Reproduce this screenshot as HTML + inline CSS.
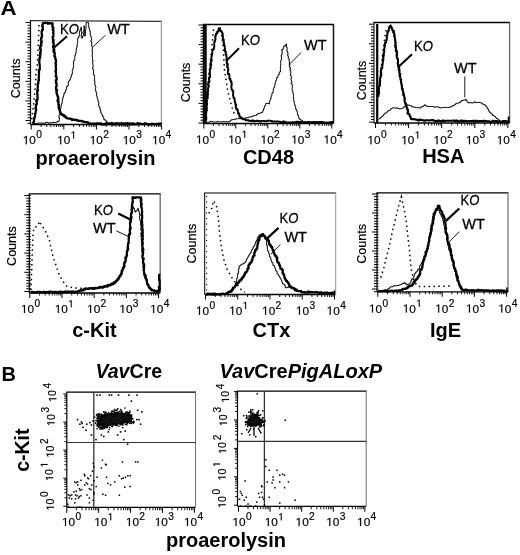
<!DOCTYPE html>
<html><head><meta charset="utf-8"><style>
html,body{margin:0;padding:0;background:#fff;overflow:hidden;}
svg{display:block;filter:blur(0.35px);}
text{font-family:"Liberation Sans", sans-serif;fill:#000;}
.th{stroke:#000;stroke-width:0.3px;}
.tl{stroke:#000;stroke-width:0.18px;}
</style></head><body>
<svg width="520" height="555" viewBox="0 0 520 555" shape-rendering="auto">
<rect width="520" height="555" fill="#fff"/>
<text x="0.60" y="15.30" font-size="20" font-weight="bold" font-style="normal" text-anchor="start" textLength="16.1" lengthAdjust="spacingAndGlyphs">A</text>
<text x="1.60" y="380.90" font-size="20" font-weight="bold" font-style="normal" text-anchor="start" >B</text>
<line x1="29.90" y1="20.60" x2="161.90" y2="21.40" stroke="#333" stroke-width="1.2" />
<line x1="30.50" y1="20.60" x2="30.50" y2="124.50" stroke="#000" stroke-width="1.2" />
<line x1="30.50" y1="124.50" x2="161.40" y2="124.50" stroke="#000" stroke-width="1.3" />
<line x1="161.40" y1="20.60" x2="161.40" y2="124.50" stroke="#999" stroke-width="1.2" />
<line x1="25.50" y1="22.50" x2="30.50" y2="22.50" stroke="#000" stroke-width="1" />
<line x1="27.50" y1="25.30" x2="30.50" y2="25.30" stroke="#000" stroke-width="1" />
<line x1="27.50" y1="28.10" x2="30.50" y2="28.10" stroke="#000" stroke-width="1" />
<line x1="27.50" y1="30.90" x2="30.50" y2="30.90" stroke="#000" stroke-width="1" />
<line x1="27.50" y1="33.70" x2="30.50" y2="33.70" stroke="#000" stroke-width="1" />
<line x1="27.50" y1="36.50" x2="30.50" y2="36.50" stroke="#000" stroke-width="1" />
<line x1="27.50" y1="39.30" x2="30.50" y2="39.30" stroke="#000" stroke-width="1" />
<line x1="25.50" y1="42.10" x2="30.50" y2="42.10" stroke="#000" stroke-width="1" />
<line x1="27.50" y1="44.90" x2="30.50" y2="44.90" stroke="#000" stroke-width="1" />
<line x1="27.50" y1="47.70" x2="30.50" y2="47.70" stroke="#000" stroke-width="1" />
<line x1="27.50" y1="50.50" x2="30.50" y2="50.50" stroke="#000" stroke-width="1" />
<line x1="27.50" y1="53.30" x2="30.50" y2="53.30" stroke="#000" stroke-width="1" />
<line x1="27.50" y1="56.10" x2="30.50" y2="56.10" stroke="#000" stroke-width="1" />
<line x1="27.50" y1="58.90" x2="30.50" y2="58.90" stroke="#000" stroke-width="1" />
<line x1="25.50" y1="61.70" x2="30.50" y2="61.70" stroke="#000" stroke-width="1" />
<line x1="27.50" y1="64.50" x2="30.50" y2="64.50" stroke="#000" stroke-width="1" />
<line x1="27.50" y1="67.30" x2="30.50" y2="67.30" stroke="#000" stroke-width="1" />
<line x1="27.50" y1="70.10" x2="30.50" y2="70.10" stroke="#000" stroke-width="1" />
<line x1="27.50" y1="72.90" x2="30.50" y2="72.90" stroke="#000" stroke-width="1" />
<line x1="27.50" y1="75.70" x2="30.50" y2="75.70" stroke="#000" stroke-width="1" />
<line x1="27.50" y1="78.50" x2="30.50" y2="78.50" stroke="#000" stroke-width="1" />
<line x1="25.50" y1="81.30" x2="30.50" y2="81.30" stroke="#000" stroke-width="1" />
<line x1="27.50" y1="84.10" x2="30.50" y2="84.10" stroke="#000" stroke-width="1" />
<line x1="27.50" y1="86.90" x2="30.50" y2="86.90" stroke="#000" stroke-width="1" />
<line x1="27.50" y1="89.70" x2="30.50" y2="89.70" stroke="#000" stroke-width="1" />
<line x1="27.50" y1="92.50" x2="30.50" y2="92.50" stroke="#000" stroke-width="1" />
<line x1="27.50" y1="95.30" x2="30.50" y2="95.30" stroke="#000" stroke-width="1" />
<line x1="27.50" y1="98.10" x2="30.50" y2="98.10" stroke="#000" stroke-width="1" />
<line x1="25.50" y1="100.90" x2="30.50" y2="100.90" stroke="#000" stroke-width="1" />
<line x1="27.50" y1="103.70" x2="30.50" y2="103.70" stroke="#000" stroke-width="1" />
<line x1="27.50" y1="106.50" x2="30.50" y2="106.50" stroke="#000" stroke-width="1" />
<line x1="27.50" y1="109.30" x2="30.50" y2="109.30" stroke="#000" stroke-width="1" />
<line x1="27.50" y1="112.10" x2="30.50" y2="112.10" stroke="#000" stroke-width="1" />
<line x1="27.50" y1="114.90" x2="30.50" y2="114.90" stroke="#000" stroke-width="1" />
<line x1="27.50" y1="117.70" x2="30.50" y2="117.70" stroke="#000" stroke-width="1" />
<line x1="25.50" y1="120.50" x2="30.50" y2="120.50" stroke="#000" stroke-width="1" />
<line x1="27.50" y1="123.30" x2="30.50" y2="123.30" stroke="#000" stroke-width="1" />
<line x1="31.20" y1="124.50" x2="31.20" y2="129.50" stroke="#000" stroke-width="1" />
<line x1="41.01" y1="124.50" x2="41.01" y2="127.00" stroke="#000" stroke-width="0.9" />
<line x1="46.75" y1="124.50" x2="46.75" y2="127.00" stroke="#000" stroke-width="0.9" />
<line x1="50.83" y1="124.50" x2="50.83" y2="127.00" stroke="#000" stroke-width="0.9" />
<line x1="53.99" y1="124.50" x2="53.99" y2="127.00" stroke="#000" stroke-width="0.9" />
<line x1="56.57" y1="124.50" x2="56.57" y2="127.00" stroke="#000" stroke-width="0.9" />
<line x1="58.75" y1="124.50" x2="58.75" y2="127.00" stroke="#000" stroke-width="0.9" />
<line x1="60.64" y1="124.50" x2="60.64" y2="127.00" stroke="#000" stroke-width="0.9" />
<line x1="62.31" y1="124.50" x2="62.31" y2="127.00" stroke="#000" stroke-width="0.9" />
<line x1="63.80" y1="124.50" x2="63.80" y2="129.50" stroke="#000" stroke-width="1" />
<line x1="73.61" y1="124.50" x2="73.61" y2="127.00" stroke="#000" stroke-width="0.9" />
<line x1="79.35" y1="124.50" x2="79.35" y2="127.00" stroke="#000" stroke-width="0.9" />
<line x1="83.43" y1="124.50" x2="83.43" y2="127.00" stroke="#000" stroke-width="0.9" />
<line x1="86.59" y1="124.50" x2="86.59" y2="127.00" stroke="#000" stroke-width="0.9" />
<line x1="89.17" y1="124.50" x2="89.17" y2="127.00" stroke="#000" stroke-width="0.9" />
<line x1="91.35" y1="124.50" x2="91.35" y2="127.00" stroke="#000" stroke-width="0.9" />
<line x1="93.24" y1="124.50" x2="93.24" y2="127.00" stroke="#000" stroke-width="0.9" />
<line x1="94.91" y1="124.50" x2="94.91" y2="127.00" stroke="#000" stroke-width="0.9" />
<line x1="96.40" y1="124.50" x2="96.40" y2="129.50" stroke="#000" stroke-width="1" />
<line x1="106.21" y1="124.50" x2="106.21" y2="127.00" stroke="#000" stroke-width="0.9" />
<line x1="111.95" y1="124.50" x2="111.95" y2="127.00" stroke="#000" stroke-width="0.9" />
<line x1="116.03" y1="124.50" x2="116.03" y2="127.00" stroke="#000" stroke-width="0.9" />
<line x1="119.19" y1="124.50" x2="119.19" y2="127.00" stroke="#000" stroke-width="0.9" />
<line x1="121.77" y1="124.50" x2="121.77" y2="127.00" stroke="#000" stroke-width="0.9" />
<line x1="123.95" y1="124.50" x2="123.95" y2="127.00" stroke="#000" stroke-width="0.9" />
<line x1="125.84" y1="124.50" x2="125.84" y2="127.00" stroke="#000" stroke-width="0.9" />
<line x1="127.51" y1="124.50" x2="127.51" y2="127.00" stroke="#000" stroke-width="0.9" />
<line x1="129.00" y1="124.50" x2="129.00" y2="129.50" stroke="#000" stroke-width="1" />
<line x1="138.81" y1="124.50" x2="138.81" y2="127.00" stroke="#000" stroke-width="0.9" />
<line x1="144.55" y1="124.50" x2="144.55" y2="127.00" stroke="#000" stroke-width="0.9" />
<line x1="148.63" y1="124.50" x2="148.63" y2="127.00" stroke="#000" stroke-width="0.9" />
<line x1="151.79" y1="124.50" x2="151.79" y2="127.00" stroke="#000" stroke-width="0.9" />
<line x1="154.37" y1="124.50" x2="154.37" y2="127.00" stroke="#000" stroke-width="0.9" />
<line x1="156.55" y1="124.50" x2="156.55" y2="127.00" stroke="#000" stroke-width="0.9" />
<line x1="158.44" y1="124.50" x2="158.44" y2="127.00" stroke="#000" stroke-width="0.9" />
<line x1="160.11" y1="124.50" x2="160.11" y2="127.00" stroke="#000" stroke-width="0.9" />
<line x1="161.60" y1="124.50" x2="161.60" y2="129.50" stroke="#000" stroke-width="1" />
<path d="M515 0V1237L197 1010V1180L530 1409H696V0Z" transform="translate(22.80,144.20) scale(0.00576,-0.00576)" fill="#000" stroke="#000" stroke-width="31.2"/><text class="tl" x="29.36" y="144.20" font-size="11.8">0</text><text class="tl" x="36.23" y="138.40" font-size="10.2">0</text>
<path d="M515 0V1237L197 1010V1180L530 1409H696V0Z" transform="translate(57.20,144.20) scale(0.00576,-0.00576)" fill="#000" stroke="#000" stroke-width="31.2"/><text class="tl" x="63.76" y="144.20" font-size="11.8">0</text><path d="M515 0V1237L197 1010V1180L530 1409H696V0Z" transform="translate(70.63,138.40) scale(0.00498,-0.00498)" fill="#000" stroke="#000" stroke-width="36.1"/>
<path d="M515 0V1237L197 1010V1180L530 1409H696V0Z" transform="translate(89.80,144.20) scale(0.00576,-0.00576)" fill="#000" stroke="#000" stroke-width="31.2"/><text class="tl" x="96.36" y="144.20" font-size="11.8">0</text><text class="tl" x="103.23" y="138.40" font-size="10.2">2</text>
<path d="M515 0V1237L197 1010V1180L530 1409H696V0Z" transform="translate(122.80,144.20) scale(0.00576,-0.00576)" fill="#000" stroke="#000" stroke-width="31.2"/><text class="tl" x="129.36" y="144.20" font-size="11.8">0</text><text class="tl" x="136.23" y="138.40" font-size="10.2">3</text>
<path d="M515 0V1237L197 1010V1180L530 1409H696V0Z" transform="translate(152.10,144.20) scale(0.00576,-0.00576)" fill="#000" stroke="#000" stroke-width="31.2"/><text class="tl" x="158.66" y="144.20" font-size="11.8">0</text><text class="tl" x="165.53" y="138.40" font-size="10.2">4</text>
<text class="tl" x="0" y="0" font-size="12.5" text-anchor="middle" transform="translate(20.10,78.40) rotate(-90)">Counts</text>
<text x="95.50" y="165.00" font-size="20" font-weight="bold" font-style="normal" text-anchor="middle" >proaerolysin</text>
<polyline points="39.00,25.00 38.50,40.00 37.40,64.00 36.00,72.00 35.40,85.00 33.50,105.00 31.40,122.00" fill="none" stroke="#000" stroke-width="1.5" stroke-dasharray="1.5 3.4" />
<polyline points="32.99,122.97 34.58,122.97 34.58,123.57 36.15,123.57 36.15,123.45 37.71,123.45 37.71,122.95 39.29,122.95 39.29,123.12 40.86,123.12 40.86,123.04 42.43,123.04 42.43,123.18 44.01,123.18 44.01,123.26 45.41,123.26 45.41,122.58 46.84,122.58 46.84,122.46 48.30,122.46 48.30,123.13 49.71,123.13 49.71,122.71 51.15,122.71 51.15,122.95 52.55,122.95 52.55,122.21 53.99,122.21 53.99,122.55 55.81,122.55 55.81,122.24 57.29,122.24 57.29,121.38 59.19,121.38 59.19,119.27 59.43,119.27 59.43,117.78 58.93,117.78 58.93,116.15 59.19,116.15 59.19,114.67 59.92,114.67 59.92,113.26 60.55,113.26 60.55,111.84 60.32,111.84 60.32,110.27 60.45,110.27 60.45,108.75 60.94,108.75 60.94,107.32 60.91,107.32 60.91,105.78 61.39,105.78 61.39,104.35 61.89,104.35 61.89,102.92 62.25,102.92 62.25,101.47 62.33,101.47 62.33,99.95 62.64,99.95 62.64,98.48 62.94,98.48 62.94,97.01 63.47,97.01 63.47,95.59 63.88,95.59 63.88,94.01 64.22,94.01 64.22,92.41 65.47,92.41 65.47,91.15 65.79,91.15 65.79,89.54 66.42,89.54 66.42,88.05 66.62,88.05 66.62,86.40 67.87,86.40 67.87,85.16 68.34,85.16 68.34,83.62 68.30,83.62 68.30,81.88 69.06,81.88 69.06,80.45 69.95,80.45 69.95,79.05 70.50,79.05 70.50,77.53 71.25,77.53 71.25,76.08 71.37,76.08 71.37,74.40 72.29,74.40 72.29,72.95 72.39,72.95 72.39,71.51 72.30,71.51 72.30,70.05 72.79,70.05 72.79,68.68 73.29,68.68 73.29,67.31 73.49,67.31 73.49,65.89 73.43,65.89 73.43,64.43 73.74,64.43 73.74,63.03 73.49,63.03 73.49,61.52 73.99,61.52 73.99,59.97 74.80,59.97 74.80,58.49 74.77,58.49 74.77,56.83 74.88,56.83 74.88,55.21 75.53,55.21 75.53,53.69 75.98,53.69 75.98,52.13 76.19,52.13 76.19,50.71 76.16,50.71 76.16,49.26 76.46,49.26 76.46,47.85 76.76,47.85 76.76,46.45 77.23,46.45 77.23,45.08 77.24,45.08 77.24,43.63 77.37,43.63 77.37,42.20 77.69,42.20 77.69,40.80 77.60,40.80 77.60,39.13 77.93,39.13 77.93,37.55 78.83,37.55 78.83,36.09 79.39,36.09 79.39,34.55 79.37,34.55 79.37,32.90 79.51,32.90 79.51,31.26 79.96,31.26 79.96,29.75 80.87,29.75 80.87,28.43 81.07,28.43 81.07,27.00 81.26,27.00 81.26,28.57 81.46,28.57 81.46,30.14 81.18,30.14 81.18,31.71 81.74,31.71 81.74,33.29 81.49,33.29 81.49,34.86 81.09,34.86 81.09,36.43 81.50,36.43 81.50,38.07 82.46,38.07 82.46,37.99 82.52,37.99 82.52,36.43 82.99,36.43 82.99,34.93 83.58,34.93 83.58,33.45 82.96,33.45 82.96,31.79 83.88,31.79 83.88,30.35 84.14,30.35 84.14,28.82 84.42,28.82 84.42,27.29 84.08,27.29 84.08,25.70 84.02,25.70 84.02,27.17 84.28,27.17 84.28,28.64 84.24,28.64 84.24,30.11 84.37,30.11 84.37,31.59 84.70,31.59 84.70,33.06 83.97,33.06 83.97,34.53 84.30,34.53 84.30,36.06 84.93,36.06 84.93,35.98 85.32,35.98 85.32,34.53 85.41,34.53 85.41,33.07 85.40,33.07 85.40,31.59 85.51,31.59 85.51,30.12 85.79,30.12 85.79,28.67 85.98,28.67 85.98,27.21 86.08,27.21 86.08,25.74 86.05,25.74 86.05,24.26 86.20,24.26 86.20,22.38 88.24,22.38 88.24,22.74 88.62,22.74 88.62,24.15 88.59,24.15 88.59,25.65 88.68,25.65 88.68,27.12 89.07,27.12 89.07,28.53 89.41,28.53 89.41,29.94 89.72,29.94 89.72,31.33 90.39,31.33 90.39,32.74 90.04,32.74 90.04,34.26 90.36,34.26 90.36,35.71 91.06,35.71 91.06,37.11 91.30,37.11 91.30,38.57 91.47,38.57 91.47,40.03 90.98,40.03 90.98,41.57 91.61,41.57 91.61,42.98 91.90,42.98 91.90,44.43 91.62,44.43 91.62,45.95 92.04,45.95 92.04,47.39 92.35,47.39 92.35,48.80 92.33,48.80 92.33,50.23 92.07,50.23 92.07,51.67 92.46,51.67 92.46,53.07 92.43,53.07 92.43,54.50 92.10,54.50 92.10,55.94 92.39,55.94 92.39,57.35 92.57,57.35 92.57,58.76 92.50,58.76 92.50,60.19 92.97,60.19 92.97,61.59 92.71,61.59 92.71,63.03 92.74,63.03 92.74,64.45 93.02,64.45 93.02,65.87 93.15,65.87 93.15,67.26 92.63,67.26 92.63,68.85 93.17,68.85 93.17,70.32 93.63,70.32 93.63,71.80 93.47,71.80 93.47,73.35 93.47,73.35 93.47,74.89 94.37,74.89 94.37,76.31 94.56,76.31 94.56,77.82 94.64,77.82 94.64,79.34 94.31,79.34 94.31,80.91 95.00,80.91 95.00,82.36 94.73,82.36 94.73,83.89 94.96,83.89 94.96,85.36 95.29,85.36 95.29,86.81 95.79,86.81 95.79,88.23 95.33,88.23 95.33,89.79 95.70,89.79 95.70,91.24 96.16,91.24 96.16,92.67 96.64,92.67 96.64,94.10 96.47,94.10 96.47,95.63 97.04,95.63 97.04,97.00 97.23,97.00 97.23,98.47 97.81,98.47 97.81,99.84 97.89,99.84 97.89,101.33 98.74,101.33 98.74,102.63 98.88,102.63 98.88,104.11 98.64,104.11 98.64,105.68 99.08,105.68 99.08,107.10 99.98,107.10 99.98,108.29 99.92,108.29 99.92,109.78 100.81,109.78 100.81,110.98 100.68,110.98 100.68,112.49 101.26,112.49 101.26,113.78 101.96,113.78 101.96,115.03 102.49,115.03 102.49,116.29 103.61,116.29 103.61,117.74 103.87,117.74 103.87,119.71 105.29,119.71 105.29,120.73 106.42,120.73 106.42,122.11 107.99,122.11 107.99,123.02 109.43,123.02 109.43,122.69 110.87,122.69 110.87,122.35 112.29,122.35 112.29,123.00 113.72,123.00 113.72,123.12 115.16,123.12 115.16,122.91 116.59,122.91 116.59,122.75 118.03,122.75 118.03,122.66 119.46,122.66 119.46,122.66 120.90,122.66 120.90,122.55 122.32,122.55 122.32,123.00 123.76,123.00 123.76,122.81 125.19,122.81 125.19,122.62 126.63,122.62 126.63,122.56 128.05,122.56 128.05,123.09 129.49,123.09 129.49,122.78 130.92,122.78 130.92,122.99 132.35,122.99 132.35,122.86 133.78,122.86 133.78,123.37 135.21,123.37 135.21,123.42 136.66,123.42 136.66,122.65 138.09,122.65 138.09,122.84 139.52,122.84 139.52,122.98 140.94,122.98 140.94,123.60 142.37,123.60 142.37,123.44 143.81,123.44 143.81,123.06 145.25,123.06 145.25,122.97 146.67,122.97 146.67,123.41 148.10,123.41 148.10,123.58 149.53,123.58 149.53,123.69 150.98,123.69 150.98,123.19 152.40,123.19 152.40,123.70 153.83,123.70 153.83,123.55 155.27,123.55 155.27,123.39 156.70,123.39 156.70,123.86 158.14,123.86 158.14,123.21 159.56,123.21 159.56,123.68 161.00,123.68 161.00,123.50" fill="none" stroke="#000" stroke-width="1.0" stroke-linejoin="round" stroke-linecap="butt" />
<polyline points="32.65,123.69 33.21,123.69 33.21,122.03 34.05,122.03 34.05,120.45 34.01,120.45 34.01,118.64 34.51,118.64 34.51,116.97 35.04,116.97 35.04,115.31 35.05,115.31 35.05,113.56 35.57,113.56 35.57,112.10 35.85,112.10 35.85,110.60 36.18,110.60 36.18,109.11 35.57,109.11 35.57,107.53 35.95,107.53 35.95,106.05 35.87,106.05 35.87,104.52 36.81,104.52 36.81,103.09 36.84,103.09 36.84,101.57 36.28,101.57 36.28,100.00 37.46,100.00 37.46,98.59 37.59,98.59 37.59,97.09 37.40,97.09 37.40,95.55 37.51,95.55 37.51,94.04 37.17,94.04 37.17,92.48 37.16,92.48 37.16,90.96 37.88,90.96 37.88,89.51 37.52,89.51 37.52,87.97 37.75,87.97 37.75,86.48 37.89,86.48 37.89,84.98 37.75,84.98 37.75,83.47 38.32,83.47 38.32,82.00 38.38,82.00 38.38,80.50 38.91,80.50 38.91,79.02 38.64,79.02 38.64,77.50 38.87,77.50 38.87,76.01 38.80,76.01 38.80,74.50 39.07,74.50 39.07,73.01 38.94,73.01 38.94,71.50 38.84,71.50 38.84,69.98 39.72,69.98 39.72,68.53 39.81,68.53 39.81,67.03 39.74,67.03 39.74,65.52 39.69,65.52 39.69,64.01 39.35,64.01 39.35,62.49 39.35,62.49 39.35,60.98 39.51,60.98 39.51,59.49 39.36,59.49 39.36,57.97 40.22,57.97 40.22,56.52 39.91,56.52 39.91,54.99 40.50,54.99 40.50,53.52 40.09,53.52 40.09,51.99 40.81,51.99 40.81,50.53 40.78,50.53 40.78,49.04 40.01,49.04 40.01,47.36 40.39,47.36 40.39,45.79 41.31,45.79 41.31,44.27 40.99,44.27 40.99,42.63 41.70,42.63 41.70,41.10 41.21,41.10 41.21,39.44 41.01,39.44 41.01,37.82 41.78,37.82 41.78,36.29 42.10,36.29 42.10,34.71 41.69,34.71 41.69,33.07 41.65,33.07 41.65,31.46 42.06,31.46 42.06,29.86 42.89,29.86 42.89,28.30 42.80,28.30 42.80,26.66 42.24,26.66 42.24,24.98 42.80,24.98 42.80,23.12 44.33,23.12 44.33,22.96 45.87,22.96 45.87,22.92 47.40,22.92 47.40,23.73 48.93,23.73 48.93,23.05 50.47,23.05 50.47,23.47 52.06,23.47 52.06,23.39 52.64,23.39 52.64,25.14 52.35,25.14 52.35,27.04 53.31,27.04 53.31,28.79 52.80,28.79 52.80,30.36 53.43,30.36 53.43,31.89 53.15,31.89 53.15,33.46 53.43,33.46 53.43,35.00 53.42,35.00 53.42,36.56 52.71,36.56 52.71,38.14 52.94,38.14 52.94,39.69 53.55,39.69 53.55,41.22 52.96,41.22 52.96,42.80 53.76,42.80 53.76,44.33 53.61,44.33 53.61,45.89 53.16,45.89 53.16,47.46 53.45,47.46 53.45,49.02 54.26,49.02 54.26,50.42 53.51,50.42 53.51,52.06 54.58,52.06 54.58,53.42 54.75,53.42 54.75,54.92 54.41,54.92 54.41,56.49 55.12,56.49 55.12,57.91 55.38,57.91 55.38,59.39 55.84,59.39 55.84,60.84 56.05,60.84 56.05,62.38 55.57,62.38 55.57,64.00 56.01,64.00 56.01,65.59 55.68,65.59 55.68,67.20 56.00,67.20 56.00,68.79 55.97,68.79 55.97,70.40 55.48,70.40 55.48,72.02 56.06,72.02 56.06,73.60 56.03,73.60 56.03,75.20 55.77,75.20 55.77,76.82 56.58,76.82 56.58,78.39 56.68,78.39 56.68,80.00 55.85,80.00 55.85,81.60 55.95,81.60 55.95,83.20 56.58,83.20 56.58,84.80 56.64,84.80 56.64,86.40 56.04,86.40 56.04,88.04 56.02,88.04 56.02,89.55 57.03,89.55 57.03,90.94 56.41,90.94 56.41,92.54 56.68,92.54 56.68,94.02 57.19,94.02 57.19,95.47 57.59,95.47 57.59,96.93 58.13,96.93 58.13,98.37 58.40,98.37 58.40,99.85 57.60,99.85 57.60,101.48 58.59,101.48 58.59,102.86 58.29,102.86 58.29,104.50 59.00,104.50 59.00,106.00 58.60,106.00 58.60,107.65 59.06,107.65 59.06,109.18 59.61,109.18 59.61,110.70 59.89,110.70 59.89,112.09 60.61,112.09 60.61,114.05 62.24,114.05 62.24,115.09 64.00,115.09 64.00,116.34 65.68,116.34 65.68,117.76 67.14,117.76 67.14,118.52 68.76,118.52 68.76,118.72 70.42,118.72 70.42,118.82 71.77,118.82 71.77,119.94 73.54,119.94 73.54,119.64 75.10,119.64 75.10,119.88 76.56,119.88 76.56,120.44 78.03,120.44 78.03,120.92 79.62,120.92 79.62,120.79 81.11,120.79 81.11,121.21 82.58,121.21 82.58,121.70 84.05,121.70 84.05,122.21 85.65,122.21 85.65,122.02 87.12,122.02 87.12,122.56 88.55,122.56 88.55,123.43 90.11,123.43 90.11,123.69 91.72,123.69 91.72,123.50 93.28,123.50 93.28,123.71 94.86,123.71 94.86,123.76 96.48,123.76 96.48,123.44 98.00,123.44 98.00,123.49 99.50,123.49 99.50,123.47 101.00,123.47 101.00,124.45 102.50,124.45 102.50,124.22 104.00,124.22 104.00,124.51 105.50,124.51 105.50,123.47 107.00,123.47 107.00,124.15 108.50,124.15 108.50,123.98 110.00,123.98 110.00,124.25 111.50,124.25 111.50,123.80 113.00,123.80 113.00,124.55 114.50,124.55 114.50,123.53 116.00,123.53 116.00,124.05 117.50,124.05 117.50,124.26 119.00,124.26 119.00,124.44 120.50,124.44 120.50,124.26 122.00,124.26 122.00,124.22 123.50,124.22 123.50,124.32 125.00,124.32 125.00,124.46 126.50,124.46 126.50,123.84 128.00,123.84 128.00,124.20 129.50,124.20 129.50,124.44 131.00,124.44 131.00,124.41 132.50,124.41 132.50,123.91 134.00,123.91 134.00,124.32 135.50,124.32 135.50,124.40 137.00,124.40 137.00,124.08 138.50,124.08 138.50,124.14 140.00,124.14 140.00,123.87 141.50,123.87 141.50,124.09 143.00,124.09 143.00,124.12 144.50,124.12 144.50,123.54 146.00,123.54 146.00,124.15 147.50,124.15 147.50,124.54 149.00,124.54 149.00,124.42 150.50,124.42 150.50,124.25 152.00,124.25 152.00,123.88 153.50,123.88 153.50,124.26 155.00,124.26 155.00,124.09 156.50,124.09 156.50,123.93 158.00,123.93 158.00,124.37 159.50,124.37 159.50,123.54 161.00,123.54 161.00,124.00" fill="none" stroke="#000" stroke-width="2.2" stroke-linejoin="round" stroke-linecap="butt" />
<text x="59.90" y="34.10" font-size="14.3" font-weight="normal" font-style="normal" text-anchor="start" textLength="18.9" lengthAdjust="spacingAndGlyphs" class="th">K<tspan font-style="italic">O</tspan></text>
<line x1="67.00" y1="36.20" x2="54.20" y2="47.60" stroke="#000" stroke-width="2.0" />
<text x="107.20" y="34.00" font-size="14.5" font-weight="normal" font-style="normal" text-anchor="start" class="th">WT</text>
<line x1="105.50" y1="35.20" x2="92.70" y2="47.00" stroke="#000" stroke-width="0.9" />
<line x1="202.90" y1="24.50" x2="334.00" y2="24.50" stroke="#000" stroke-width="1.3" />
<line x1="203.50" y1="24.50" x2="203.50" y2="123.50" stroke="#000" stroke-width="1.5" />
<line x1="203.50" y1="123.50" x2="333.50" y2="123.50" stroke="#000" stroke-width="1.3" />
<line x1="333.50" y1="24.50" x2="333.50" y2="123.50" stroke="#111" stroke-width="1.5" />
<line x1="205.40" y1="24.50" x2="205.40" y2="123.50" stroke="#000" stroke-width="2.6" />
<line x1="198.50" y1="25.00" x2="203.50" y2="25.00" stroke="#000" stroke-width="1" />
<line x1="200.50" y1="27.80" x2="203.50" y2="27.80" stroke="#000" stroke-width="1" />
<line x1="200.50" y1="30.60" x2="203.50" y2="30.60" stroke="#000" stroke-width="1" />
<line x1="200.50" y1="33.40" x2="203.50" y2="33.40" stroke="#000" stroke-width="1" />
<line x1="200.50" y1="36.20" x2="203.50" y2="36.20" stroke="#000" stroke-width="1" />
<line x1="200.50" y1="39.00" x2="203.50" y2="39.00" stroke="#000" stroke-width="1" />
<line x1="200.50" y1="41.80" x2="203.50" y2="41.80" stroke="#000" stroke-width="1" />
<line x1="198.50" y1="44.60" x2="203.50" y2="44.60" stroke="#000" stroke-width="1" />
<line x1="200.50" y1="47.40" x2="203.50" y2="47.40" stroke="#000" stroke-width="1" />
<line x1="200.50" y1="50.20" x2="203.50" y2="50.20" stroke="#000" stroke-width="1" />
<line x1="200.50" y1="53.00" x2="203.50" y2="53.00" stroke="#000" stroke-width="1" />
<line x1="200.50" y1="55.80" x2="203.50" y2="55.80" stroke="#000" stroke-width="1" />
<line x1="200.50" y1="58.60" x2="203.50" y2="58.60" stroke="#000" stroke-width="1" />
<line x1="200.50" y1="61.40" x2="203.50" y2="61.40" stroke="#000" stroke-width="1" />
<line x1="198.50" y1="64.20" x2="203.50" y2="64.20" stroke="#000" stroke-width="1" />
<line x1="200.50" y1="67.00" x2="203.50" y2="67.00" stroke="#000" stroke-width="1" />
<line x1="200.50" y1="69.80" x2="203.50" y2="69.80" stroke="#000" stroke-width="1" />
<line x1="200.50" y1="72.60" x2="203.50" y2="72.60" stroke="#000" stroke-width="1" />
<line x1="200.50" y1="75.40" x2="203.50" y2="75.40" stroke="#000" stroke-width="1" />
<line x1="200.50" y1="78.20" x2="203.50" y2="78.20" stroke="#000" stroke-width="1" />
<line x1="200.50" y1="81.00" x2="203.50" y2="81.00" stroke="#000" stroke-width="1" />
<line x1="198.50" y1="83.80" x2="203.50" y2="83.80" stroke="#000" stroke-width="1" />
<line x1="200.50" y1="86.60" x2="203.50" y2="86.60" stroke="#000" stroke-width="1" />
<line x1="200.50" y1="89.40" x2="203.50" y2="89.40" stroke="#000" stroke-width="1" />
<line x1="200.50" y1="92.20" x2="203.50" y2="92.20" stroke="#000" stroke-width="1" />
<line x1="200.50" y1="95.00" x2="203.50" y2="95.00" stroke="#000" stroke-width="1" />
<line x1="200.50" y1="97.80" x2="203.50" y2="97.80" stroke="#000" stroke-width="1" />
<line x1="200.50" y1="100.60" x2="203.50" y2="100.60" stroke="#000" stroke-width="1" />
<line x1="198.50" y1="103.40" x2="203.50" y2="103.40" stroke="#000" stroke-width="1" />
<line x1="200.50" y1="106.20" x2="203.50" y2="106.20" stroke="#000" stroke-width="1" />
<line x1="200.50" y1="109.00" x2="203.50" y2="109.00" stroke="#000" stroke-width="1" />
<line x1="200.50" y1="111.80" x2="203.50" y2="111.80" stroke="#000" stroke-width="1" />
<line x1="200.50" y1="114.60" x2="203.50" y2="114.60" stroke="#000" stroke-width="1" />
<line x1="200.50" y1="117.40" x2="203.50" y2="117.40" stroke="#000" stroke-width="1" />
<line x1="200.50" y1="120.20" x2="203.50" y2="120.20" stroke="#000" stroke-width="1" />
<line x1="198.50" y1="123.00" x2="203.50" y2="123.00" stroke="#000" stroke-width="1" />
<line x1="203.80" y1="123.50" x2="203.80" y2="128.50" stroke="#000" stroke-width="1" />
<line x1="213.43" y1="123.50" x2="213.43" y2="126.00" stroke="#000" stroke-width="0.9" />
<line x1="219.07" y1="123.50" x2="219.07" y2="126.00" stroke="#000" stroke-width="0.9" />
<line x1="223.07" y1="123.50" x2="223.07" y2="126.00" stroke="#000" stroke-width="0.9" />
<line x1="226.17" y1="123.50" x2="226.17" y2="126.00" stroke="#000" stroke-width="0.9" />
<line x1="228.70" y1="123.50" x2="228.70" y2="126.00" stroke="#000" stroke-width="0.9" />
<line x1="230.84" y1="123.50" x2="230.84" y2="126.00" stroke="#000" stroke-width="0.9" />
<line x1="232.70" y1="123.50" x2="232.70" y2="126.00" stroke="#000" stroke-width="0.9" />
<line x1="234.34" y1="123.50" x2="234.34" y2="126.00" stroke="#000" stroke-width="0.9" />
<line x1="235.80" y1="123.50" x2="235.80" y2="128.50" stroke="#000" stroke-width="1" />
<line x1="245.43" y1="123.50" x2="245.43" y2="126.00" stroke="#000" stroke-width="0.9" />
<line x1="251.07" y1="123.50" x2="251.07" y2="126.00" stroke="#000" stroke-width="0.9" />
<line x1="255.07" y1="123.50" x2="255.07" y2="126.00" stroke="#000" stroke-width="0.9" />
<line x1="258.17" y1="123.50" x2="258.17" y2="126.00" stroke="#000" stroke-width="0.9" />
<line x1="260.70" y1="123.50" x2="260.70" y2="126.00" stroke="#000" stroke-width="0.9" />
<line x1="262.84" y1="123.50" x2="262.84" y2="126.00" stroke="#000" stroke-width="0.9" />
<line x1="264.70" y1="123.50" x2="264.70" y2="126.00" stroke="#000" stroke-width="0.9" />
<line x1="266.34" y1="123.50" x2="266.34" y2="126.00" stroke="#000" stroke-width="0.9" />
<line x1="267.80" y1="123.50" x2="267.80" y2="128.50" stroke="#000" stroke-width="1" />
<line x1="277.43" y1="123.50" x2="277.43" y2="126.00" stroke="#000" stroke-width="0.9" />
<line x1="283.07" y1="123.50" x2="283.07" y2="126.00" stroke="#000" stroke-width="0.9" />
<line x1="287.07" y1="123.50" x2="287.07" y2="126.00" stroke="#000" stroke-width="0.9" />
<line x1="290.17" y1="123.50" x2="290.17" y2="126.00" stroke="#000" stroke-width="0.9" />
<line x1="292.70" y1="123.50" x2="292.70" y2="126.00" stroke="#000" stroke-width="0.9" />
<line x1="294.84" y1="123.50" x2="294.84" y2="126.00" stroke="#000" stroke-width="0.9" />
<line x1="296.70" y1="123.50" x2="296.70" y2="126.00" stroke="#000" stroke-width="0.9" />
<line x1="298.34" y1="123.50" x2="298.34" y2="126.00" stroke="#000" stroke-width="0.9" />
<line x1="299.80" y1="123.50" x2="299.80" y2="128.50" stroke="#000" stroke-width="1" />
<line x1="309.43" y1="123.50" x2="309.43" y2="126.00" stroke="#000" stroke-width="0.9" />
<line x1="315.07" y1="123.50" x2="315.07" y2="126.00" stroke="#000" stroke-width="0.9" />
<line x1="319.07" y1="123.50" x2="319.07" y2="126.00" stroke="#000" stroke-width="0.9" />
<line x1="322.17" y1="123.50" x2="322.17" y2="126.00" stroke="#000" stroke-width="0.9" />
<line x1="324.70" y1="123.50" x2="324.70" y2="126.00" stroke="#000" stroke-width="0.9" />
<line x1="326.84" y1="123.50" x2="326.84" y2="126.00" stroke="#000" stroke-width="0.9" />
<line x1="328.70" y1="123.50" x2="328.70" y2="126.00" stroke="#000" stroke-width="0.9" />
<line x1="330.34" y1="123.50" x2="330.34" y2="126.00" stroke="#000" stroke-width="0.9" />
<line x1="331.80" y1="123.50" x2="331.80" y2="128.50" stroke="#000" stroke-width="1" />
<path d="M515 0V1237L197 1010V1180L530 1409H696V0Z" transform="translate(196.00,143.60) scale(0.00576,-0.00576)" fill="#000" stroke="#000" stroke-width="31.2"/><text class="tl" x="202.56" y="143.60" font-size="11.8">0</text><text class="tl" x="209.43" y="137.80" font-size="10.2">0</text>
<path d="M515 0V1237L197 1010V1180L530 1409H696V0Z" transform="translate(228.30,143.60) scale(0.00576,-0.00576)" fill="#000" stroke="#000" stroke-width="31.2"/><text class="tl" x="234.86" y="143.60" font-size="11.8">0</text><path d="M515 0V1237L197 1010V1180L530 1409H696V0Z" transform="translate(241.73,137.80) scale(0.00498,-0.00498)" fill="#000" stroke="#000" stroke-width="36.1"/>
<path d="M515 0V1237L197 1010V1180L530 1409H696V0Z" transform="translate(260.60,143.60) scale(0.00576,-0.00576)" fill="#000" stroke="#000" stroke-width="31.2"/><text class="tl" x="267.16" y="143.60" font-size="11.8">0</text><text class="tl" x="274.03" y="137.80" font-size="10.2">2</text>
<path d="M515 0V1237L197 1010V1180L530 1409H696V0Z" transform="translate(291.30,143.60) scale(0.00576,-0.00576)" fill="#000" stroke="#000" stroke-width="31.2"/><text class="tl" x="297.86" y="143.60" font-size="11.8">0</text><text class="tl" x="304.73" y="137.80" font-size="10.2">3</text>
<path d="M515 0V1237L197 1010V1180L530 1409H696V0Z" transform="translate(323.60,143.60) scale(0.00576,-0.00576)" fill="#000" stroke="#000" stroke-width="31.2"/><text class="tl" x="330.16" y="143.60" font-size="11.8">0</text><text class="tl" x="337.03" y="137.80" font-size="10.2">4</text>
<text class="tl" x="0" y="0" font-size="12.5" text-anchor="middle" transform="translate(189.60,82.45) rotate(-90)">Counts</text>
<text x="268.50" y="163.50" font-size="20" font-weight="bold" font-style="normal" text-anchor="middle" >CD48</text>
<polyline points="213.50,29.40 211.50,50.00 209.50,70.00 208.00,90.00" fill="none" stroke="#000" stroke-width="1.5" stroke-dasharray="1.5 3.4" />
<polyline points="221.00,30.00 223.00,45.00 224.50,70.00 227.60,90.20 231.60,106.30 235.00,116.00" fill="none" stroke="#000" stroke-width="1.5" stroke-dasharray="1.5 3.4" />
<polyline points="207.00,122.21 208.43,122.21 208.43,122.20 209.86,122.20 209.86,121.40 211.29,121.40 211.29,121.43 212.71,121.43 212.71,122.10 214.14,122.10 214.14,122.01 215.57,122.01 215.57,121.95 217.00,121.95 217.00,121.63 218.43,121.63 218.43,121.90 219.86,121.90 219.86,121.90 221.29,121.90 221.29,121.87 222.71,121.87 222.71,121.49 224.14,121.49 224.14,121.74 225.57,121.74 225.57,121.70 227.09,121.70 227.09,121.98 228.53,121.98 228.53,121.53 229.85,121.53 229.85,120.83 231.00,120.83 231.00,119.84 232.67,119.84 232.67,119.55 234.33,119.55 234.33,119.19 235.98,119.19 235.98,118.79 237.64,118.79 237.64,118.58 239.17,118.58 239.17,118.75 240.63,118.75 240.63,118.39 242.12,118.39 242.12,118.23 243.66,118.23 243.66,118.46 245.09,118.46 245.09,117.91 246.57,117.91 246.57,117.72 248.01,117.72 248.01,117.21 249.46,117.21 249.46,116.80 250.93,116.80 250.93,116.86 252.22,116.86 252.22,116.04 253.74,116.04 253.74,115.67 255.30,115.67 255.30,115.40 256.54,115.40 256.54,114.47 257.71,114.47 257.71,113.41 259.35,113.41 259.35,113.32 260.71,113.32 260.71,112.59 262.19,112.59 262.19,111.79 262.97,111.79 262.97,110.41 263.48,110.41 263.48,108.93 264.14,108.93 264.14,107.51 264.41,107.51 264.41,105.91 265.56,105.91 265.56,104.71 265.68,104.71 265.68,103.50 267.34,103.50 267.34,103.26 268.92,103.26 268.92,104.07 269.31,104.07 269.31,102.68 269.51,102.68 269.51,101.23 269.99,101.23 269.99,99.87 270.38,99.87 270.38,98.49 271.18,98.49 271.18,97.22 271.23,97.22 271.23,95.73 271.94,95.73 271.94,94.44 271.95,94.44 271.95,92.94 272.83,92.94 272.83,91.70 273.27,91.70 273.27,90.33 273.31,90.33 273.31,88.83 273.82,88.83 273.82,87.48 274.55,87.48 274.55,86.20 274.80,86.20 274.80,84.77 275.02,84.77 275.02,83.33 275.22,83.33 275.22,81.88 275.73,81.88 275.73,80.53 276.46,80.53 276.46,79.27 276.66,79.27 276.66,77.65 277.90,77.65 277.90,76.48 278.01,76.48 278.01,74.82 279.17,74.82 279.17,73.62 279.31,73.62 279.31,71.96 280.51,71.96 280.51,70.64 280.41,70.64 280.41,69.22 280.36,69.22 280.36,67.80 280.50,67.80 280.50,66.40 280.74,66.40 280.74,65.01 280.81,65.01 280.81,63.61 280.69,63.61 280.69,62.18 280.72,62.18 280.72,60.78 281.12,60.78 281.12,59.40 281.63,59.40 281.63,58.04 281.48,58.04 281.48,56.61 281.11,56.61 281.11,55.17 281.91,55.17 281.91,53.83 281.95,53.83 281.95,52.42 282.24,52.42 282.24,51.03 281.75,51.03 281.75,49.47 283.18,49.47 283.18,47.83 283.65,47.83 283.65,46.19 285.04,46.19 285.04,45.25 286.10,45.25 286.10,43.86 286.44,43.86 286.44,45.45 286.17,45.45 286.17,47.16 287.15,47.16 287.15,48.64 287.02,48.64 287.02,50.13 286.97,50.13 286.97,51.60 287.75,51.60 287.75,52.94 288.02,52.94 288.02,54.36 287.67,54.36 287.67,55.88 288.32,55.88 288.32,57.24 288.30,57.24 288.30,58.71 289.15,58.71 289.15,60.03 289.10,60.03 289.10,61.50 289.51,61.50 289.51,62.90 289.31,62.90 289.31,64.40 290.07,64.40 290.07,65.76 289.46,65.76 289.46,67.44 290.46,67.44 290.46,68.96 289.99,68.96 289.99,70.62 290.80,70.62 290.80,72.16 290.75,72.16 290.75,73.78 290.42,73.78 290.42,75.43 291.17,75.43 291.17,76.80 291.30,76.80 291.30,78.24 291.00,78.24 291.00,79.72 291.44,79.72 291.44,81.12 291.90,81.12 291.90,82.52 291.21,82.52 291.21,84.05 292.12,84.05 292.12,85.40 292.38,85.40 292.38,86.82 292.26,86.82 292.26,88.28 292.18,88.28 292.18,89.74 292.22,89.74 292.22,91.19 292.94,91.19 292.94,92.54 293.00,92.54 293.00,93.96 293.52,93.96 293.52,95.31 293.41,95.31 293.41,96.76 293.38,96.76 293.38,98.21 293.66,98.21 293.66,99.59 293.77,99.59 293.77,101.01 294.16,101.01 294.16,102.38 294.32,102.38 294.32,103.79 294.71,103.79 294.71,105.15 295.17,105.15 295.17,106.50 295.63,106.50 295.63,107.82 295.74,107.82 295.74,109.37 296.51,109.37 296.51,110.70 297.16,110.70 297.16,112.06 297.34,112.06 297.34,113.59 297.46,113.59 297.46,115.13 298.57,115.13 298.57,116.34 298.65,116.34 298.65,117.90 299.25,117.90 299.25,119.22 300.39,119.22 300.39,120.04 301.77,120.04 301.77,120.48 302.59,120.48 302.59,121.83 304.00,121.83 304.00,121.98 305.45,121.98 305.45,122.31 306.90,122.31 306.90,122.16 308.35,122.16 308.35,121.81 309.80,121.81 309.80,122.31 311.25,122.31 311.25,121.95 312.70,121.95 312.70,121.89 314.15,121.89 314.15,121.89 315.60,121.89 315.60,122.02 317.05,122.02 317.05,121.97 318.50,121.97 318.50,122.47 319.95,122.47 319.95,122.37 321.40,122.37 321.40,122.82 322.85,122.82 322.85,122.79 324.30,122.79 324.30,122.86 325.75,122.86 325.75,122.18 327.20,122.18 327.20,122.39 328.65,122.39 328.65,122.23 330.10,122.23 330.10,122.55 331.55,122.55 331.55,122.60 333.00,122.60 333.00,122.50" fill="none" stroke="#000" stroke-width="1.0" stroke-linejoin="round" stroke-linecap="butt" />
<polyline points="205.97,119.80 206.25,119.80 206.25,118.29 206.34,118.29 206.34,116.76 205.84,116.76 205.84,115.21 205.77,115.21 205.77,113.68 206.25,113.68 206.25,112.18 206.21,112.18 206.21,110.65 206.88,110.65 206.88,109.16 206.82,109.16 206.82,107.63 206.80,107.63 206.80,106.10 206.83,106.10 206.83,104.57 207.02,104.57 207.02,103.06 206.53,103.06 206.53,101.50 206.93,101.50 206.93,99.99 206.80,99.99 206.80,98.30 207.78,98.30 207.78,96.71 207.02,96.71 207.02,94.95 208.02,94.95 208.02,93.37 207.37,93.37 207.37,91.62 208.20,91.62 208.20,90.02 207.98,90.02 207.98,88.38 208.22,88.38 208.22,86.79 208.85,86.79 208.85,85.24 208.11,85.24 208.11,83.55 208.32,83.55 208.32,81.95 209.42,81.95 209.42,80.55 209.14,80.55 209.14,79.00 208.85,79.00 208.85,77.45 210.00,77.45 210.00,76.06 210.12,76.06 210.12,74.55 209.38,74.55 209.38,72.94 209.92,72.94 209.92,71.49 209.80,71.49 209.80,69.95 210.20,69.95 210.20,68.47 210.73,68.47 210.73,67.02 210.43,67.02 210.43,65.45 211.22,65.45 211.22,64.02 210.62,64.02 210.62,62.46 210.87,62.46 210.87,60.97 211.70,60.97 211.70,59.53 211.36,59.53 211.36,57.99 211.49,57.99 211.49,56.49 211.80,56.49 211.80,55.02 212.04,55.02 212.04,53.39 212.30,53.39 212.30,51.77 212.28,51.77 212.28,50.09 213.38,50.09 213.38,48.65 214.00,48.65 214.00,47.10 214.31,47.10 214.31,45.60 214.28,45.60 214.28,44.04 214.25,44.04 214.25,42.47 214.55,42.47 214.55,40.97 215.21,40.97 215.21,39.54 215.49,39.54 215.49,38.04 215.18,38.04 215.18,36.42 215.61,36.42 215.61,34.94 216.06,34.94 216.06,33.43 217.08,33.43 217.08,31.71 218.24,31.71 218.24,30.05 218.80,30.05 218.80,28.10 220.09,28.10 220.09,29.17 220.20,29.17 220.20,30.99 221.42,30.99 221.42,32.11 222.18,32.11 222.18,33.50 222.72,33.50 222.72,34.96 222.72,34.96 222.72,36.49 222.99,36.49 222.99,37.98 222.79,37.98 222.79,39.54 223.74,39.54 223.74,40.94 223.48,40.94 223.48,42.51 224.11,42.51 224.11,43.95 223.76,43.95 223.76,45.53 224.70,45.53 224.70,46.90 224.74,46.90 224.74,48.44 224.97,48.44 224.97,49.94 224.95,49.94 224.95,51.50 225.88,51.50 225.88,52.86 225.74,52.86 225.74,54.44 226.31,54.44 226.31,55.87 226.54,55.87 226.54,57.37 226.63,57.37 226.63,58.91 226.40,58.91 226.40,60.45 227.10,60.45 227.10,62.07 226.75,62.07 226.75,63.80 227.79,63.80 227.79,65.39 227.14,65.39 227.14,67.15 227.92,67.15 227.92,68.76 228.29,68.76 228.29,70.41 227.85,70.41 227.85,72.15 227.86,72.15 227.86,73.92 229.27,73.92 229.27,75.27 229.45,75.27 229.45,76.96 229.36,76.96 229.36,78.73 230.27,78.73 230.27,80.22 230.82,80.22 230.82,81.81 231.53,81.81 231.53,83.40 231.79,83.40 231.79,84.90 231.45,84.90 231.45,86.52 231.34,86.52 231.34,88.10 231.62,88.10 231.62,89.60 232.44,89.60 232.44,91.00 233.25,91.00 233.25,92.40 233.21,92.40 233.21,93.96 233.00,93.96 233.00,95.56 233.25,95.56 233.25,97.09 233.83,97.09 233.83,98.53 234.64,98.53 234.64,99.90 234.70,99.90 234.70,101.47 235.14,101.47 235.14,102.95 235.35,102.95 235.35,104.48 236.12,104.48 236.12,105.87 235.77,105.87 235.77,107.54 236.20,107.54 236.20,109.02 237.34,109.02 237.34,110.24 237.89,110.24 237.89,111.78 237.99,111.78 237.99,113.53 239.26,113.53 239.26,114.74 239.28,114.74 239.28,116.52 240.39,116.52 240.39,117.81 241.65,117.81 241.65,118.67 243.00,118.67 243.00,119.35 244.59,119.35 244.59,119.54 245.81,119.54 245.81,120.26 247.34,120.26 247.34,120.32 248.85,120.32 248.85,120.87 250.37,120.87 250.37,120.97 251.94,120.97 251.94,120.44 253.42,120.44 253.42,121.35 254.98,121.35 254.98,120.93 256.48,120.93 256.48,120.82 258.04,120.82 258.04,120.94 259.61,120.94 259.61,121.46 261.13,121.46 261.13,120.91 262.68,120.91 262.68,120.89 264.24,120.89 264.24,121.13 265.79,121.13 265.79,121.09 267.27,121.09 267.27,120.78 268.90,120.78 268.90,120.60 270.46,120.60 270.46,120.97 272.01,120.97 272.01,121.50 273.61,121.50 273.61,121.57 275.23,121.57 275.23,121.53 276.84,121.53 276.84,121.46 278.43,121.46 278.43,121.67 280.00,121.67 280.00,122.26 281.51,122.26 281.51,122.08 283.03,122.08 283.03,121.50 284.54,121.50 284.54,122.27 286.05,122.27 286.05,122.50 287.57,122.50 287.57,122.40 289.08,122.40 289.08,122.52 290.60,122.52 290.60,122.55 292.11,122.55 292.11,122.15 293.63,122.15 293.63,122.45 295.14,122.45 295.14,122.01 296.66,122.01 296.66,121.72 298.17,121.72 298.17,122.01 299.69,122.01 299.69,121.98 301.20,121.98 301.20,122.68 302.71,122.68 302.71,122.42 304.23,122.42 304.23,122.27 305.74,122.27 305.74,122.38 307.26,122.38 307.26,121.84 308.77,121.84 308.77,122.31 310.28,122.31 310.28,122.51 311.80,122.51 311.80,122.18 313.32,122.18 313.32,122.03 314.83,122.03 314.83,122.23 316.34,122.23 316.34,122.15 317.86,122.15 317.86,122.56 319.38,122.56 319.38,121.98 320.89,121.98 320.89,121.94 322.40,121.94 322.40,122.19 323.91,122.19 323.91,122.63 325.43,122.63 325.43,122.71 326.94,122.71 326.94,122.62 328.45,122.62 328.45,122.94 329.97,122.94 329.97,122.32 331.49,122.32 331.49,121.97 333.00,121.97 333.00,122.50" fill="none" stroke="#000" stroke-width="1.9" stroke-linejoin="round" stroke-linecap="butt" />
<text x="240.90" y="45.30" font-size="14.3" font-weight="normal" font-style="normal" text-anchor="start" textLength="18.9" lengthAdjust="spacingAndGlyphs" class="th">K<tspan font-style="italic">O</tspan></text>
<line x1="239.00" y1="48.30" x2="226.90" y2="60.40" stroke="#000" stroke-width="2.0" />
<text x="304.10" y="49.50" font-size="14.5" font-weight="normal" font-style="normal" text-anchor="start" class="th">WT</text>
<line x1="301.20" y1="52.50" x2="288.70" y2="64.90" stroke="#000" stroke-width="0.9" />
<line x1="373.40" y1="22.50" x2="510.10" y2="22.50" stroke="#000" stroke-width="1.3" />
<line x1="374.00" y1="22.50" x2="374.00" y2="123.00" stroke="#000" stroke-width="1.0" />
<line x1="374.00" y1="123.00" x2="509.60" y2="123.00" stroke="#000" stroke-width="1.3" />
<line x1="509.60" y1="22.50" x2="509.60" y2="123.00" stroke="#666" stroke-width="1.3" />
<line x1="377.20" y1="24.00" x2="377.20" y2="123.00" stroke="#000" stroke-width="2.2" />
<line x1="369.00" y1="24.20" x2="374.00" y2="24.20" stroke="#000" stroke-width="1" />
<line x1="371.00" y1="27.00" x2="374.00" y2="27.00" stroke="#000" stroke-width="1" />
<line x1="371.00" y1="29.80" x2="374.00" y2="29.80" stroke="#000" stroke-width="1" />
<line x1="371.00" y1="32.60" x2="374.00" y2="32.60" stroke="#000" stroke-width="1" />
<line x1="371.00" y1="35.40" x2="374.00" y2="35.40" stroke="#000" stroke-width="1" />
<line x1="371.00" y1="38.20" x2="374.00" y2="38.20" stroke="#000" stroke-width="1" />
<line x1="371.00" y1="41.00" x2="374.00" y2="41.00" stroke="#000" stroke-width="1" />
<line x1="369.00" y1="43.80" x2="374.00" y2="43.80" stroke="#000" stroke-width="1" />
<line x1="371.00" y1="46.60" x2="374.00" y2="46.60" stroke="#000" stroke-width="1" />
<line x1="371.00" y1="49.40" x2="374.00" y2="49.40" stroke="#000" stroke-width="1" />
<line x1="371.00" y1="52.20" x2="374.00" y2="52.20" stroke="#000" stroke-width="1" />
<line x1="371.00" y1="55.00" x2="374.00" y2="55.00" stroke="#000" stroke-width="1" />
<line x1="371.00" y1="57.80" x2="374.00" y2="57.80" stroke="#000" stroke-width="1" />
<line x1="371.00" y1="60.60" x2="374.00" y2="60.60" stroke="#000" stroke-width="1" />
<line x1="369.00" y1="63.40" x2="374.00" y2="63.40" stroke="#000" stroke-width="1" />
<line x1="371.00" y1="66.20" x2="374.00" y2="66.20" stroke="#000" stroke-width="1" />
<line x1="371.00" y1="69.00" x2="374.00" y2="69.00" stroke="#000" stroke-width="1" />
<line x1="371.00" y1="71.80" x2="374.00" y2="71.80" stroke="#000" stroke-width="1" />
<line x1="371.00" y1="74.60" x2="374.00" y2="74.60" stroke="#000" stroke-width="1" />
<line x1="371.00" y1="77.40" x2="374.00" y2="77.40" stroke="#000" stroke-width="1" />
<line x1="371.00" y1="80.20" x2="374.00" y2="80.20" stroke="#000" stroke-width="1" />
<line x1="369.00" y1="83.00" x2="374.00" y2="83.00" stroke="#000" stroke-width="1" />
<line x1="371.00" y1="85.80" x2="374.00" y2="85.80" stroke="#000" stroke-width="1" />
<line x1="371.00" y1="88.60" x2="374.00" y2="88.60" stroke="#000" stroke-width="1" />
<line x1="371.00" y1="91.40" x2="374.00" y2="91.40" stroke="#000" stroke-width="1" />
<line x1="371.00" y1="94.20" x2="374.00" y2="94.20" stroke="#000" stroke-width="1" />
<line x1="371.00" y1="97.00" x2="374.00" y2="97.00" stroke="#000" stroke-width="1" />
<line x1="371.00" y1="99.80" x2="374.00" y2="99.80" stroke="#000" stroke-width="1" />
<line x1="369.00" y1="102.60" x2="374.00" y2="102.60" stroke="#000" stroke-width="1" />
<line x1="371.00" y1="105.40" x2="374.00" y2="105.40" stroke="#000" stroke-width="1" />
<line x1="371.00" y1="108.20" x2="374.00" y2="108.20" stroke="#000" stroke-width="1" />
<line x1="371.00" y1="111.00" x2="374.00" y2="111.00" stroke="#000" stroke-width="1" />
<line x1="371.00" y1="113.80" x2="374.00" y2="113.80" stroke="#000" stroke-width="1" />
<line x1="371.00" y1="116.60" x2="374.00" y2="116.60" stroke="#000" stroke-width="1" />
<line x1="371.00" y1="119.40" x2="374.00" y2="119.40" stroke="#000" stroke-width="1" />
<line x1="369.00" y1="122.20" x2="374.00" y2="122.20" stroke="#000" stroke-width="1" />
<line x1="375.50" y1="123.00" x2="375.50" y2="128.00" stroke="#000" stroke-width="1" />
<line x1="385.46" y1="123.00" x2="385.46" y2="125.50" stroke="#000" stroke-width="0.9" />
<line x1="391.29" y1="123.00" x2="391.29" y2="125.50" stroke="#000" stroke-width="0.9" />
<line x1="395.43" y1="123.00" x2="395.43" y2="125.50" stroke="#000" stroke-width="0.9" />
<line x1="398.64" y1="123.00" x2="398.64" y2="125.50" stroke="#000" stroke-width="0.9" />
<line x1="401.26" y1="123.00" x2="401.26" y2="125.50" stroke="#000" stroke-width="0.9" />
<line x1="403.47" y1="123.00" x2="403.47" y2="125.50" stroke="#000" stroke-width="0.9" />
<line x1="405.39" y1="123.00" x2="405.39" y2="125.50" stroke="#000" stroke-width="0.9" />
<line x1="407.09" y1="123.00" x2="407.09" y2="125.50" stroke="#000" stroke-width="0.9" />
<line x1="408.60" y1="123.00" x2="408.60" y2="128.00" stroke="#000" stroke-width="1" />
<line x1="418.56" y1="123.00" x2="418.56" y2="125.50" stroke="#000" stroke-width="0.9" />
<line x1="424.39" y1="123.00" x2="424.39" y2="125.50" stroke="#000" stroke-width="0.9" />
<line x1="428.53" y1="123.00" x2="428.53" y2="125.50" stroke="#000" stroke-width="0.9" />
<line x1="431.74" y1="123.00" x2="431.74" y2="125.50" stroke="#000" stroke-width="0.9" />
<line x1="434.36" y1="123.00" x2="434.36" y2="125.50" stroke="#000" stroke-width="0.9" />
<line x1="436.57" y1="123.00" x2="436.57" y2="125.50" stroke="#000" stroke-width="0.9" />
<line x1="438.49" y1="123.00" x2="438.49" y2="125.50" stroke="#000" stroke-width="0.9" />
<line x1="440.19" y1="123.00" x2="440.19" y2="125.50" stroke="#000" stroke-width="0.9" />
<line x1="441.70" y1="123.00" x2="441.70" y2="128.00" stroke="#000" stroke-width="1" />
<line x1="451.66" y1="123.00" x2="451.66" y2="125.50" stroke="#000" stroke-width="0.9" />
<line x1="457.49" y1="123.00" x2="457.49" y2="125.50" stroke="#000" stroke-width="0.9" />
<line x1="461.63" y1="123.00" x2="461.63" y2="125.50" stroke="#000" stroke-width="0.9" />
<line x1="464.84" y1="123.00" x2="464.84" y2="125.50" stroke="#000" stroke-width="0.9" />
<line x1="467.46" y1="123.00" x2="467.46" y2="125.50" stroke="#000" stroke-width="0.9" />
<line x1="469.67" y1="123.00" x2="469.67" y2="125.50" stroke="#000" stroke-width="0.9" />
<line x1="471.59" y1="123.00" x2="471.59" y2="125.50" stroke="#000" stroke-width="0.9" />
<line x1="473.29" y1="123.00" x2="473.29" y2="125.50" stroke="#000" stroke-width="0.9" />
<line x1="474.80" y1="123.00" x2="474.80" y2="128.00" stroke="#000" stroke-width="1" />
<line x1="484.76" y1="123.00" x2="484.76" y2="125.50" stroke="#000" stroke-width="0.9" />
<line x1="490.59" y1="123.00" x2="490.59" y2="125.50" stroke="#000" stroke-width="0.9" />
<line x1="494.73" y1="123.00" x2="494.73" y2="125.50" stroke="#000" stroke-width="0.9" />
<line x1="497.94" y1="123.00" x2="497.94" y2="125.50" stroke="#000" stroke-width="0.9" />
<line x1="500.56" y1="123.00" x2="500.56" y2="125.50" stroke="#000" stroke-width="0.9" />
<line x1="502.77" y1="123.00" x2="502.77" y2="125.50" stroke="#000" stroke-width="0.9" />
<line x1="504.69" y1="123.00" x2="504.69" y2="125.50" stroke="#000" stroke-width="0.9" />
<line x1="506.39" y1="123.00" x2="506.39" y2="125.50" stroke="#000" stroke-width="0.9" />
<line x1="507.90" y1="123.00" x2="507.90" y2="128.00" stroke="#000" stroke-width="1" />
<path d="M515 0V1237L197 1010V1180L530 1409H696V0Z" transform="translate(367.50,144.20) scale(0.00576,-0.00576)" fill="#000" stroke="#000" stroke-width="31.2"/><text class="tl" x="374.06" y="144.20" font-size="11.8">0</text><text class="tl" x="380.93" y="138.40" font-size="10.2">0</text>
<path d="M515 0V1237L197 1010V1180L530 1409H696V0Z" transform="translate(401.30,144.20) scale(0.00576,-0.00576)" fill="#000" stroke="#000" stroke-width="31.2"/><text class="tl" x="407.86" y="144.20" font-size="11.8">0</text><path d="M515 0V1237L197 1010V1180L530 1409H696V0Z" transform="translate(414.73,138.40) scale(0.00498,-0.00498)" fill="#000" stroke="#000" stroke-width="36.1"/>
<path d="M515 0V1237L197 1010V1180L530 1409H696V0Z" transform="translate(433.60,144.20) scale(0.00576,-0.00576)" fill="#000" stroke="#000" stroke-width="31.2"/><text class="tl" x="440.16" y="144.20" font-size="11.8">0</text><text class="tl" x="447.03" y="138.40" font-size="10.2">2</text>
<path d="M515 0V1237L197 1010V1180L530 1409H696V0Z" transform="translate(466.00,144.20) scale(0.00576,-0.00576)" fill="#000" stroke="#000" stroke-width="31.2"/><text class="tl" x="472.56" y="144.20" font-size="11.8">0</text><text class="tl" x="479.43" y="138.40" font-size="10.2">3</text>
<path d="M515 0V1237L197 1010V1180L530 1409H696V0Z" transform="translate(496.80,144.20) scale(0.00576,-0.00576)" fill="#000" stroke="#000" stroke-width="31.2"/><text class="tl" x="503.36" y="144.20" font-size="11.8">0</text><text class="tl" x="510.23" y="138.40" font-size="10.2">4</text>
<text class="tl" x="0" y="0" font-size="12.5" text-anchor="middle" transform="translate(365.80,80.50) rotate(-90)">Counts</text>
<text x="443.30" y="163.20" font-size="20" font-weight="bold" font-style="normal" text-anchor="middle" >HSA</text>
<polyline points="386.00,30.00 383.00,50.00 380.50,75.00" fill="none" stroke="#000" stroke-width="1.5" stroke-dasharray="1.5 3.4" />
<polyline points="394.00,30.00 398.00,60.00 402.00,85.00 406.00,105.00" fill="none" stroke="#000" stroke-width="1.5" stroke-dasharray="1.5 3.4" />
<polyline points="378.44,119.02 379.70,119.02 379.70,118.27 380.67,118.27 380.67,117.19 381.89,117.19 381.89,116.38 382.98,116.38 382.98,115.43 383.71,115.43 383.71,114.10 384.76,114.10 384.76,113.10 386.33,113.10 386.33,112.69 387.07,112.69 387.07,111.33 388.25,111.33 388.25,110.36 389.88,110.36 389.88,109.95 390.78,109.95 390.78,108.63 391.96,108.63 391.96,108.00 393.42,108.00 393.42,107.85 394.82,107.85 394.82,108.16 396.29,108.16 396.29,107.89 397.65,107.89 397.65,108.49 399.04,108.49 399.04,108.86 400.51,108.86 400.51,108.72 401.95,108.72 401.95,108.13 403.26,108.13 403.26,107.31 404.33,107.31 404.33,106.08 405.97,106.08 405.97,105.86 407.17,105.86 407.17,104.98 408.71,104.98 408.71,105.26 410.24,105.26 410.24,105.55 411.44,105.55 411.44,106.78 413.00,106.78 413.00,106.98 414.63,106.98 414.63,107.37 416.26,107.37 416.26,107.69 417.93,107.69 417.93,107.72 419.80,107.72 419.80,108.02 421.02,108.02 421.02,106.72 422.67,106.72 422.67,106.13 424.02,106.13 424.02,104.95 425.57,104.95 425.57,105.97 427.29,105.97 427.29,106.52 429.10,106.52 429.10,106.44 430.64,106.44 430.64,106.47 432.18,106.47 432.18,106.55 433.72,106.55 433.72,107.22 435.26,107.22 435.26,106.74 436.76,106.74 436.76,106.91 438.27,106.91 438.27,107.18 439.60,107.18 439.60,107.91 441.17,107.91 441.17,107.65 442.75,107.65 442.75,107.47 444.36,107.47 444.36,107.53 445.94,107.53 445.94,107.38 447.55,107.38 447.55,107.51 449.17,107.51 449.17,107.15 450.64,107.15 450.64,106.66 451.99,106.66 451.99,105.92 453.41,105.92 453.41,105.34 454.65,105.34 454.65,104.40 455.82,104.40 455.82,103.30 457.47,103.30 457.47,103.18 458.93,103.18 458.93,102.55 460.30,102.55 460.30,101.55 461.52,101.55 461.52,100.36 463.50,100.36 463.50,99.99 465.61,99.99 465.61,99.15 466.09,99.15 466.09,100.74 467.21,100.74 467.21,101.87 468.17,101.87 468.17,102.91 469.59,102.91 469.59,102.49 471.15,102.49 471.15,102.96 472.62,102.96 472.62,102.86 474.04,102.86 474.04,101.83 475.49,101.83 475.49,102.65 477.05,102.65 477.05,102.48 478.60,102.48 478.60,102.43 480.10,102.43 480.10,102.74 481.45,102.74 481.45,103.29 482.66,103.29 482.66,104.33 484.38,104.33 484.38,104.71 485.31,104.71 485.31,106.06 486.71,106.06 486.71,107.19 487.19,107.19 487.19,108.96 488.45,108.96 488.45,110.19 489.06,110.19 489.06,111.94 490.13,111.94 490.13,113.16 491.58,113.16 491.58,114.02 492.40,114.02 492.40,115.49 493.98,115.49 493.98,116.22 495.25,116.22 495.25,117.21 496.08,117.21 496.08,118.53 497.55,118.53 497.55,119.10 498.60,119.10 498.60,120.17 499.61,120.17 499.61,121.28 500.70,121.28 500.70,122.40 502.35,122.40 502.35,121.93 504.01,121.93 504.01,121.77 505.69,121.77 505.69,122.45 507.33,122.45 507.33,121.89 509.00,121.89 509.00,122.00" fill="none" stroke="#000" stroke-width="1.0" stroke-linejoin="round" stroke-linecap="butt" />
<polyline points="377.74,96.26 378.44,96.26 378.44,94.81 378.68,94.81 378.68,93.29 379.10,93.29 379.10,91.80 378.62,91.80 378.62,90.17 378.91,90.17 378.91,88.67 379.00,88.67 379.00,87.01 379.27,87.01 379.27,85.38 380.01,85.38 380.01,83.80 379.54,83.80 379.54,82.08 380.16,82.08 380.16,80.49 380.00,80.49 380.00,78.81 380.28,78.81 380.28,77.17 380.62,77.17 380.62,75.67 381.25,75.67 381.25,74.21 381.19,74.21 381.19,72.65 380.73,72.65 380.73,71.05 381.21,71.05 381.21,69.57 381.25,69.57 381.25,68.03 382.24,68.03 382.24,66.61 382.36,66.61 382.36,65.08 382.54,65.08 382.54,63.56 382.76,63.56 382.76,62.05 382.88,62.05 382.88,60.55 383.31,60.55 383.31,59.09 383.35,59.09 383.35,57.58 382.98,57.58 382.98,56.01 383.84,56.01 383.84,54.61 383.65,54.61 383.65,53.06 384.16,53.06 384.16,51.62 384.16,51.62 384.16,50.10 384.22,50.10 384.22,48.59 384.44,48.59 384.44,47.05 384.80,47.05 384.80,45.55 384.97,45.55 384.97,44.00 385.05,44.00 385.05,42.44 386.10,42.44 386.10,41.07 386.36,41.07 386.36,39.54 386.85,39.54 386.85,38.06 386.83,38.06 386.83,36.48 386.97,36.48 386.97,34.93 387.46,34.93 387.46,33.49 387.38,33.49 387.38,31.72 388.50,31.72 388.50,30.39 388.82,30.39 388.82,28.76 389.11,28.76 389.11,27.12 390.29,27.12 390.29,25.56 390.74,25.56 390.74,27.25 391.76,27.25 391.76,28.66 392.32,28.66 392.32,30.30 392.94,30.30 392.94,31.91 393.91,31.91 393.91,33.38 394.41,33.38 394.41,34.84 394.22,34.84 394.22,36.38 394.71,36.38 394.71,37.84 394.92,37.84 394.92,39.33 395.17,39.33 395.17,40.82 395.19,40.82 395.19,42.34 395.71,42.34 395.71,43.79 395.29,43.79 395.29,45.37 395.17,45.37 395.17,46.90 395.99,46.90 395.99,48.31 395.84,48.31 395.84,49.85 395.81,49.85 395.81,51.38 396.99,51.38 396.99,52.74 397.09,52.74 397.09,54.24 396.61,54.24 396.61,55.94 396.82,55.94 396.82,57.54 397.27,57.54 397.27,59.10 398.04,59.10 398.04,60.61 398.00,60.61 398.00,62.24 397.75,62.24 397.75,63.91 397.97,63.91 397.97,65.51 398.30,65.51 398.30,67.08 399.20,67.08 399.20,68.58 398.73,68.58 398.73,70.28 399.49,70.28 399.49,71.79 399.36,71.79 399.36,73.44 400.25,73.44 400.25,74.90 399.60,74.90 399.60,76.61 400.25,76.61 400.25,78.11 400.38,78.11 400.38,79.69 401.19,79.69 401.19,81.17 401.00,81.17 401.00,82.80 401.29,82.80 401.29,84.36 401.54,84.36 401.54,85.93 402.04,85.93 402.04,87.45 401.90,87.45 401.90,89.08 402.57,89.08 402.57,90.56 402.94,90.56 402.94,92.03 403.41,92.03 403.41,93.48 403.17,93.48 403.17,95.08 404.11,95.08 404.11,96.42 404.31,96.42 404.31,97.92 404.80,97.92 404.80,99.37 404.50,99.37 404.50,100.98 404.92,100.98 404.92,102.44 405.25,102.44 405.25,103.91 406.25,103.91 406.25,105.36 406.30,105.36 406.30,107.08 406.87,107.08 406.87,108.65 407.60,108.65 407.60,110.17 408.16,110.17 408.16,111.75 407.61,111.75 407.61,113.75 409.20,113.75 409.20,114.74 409.74,114.74 409.74,116.25 410.50,116.25 410.50,117.66 410.99,117.66 410.99,119.31 412.74,119.31 412.74,118.96 414.35,118.96 414.35,119.62 416.04,119.62 416.04,119.73 417.69,119.73 417.69,120.47 419.25,120.47 419.25,119.60 420.78,119.60 420.78,120.00 422.31,120.00 422.31,120.22 423.84,120.22 423.84,120.79 425.39,120.79 425.39,120.33 426.93,120.33 426.93,120.33 428.46,120.33 428.46,120.59 430.01,120.59 430.01,120.22 431.56,120.22 431.56,119.97 433.08,119.97 433.08,120.53 434.61,120.53 434.61,121.02 436.15,121.02 436.15,120.88 437.70,120.88 437.70,120.39 439.23,120.39 439.23,120.90 440.76,120.90 440.76,121.13 442.32,121.13 442.32,120.52 443.84,120.52 443.84,120.93 445.39,120.93 445.39,120.71 446.93,120.71 446.93,120.63 448.47,120.63 448.47,120.72 450.00,120.72 450.00,120.67 451.51,120.67 451.51,120.85 453.03,120.85 453.03,120.52 454.54,120.52 454.54,120.93 456.06,120.93 456.06,120.60 457.56,120.60 457.56,121.35 459.08,121.35 459.08,121.19 460.59,121.19 460.59,120.54 462.10,120.54 462.10,121.40 463.62,121.40 463.62,120.77 465.13,120.77 465.13,121.11 466.64,121.11 466.64,121.20 468.16,121.20 468.16,120.97 469.67,120.97 469.67,120.94 471.18,120.94 471.18,121.11 472.70,121.11 472.70,120.79 474.20,120.79 474.20,121.61 475.72,121.61 475.72,120.79 477.23,120.79 477.23,121.59 478.75,121.59 478.75,120.93 480.26,120.93 480.26,121.04 481.77,121.04 481.77,121.15 483.29,121.15 483.29,120.77 484.80,120.77 484.80,120.89 486.31,120.89 486.31,121.15 487.82,121.15 487.82,121.26 489.33,121.26 489.33,121.75 490.84,121.75 490.84,121.88 492.36,121.88 492.36,120.86 493.87,120.86 493.87,121.41 495.39,121.41 495.39,120.98 496.89,120.98 496.89,121.73 498.41,121.73 498.41,121.22 499.92,121.22 499.92,121.86 501.44,121.86 501.44,121.49 502.95,121.49 502.95,121.04 504.47,121.04 504.47,120.92 505.98,120.92 505.98,121.20 507.48,121.20 507.48,121.89 509.00,121.89 509.00,121.50" fill="none" stroke="#000" stroke-width="2.0" stroke-linejoin="round" stroke-linecap="butt" />
<text x="414.00" y="50.50" font-size="14.3" font-weight="normal" font-style="normal" text-anchor="start" textLength="18.9" lengthAdjust="spacingAndGlyphs" class="th">K<tspan font-style="italic">O</tspan></text>
<line x1="412.00" y1="54.30" x2="398.60" y2="66.70" stroke="#000" stroke-width="2.0" />
<text x="454.00" y="73.40" font-size="14.5" font-weight="normal" font-style="normal" text-anchor="start" class="th">WT</text>
<line x1="464.80" y1="76.40" x2="464.80" y2="97.40" stroke="#000" stroke-width="0.9" />
<line x1="508.60" y1="116.50" x2="508.60" y2="122.50" stroke="#000" stroke-width="1.8" />
<line x1="28.70" y1="193.80" x2="160.70" y2="193.80" stroke="#000" stroke-width="1.3" />
<line x1="29.30" y1="193.80" x2="29.30" y2="293.00" stroke="#000" stroke-width="1.2" />
<line x1="29.30" y1="293.00" x2="160.20" y2="293.00" stroke="#000" stroke-width="1.3" />
<line x1="160.20" y1="193.80" x2="160.20" y2="293.00" stroke="#666" stroke-width="1.3" />
<line x1="24.30" y1="195.50" x2="30.80" y2="195.50" stroke="#000" stroke-width="1" />
<line x1="26.30" y1="198.24" x2="30.80" y2="198.24" stroke="#000" stroke-width="1" />
<line x1="26.30" y1="200.99" x2="30.80" y2="200.99" stroke="#000" stroke-width="1" />
<line x1="26.30" y1="203.73" x2="30.80" y2="203.73" stroke="#000" stroke-width="1" />
<line x1="26.30" y1="206.47" x2="30.80" y2="206.47" stroke="#000" stroke-width="1" />
<line x1="26.30" y1="209.21" x2="30.80" y2="209.21" stroke="#000" stroke-width="1" />
<line x1="26.30" y1="211.96" x2="30.80" y2="211.96" stroke="#000" stroke-width="1" />
<line x1="24.30" y1="214.70" x2="30.80" y2="214.70" stroke="#000" stroke-width="1" />
<line x1="26.30" y1="217.44" x2="30.80" y2="217.44" stroke="#000" stroke-width="1" />
<line x1="26.30" y1="220.19" x2="30.80" y2="220.19" stroke="#000" stroke-width="1" />
<line x1="26.30" y1="222.93" x2="30.80" y2="222.93" stroke="#000" stroke-width="1" />
<line x1="26.30" y1="225.67" x2="30.80" y2="225.67" stroke="#000" stroke-width="1" />
<line x1="26.30" y1="228.41" x2="30.80" y2="228.41" stroke="#000" stroke-width="1" />
<line x1="26.30" y1="231.16" x2="30.80" y2="231.16" stroke="#000" stroke-width="1" />
<line x1="24.30" y1="233.90" x2="30.80" y2="233.90" stroke="#000" stroke-width="1" />
<line x1="26.30" y1="236.64" x2="30.80" y2="236.64" stroke="#000" stroke-width="1" />
<line x1="26.30" y1="239.39" x2="30.80" y2="239.39" stroke="#000" stroke-width="1" />
<line x1="26.30" y1="242.13" x2="30.80" y2="242.13" stroke="#000" stroke-width="1" />
<line x1="26.30" y1="244.87" x2="30.80" y2="244.87" stroke="#000" stroke-width="1" />
<line x1="26.30" y1="247.61" x2="30.80" y2="247.61" stroke="#000" stroke-width="1" />
<line x1="26.30" y1="250.36" x2="30.80" y2="250.36" stroke="#000" stroke-width="1" />
<line x1="24.30" y1="253.10" x2="30.80" y2="253.10" stroke="#000" stroke-width="1" />
<line x1="26.30" y1="255.84" x2="30.80" y2="255.84" stroke="#000" stroke-width="1" />
<line x1="26.30" y1="258.59" x2="30.80" y2="258.59" stroke="#000" stroke-width="1" />
<line x1="26.30" y1="261.33" x2="30.80" y2="261.33" stroke="#000" stroke-width="1" />
<line x1="26.30" y1="264.07" x2="30.80" y2="264.07" stroke="#000" stroke-width="1" />
<line x1="26.30" y1="266.81" x2="30.80" y2="266.81" stroke="#000" stroke-width="1" />
<line x1="26.30" y1="269.56" x2="30.80" y2="269.56" stroke="#000" stroke-width="1" />
<line x1="24.30" y1="272.30" x2="30.80" y2="272.30" stroke="#000" stroke-width="1" />
<line x1="26.30" y1="275.04" x2="30.80" y2="275.04" stroke="#000" stroke-width="1" />
<line x1="26.30" y1="277.79" x2="30.80" y2="277.79" stroke="#000" stroke-width="1" />
<line x1="26.30" y1="280.53" x2="30.80" y2="280.53" stroke="#000" stroke-width="1" />
<line x1="26.30" y1="283.27" x2="30.80" y2="283.27" stroke="#000" stroke-width="1" />
<line x1="26.30" y1="286.01" x2="30.80" y2="286.01" stroke="#000" stroke-width="1" />
<line x1="26.30" y1="288.76" x2="30.80" y2="288.76" stroke="#000" stroke-width="1" />
<line x1="24.30" y1="291.50" x2="30.80" y2="291.50" stroke="#000" stroke-width="1" />
<line x1="29.80" y1="293.00" x2="29.80" y2="298.00" stroke="#000" stroke-width="1" />
<line x1="39.49" y1="293.00" x2="39.49" y2="295.50" stroke="#000" stroke-width="0.9" />
<line x1="45.16" y1="293.00" x2="45.16" y2="295.50" stroke="#000" stroke-width="0.9" />
<line x1="49.19" y1="293.00" x2="49.19" y2="295.50" stroke="#000" stroke-width="0.9" />
<line x1="52.31" y1="293.00" x2="52.31" y2="295.50" stroke="#000" stroke-width="0.9" />
<line x1="54.86" y1="293.00" x2="54.86" y2="295.50" stroke="#000" stroke-width="0.9" />
<line x1="57.01" y1="293.00" x2="57.01" y2="295.50" stroke="#000" stroke-width="0.9" />
<line x1="58.88" y1="293.00" x2="58.88" y2="295.50" stroke="#000" stroke-width="0.9" />
<line x1="60.53" y1="293.00" x2="60.53" y2="295.50" stroke="#000" stroke-width="0.9" />
<line x1="62.00" y1="293.00" x2="62.00" y2="298.00" stroke="#000" stroke-width="1" />
<line x1="71.69" y1="293.00" x2="71.69" y2="295.50" stroke="#000" stroke-width="0.9" />
<line x1="77.36" y1="293.00" x2="77.36" y2="295.50" stroke="#000" stroke-width="0.9" />
<line x1="81.39" y1="293.00" x2="81.39" y2="295.50" stroke="#000" stroke-width="0.9" />
<line x1="84.51" y1="293.00" x2="84.51" y2="295.50" stroke="#000" stroke-width="0.9" />
<line x1="87.06" y1="293.00" x2="87.06" y2="295.50" stroke="#000" stroke-width="0.9" />
<line x1="89.21" y1="293.00" x2="89.21" y2="295.50" stroke="#000" stroke-width="0.9" />
<line x1="91.08" y1="293.00" x2="91.08" y2="295.50" stroke="#000" stroke-width="0.9" />
<line x1="92.73" y1="293.00" x2="92.73" y2="295.50" stroke="#000" stroke-width="0.9" />
<line x1="94.20" y1="293.00" x2="94.20" y2="298.00" stroke="#000" stroke-width="1" />
<line x1="103.89" y1="293.00" x2="103.89" y2="295.50" stroke="#000" stroke-width="0.9" />
<line x1="109.56" y1="293.00" x2="109.56" y2="295.50" stroke="#000" stroke-width="0.9" />
<line x1="113.59" y1="293.00" x2="113.59" y2="295.50" stroke="#000" stroke-width="0.9" />
<line x1="116.71" y1="293.00" x2="116.71" y2="295.50" stroke="#000" stroke-width="0.9" />
<line x1="119.26" y1="293.00" x2="119.26" y2="295.50" stroke="#000" stroke-width="0.9" />
<line x1="121.41" y1="293.00" x2="121.41" y2="295.50" stroke="#000" stroke-width="0.9" />
<line x1="123.28" y1="293.00" x2="123.28" y2="295.50" stroke="#000" stroke-width="0.9" />
<line x1="124.93" y1="293.00" x2="124.93" y2="295.50" stroke="#000" stroke-width="0.9" />
<line x1="126.40" y1="293.00" x2="126.40" y2="298.00" stroke="#000" stroke-width="1" />
<line x1="136.09" y1="293.00" x2="136.09" y2="295.50" stroke="#000" stroke-width="0.9" />
<line x1="141.76" y1="293.00" x2="141.76" y2="295.50" stroke="#000" stroke-width="0.9" />
<line x1="145.79" y1="293.00" x2="145.79" y2="295.50" stroke="#000" stroke-width="0.9" />
<line x1="148.91" y1="293.00" x2="148.91" y2="295.50" stroke="#000" stroke-width="0.9" />
<line x1="151.46" y1="293.00" x2="151.46" y2="295.50" stroke="#000" stroke-width="0.9" />
<line x1="153.61" y1="293.00" x2="153.61" y2="295.50" stroke="#000" stroke-width="0.9" />
<line x1="155.48" y1="293.00" x2="155.48" y2="295.50" stroke="#000" stroke-width="0.9" />
<line x1="157.13" y1="293.00" x2="157.13" y2="295.50" stroke="#000" stroke-width="0.9" />
<line x1="158.60" y1="293.00" x2="158.60" y2="298.00" stroke="#000" stroke-width="1" />
<path d="M515 0V1237L197 1010V1180L530 1409H696V0Z" transform="translate(21.00,313.00) scale(0.00576,-0.00576)" fill="#000" stroke="#000" stroke-width="31.2"/><text class="tl" x="27.56" y="313.00" font-size="11.8">0</text><text class="tl" x="34.43" y="307.20" font-size="10.2">0</text>
<path d="M515 0V1237L197 1010V1180L530 1409H696V0Z" transform="translate(54.80,313.00) scale(0.00576,-0.00576)" fill="#000" stroke="#000" stroke-width="31.2"/><text class="tl" x="61.36" y="313.00" font-size="11.8">0</text><path d="M515 0V1237L197 1010V1180L530 1409H696V0Z" transform="translate(68.23,307.20) scale(0.00498,-0.00498)" fill="#000" stroke="#000" stroke-width="36.1"/>
<path d="M515 0V1237L197 1010V1180L530 1409H696V0Z" transform="translate(87.10,313.00) scale(0.00576,-0.00576)" fill="#000" stroke="#000" stroke-width="31.2"/><text class="tl" x="93.66" y="313.00" font-size="11.8">0</text><text class="tl" x="100.53" y="307.20" font-size="10.2">2</text>
<path d="M515 0V1237L197 1010V1180L530 1409H696V0Z" transform="translate(119.40,313.00) scale(0.00576,-0.00576)" fill="#000" stroke="#000" stroke-width="31.2"/><text class="tl" x="125.96" y="313.00" font-size="11.8">0</text><text class="tl" x="132.83" y="307.20" font-size="10.2">3</text>
<path d="M515 0V1237L197 1010V1180L530 1409H696V0Z" transform="translate(150.20,313.00) scale(0.00576,-0.00576)" fill="#000" stroke="#000" stroke-width="31.2"/><text class="tl" x="156.76" y="313.00" font-size="11.8">0</text><text class="tl" x="163.63" y="307.20" font-size="10.2">4</text>
<text class="tl" x="0" y="0" font-size="12.5" text-anchor="middle" transform="translate(15.80,246.10) rotate(-90)">Counts</text>
<text x="94.40" y="336.80" font-size="20" font-weight="bold" font-style="normal" text-anchor="middle" >c-Kit</text>
<polyline points="31.00,290.00 32.80,237.70 33.80,228.00 37.70,226.00 39.60,221.20 41.60,226.00 44.50,229.00 46.40,233.80 49.30,239.70 51.30,249.40 53.20,257.20 56.20,266.00 59.10,274.70 63.00,281.50 66.90,286.40 75.00,288.00 90.00,288.50" fill="none" stroke="#000" stroke-width="1.5" stroke-dasharray="1.5 3.4" />
<polyline points="31.00,291.76 32.42,291.76 32.42,291.63 33.84,291.63 33.84,291.87 35.25,291.87 35.25,291.64 36.67,291.64 36.67,291.55 38.10,291.55 38.10,291.83 39.52,291.83 39.52,292.28 40.94,292.28 40.94,292.16 42.36,292.16 42.36,292.11 43.77,292.11 43.77,291.60 45.19,291.60 45.19,291.87 46.61,291.87 46.61,291.62 48.03,291.62 48.03,291.51 49.45,291.51 49.45,291.44 50.87,291.44 50.87,291.52 52.29,291.52 52.29,292.14 53.71,292.14 53.71,292.04 55.13,292.04 55.13,292.00 56.55,292.00 56.55,291.98 57.96,291.98 57.96,291.42 59.39,291.42 59.39,291.51 60.81,291.51 60.81,291.78 62.23,291.78 62.23,291.85 63.65,291.85 63.65,291.95 65.07,291.95 65.07,291.95 66.48,291.95 66.48,291.22 67.90,291.22 67.90,291.68 69.32,291.68 69.32,291.72 70.74,291.72 70.74,291.55 72.16,291.55 72.16,291.24 73.58,291.24 73.58,291.49 74.88,291.49 74.88,291.15 76.56,291.15 76.56,291.37 77.97,291.37 77.97,290.81 79.30,290.81 79.30,290.04 80.65,290.04 80.65,289.33 82.26,289.33 82.26,289.35 83.59,289.35 83.59,288.56 85.02,288.56 85.02,288.34 86.44,288.34 86.44,288.24 87.86,288.24 87.86,287.86 89.28,287.86 89.28,287.71 90.72,287.71 90.72,287.80 92.14,287.80 92.14,287.58 93.56,287.58 93.56,287.27 94.97,287.27 94.97,287.33 96.72,287.33 96.72,287.50 98.28,287.50 98.28,286.54 99.96,286.54 99.96,286.27 101.73,286.27 101.73,286.51 103.20,286.51 103.20,285.73 104.83,285.73 104.83,285.47 106.37,285.47 106.37,284.94 107.90,284.94 107.90,284.34 109.71,284.34 109.71,284.40 110.82,284.40 110.82,283.01 112.36,283.01 112.36,282.43 113.73,282.43 113.73,281.51 115.40,281.51 115.40,281.07 115.98,281.07 115.98,279.71 116.88,279.71 116.88,278.58 118.01,278.58 118.01,277.62 118.54,277.62 118.54,276.22 119.56,276.22 119.56,275.17 120.65,275.17 120.65,274.18 120.86,274.18 120.86,272.68 121.30,272.68 121.30,271.32 121.92,271.32 121.92,270.02 122.85,270.02 122.85,268.83 123.20,268.83 123.20,267.43 123.35,267.43 123.35,265.97 123.91,265.97 123.91,264.65 124.25,264.65 124.25,263.25 124.96,263.25 124.96,261.99 124.87,261.99 124.87,260.51 125.72,260.51 125.72,259.22 126.17,259.22 126.17,257.84 126.49,257.84 126.49,256.44 126.57,256.44 126.57,254.99 127.04,254.99 127.04,253.62 126.48,253.62 126.48,252.05 127.00,252.05 127.00,250.69 127.87,250.69 127.87,249.40 127.97,249.40 127.97,247.96 127.92,247.96 127.92,246.49 128.58,246.49 128.58,245.14 128.47,245.14 128.47,243.70 128.83,243.70 128.83,242.31 128.54,242.31 128.54,240.84 128.63,240.84 128.63,239.42 129.04,239.42 129.04,238.04 128.95,238.04 128.95,236.59 129.35,236.59 129.35,235.21 130.05,235.21 130.05,233.87 129.67,233.87 129.67,232.39 129.56,232.39 129.56,230.96 129.73,230.96 129.73,229.51 129.98,229.51 129.98,228.06 130.66,228.06 130.66,226.66 130.42,226.66 130.42,225.17 130.49,225.17 130.49,223.71 130.46,223.71 130.46,222.24 131.39,222.24 131.39,220.86 131.02,220.86 131.02,219.36 130.97,219.36 130.97,217.88 130.97,217.88 130.97,216.42 131.11,216.42 131.11,214.93 131.46,214.93 131.46,213.55 132.16,213.55 132.16,212.23 131.94,212.23 131.94,210.74 132.09,210.74 132.09,209.33 132.74,209.33 132.74,208.00 133.21,208.00 133.21,206.52 133.08,206.52 133.08,208.11 134.32,208.11 134.32,209.18 134.48,209.18 134.48,210.66 135.20,210.66 135.20,212.15 135.84,212.15 135.84,210.78 137.15,210.78 137.15,209.93 137.72,209.93 137.72,208.49 138.37,208.49 138.37,210.06 138.68,210.06 138.68,211.73 139.45,211.73 139.45,213.26 139.57,213.26 139.57,214.99 139.88,214.99 139.88,216.48 139.45,216.48 139.45,218.03 139.65,218.03 139.65,219.53 140.10,219.53 140.10,221.00 140.67,221.00 140.67,222.46 140.62,222.46 140.62,223.98 140.78,223.98 140.78,225.48 140.96,225.48 140.96,226.97 141.09,226.97 141.09,228.48 140.67,228.48 140.67,230.02 141.40,230.02 141.40,231.38 141.55,231.38 141.55,232.78 140.84,232.78 140.84,234.22 141.24,234.22 141.24,235.60 140.93,235.60 140.93,237.02 141.54,237.02 141.54,238.40 141.16,238.40 141.16,239.82 141.46,239.82 141.46,241.21 141.41,241.21 141.41,242.61 141.53,242.61 141.53,244.01 141.83,244.01 141.83,245.40 142.27,245.40 142.27,246.78 142.23,246.78 142.23,248.19 141.71,248.19 141.71,249.62 141.77,249.62 141.77,251.02 141.82,251.02 141.82,252.42 142.42,252.42 142.42,253.79 142.21,253.79 142.21,255.21 142.16,255.21 142.16,256.61 142.37,256.61 142.37,258.02 142.40,258.02 142.40,259.47 142.84,259.47 142.84,260.88 142.91,260.88 142.91,262.33 143.06,262.33 143.06,263.77 143.62,263.77 143.62,265.16 143.21,265.16 143.21,266.67 143.37,266.67 143.37,268.11 144.33,268.11 144.33,269.44 143.72,269.44 143.72,270.98 143.91,270.98 143.91,272.42 144.35,272.42 144.35,273.84 145.27,273.84 145.27,275.16 144.90,275.16 144.90,276.81 145.95,276.81 145.95,278.10 145.59,278.10 145.59,279.75 146.23,279.75 146.23,281.15 147.13,281.15 147.13,282.48 147.42,282.48 147.42,283.96 147.41,283.96 147.41,285.58 148.43,285.58 148.43,286.74 149.28,286.74 149.28,288.04 150.13,288.04 150.13,289.34 151.44,289.34 151.44,290.05 153.12,290.05 153.12,290.11 154.64,290.11 154.64,291.18 156.42,291.18 156.42,290.62 158.00,290.62 158.00,291.30" fill="none" stroke="#000" stroke-width="1.0" stroke-linejoin="round" stroke-linecap="butt" />
<polyline points="31.00,291.77 32.52,291.77 32.52,292.42 34.04,292.42 34.04,292.35 35.55,292.35 35.55,292.66 37.07,292.66 37.07,291.92 38.58,291.92 38.58,291.90 40.10,291.90 40.10,292.42 41.62,292.42 41.62,292.33 43.14,292.33 43.14,291.93 44.66,291.93 44.66,292.34 46.17,292.34 46.17,292.02 47.69,292.02 47.69,292.43 49.20,292.43 49.20,291.70 50.72,291.70 50.72,291.81 52.24,291.81 52.24,292.55 53.76,292.55 53.76,291.94 55.27,291.94 55.27,291.83 56.79,291.83 56.79,292.42 58.31,292.42 58.31,292.22 59.83,292.22 59.83,291.68 61.35,291.68 61.35,292.12 62.86,292.12 62.86,292.24 64.38,292.24 64.38,291.68 65.90,291.68 65.90,292.21 67.41,292.21 67.41,291.62 68.93,291.62 68.93,291.85 70.45,291.85 70.45,291.56 71.96,291.56 71.96,291.69 73.49,291.69 73.49,292.53 74.97,292.53 74.97,291.90 76.82,291.90 76.82,292.02 78.31,292.02 78.31,290.94 80.03,290.94 80.03,290.61 81.78,290.61 81.78,290.39 83.39,290.39 83.39,289.70 84.98,289.70 84.98,288.57 86.55,288.57 86.55,289.01 88.09,289.01 88.09,288.98 89.61,288.98 89.61,288.39 91.15,288.39 91.15,288.21 92.74,288.21 92.74,288.98 94.26,288.98 94.26,288.50 95.74,288.50 95.74,288.07 97.76,288.07 97.76,288.02 99.68,288.02 99.68,287.43 101.78,287.43 101.78,287.72 103.26,287.72 103.26,287.02 104.72,287.02 104.72,286.22 106.46,286.22 106.46,286.60 107.83,286.60 107.83,285.44 109.39,285.44 109.39,285.29 110.71,285.29 110.71,284.29 112.52,284.29 112.52,284.23 113.65,284.23 113.65,282.87 115.32,282.87 115.32,282.52 115.77,282.52 115.77,281.01 116.97,281.01 116.97,280.00 118.00,280.00 118.00,278.89 118.70,278.89 118.70,277.55 119.47,277.55 119.47,276.26 120.34,276.26 120.34,275.03 121.13,275.03 121.13,273.78 121.77,273.78 121.77,272.36 121.73,272.36 121.73,270.71 122.60,270.71 122.60,269.37 122.82,269.37 122.82,267.81 123.96,267.81 123.96,266.55 124.51,266.55 124.51,265.10 124.07,265.10 124.07,263.33 124.61,263.33 124.61,261.93 125.52,261.93 125.52,260.49 125.68,260.49 125.68,258.91 125.38,258.91 125.38,257.25 126.42,257.25 126.42,255.84 126.98,255.84 126.98,254.34 126.72,254.34 126.72,252.68 126.94,252.68 126.94,251.12 127.47,251.12 127.47,249.61 128.17,249.61 128.17,248.14 127.74,248.14 127.74,246.47 127.97,246.47 127.97,244.88 128.02,244.88 128.02,243.28 128.69,243.28 128.69,241.74 128.69,241.74 128.69,240.13 128.64,240.13 128.64,238.51 128.97,238.51 128.97,236.94 128.76,236.94 128.76,235.31 129.25,235.31 129.25,233.75 130.16,233.75 130.16,232.24 129.91,232.24 129.91,230.60 129.76,230.60 129.76,228.98 130.61,228.98 130.61,227.51 130.12,227.51 130.12,225.91 130.13,225.91 130.13,224.37 130.03,224.37 130.03,222.81 130.29,222.81 130.29,221.29 130.48,221.29 130.48,219.76 130.65,219.76 130.65,218.22 131.49,218.22 131.49,216.75 130.96,216.75 130.96,215.16 131.08,215.16 131.08,213.62 131.61,213.62 131.61,212.12 132.09,212.12 132.09,210.61 131.54,210.61 131.54,209.02 132.19,209.02 132.19,207.52 131.86,207.52 131.86,205.81 132.17,205.81 132.17,204.14 132.31,204.14 132.31,202.46 132.79,202.46 132.79,200.80 132.68,200.80 132.68,199.10 132.50,199.10 132.50,197.41 134.20,197.41 134.20,197.78 135.90,197.78 135.90,197.25 137.60,197.25 137.60,197.27 139.30,197.27 139.30,197.91 140.95,197.91 140.95,197.40 140.77,197.40 140.77,198.93 141.35,198.93 141.35,200.41 140.77,200.41 140.77,201.96 141.18,201.96 141.18,203.46 141.65,203.46 141.65,204.95 140.97,204.95 140.97,206.50 141.56,206.50 141.56,207.99 141.78,207.99 141.78,209.49 141.91,209.49 141.91,210.99 142.13,210.99 142.13,212.49 142.07,212.49 142.07,213.99 141.57,213.99 141.57,215.51 142.23,215.51 142.23,216.99 142.14,216.99 142.14,218.49 141.98,218.49 141.98,220.00 141.92,220.00 141.92,221.50 142.15,221.50 142.15,223.00 141.75,223.00 141.75,224.51 142.38,224.51 142.38,225.99 142.30,225.99 142.30,227.50 142.28,227.50 142.28,229.00 142.65,229.00 142.65,230.53 142.59,230.53 142.59,232.07 142.72,232.07 142.72,233.60 142.12,233.60 142.12,235.15 142.80,235.15 142.80,236.67 142.27,236.67 142.27,238.23 142.80,238.23 142.80,239.75 142.38,239.75 142.38,241.30 142.41,241.30 142.41,242.84 142.78,242.84 142.78,244.36 142.19,244.36 142.19,245.92 142.53,245.92 142.53,247.45 142.68,247.45 142.68,248.98 143.29,248.98 143.29,250.50 142.93,250.50 142.93,252.05 143.13,252.05 143.13,253.58 142.95,253.58 142.95,255.13 142.48,255.13 142.48,256.68 142.60,256.68 142.60,258.24 143.63,258.24 143.63,259.71 143.10,259.71 143.10,261.34 142.97,261.34 142.97,262.93 143.55,262.93 143.55,264.44 144.19,264.44 144.19,265.96 143.50,265.96 143.50,267.60 144.13,267.60 144.13,269.11 143.67,269.11 143.67,270.73 143.94,270.73 143.94,272.28 144.15,272.28 144.15,273.89 144.42,273.89 144.42,275.38 145.71,275.38 145.71,276.61 145.31,276.61 145.31,278.27 146.21,278.27 146.21,279.60 146.76,279.60 146.76,281.01 146.88,281.01 146.88,282.54 147.03,282.54 147.03,284.06 147.92,284.06 147.92,285.16 148.52,285.16 148.52,286.67 149.21,286.67 149.21,288.10 150.43,288.10 150.43,289.10 151.39,289.10 151.39,290.33 153.05,290.33 153.05,290.41 154.49,290.41 154.49,291.47 156.20,291.47 156.20,291.02 157.70,291.02 157.70,291.50 159.36,291.50 159.36,291.30 158.65,291.30 158.65,289.71 159.75,289.71 159.75,288.12 158.91,288.12 158.91,286.53 159.74,286.53 159.74,284.94 159.67,284.94 159.67,283.35 159.64,283.35 159.64,281.75 159.59,281.75 159.59,280.16 159.09,280.16 159.09,278.57 159.14,278.57 159.14,276.98 159.03,276.98 159.03,275.39 159.20,275.39 159.20,273.80" fill="none" stroke="#000" stroke-width="2.2" stroke-linejoin="round" stroke-linecap="butt" />
<text x="94.10" y="215.30" font-size="14.3" font-weight="normal" font-style="normal" text-anchor="start" textLength="18.9" lengthAdjust="spacingAndGlyphs" class="th">K<tspan font-style="italic">O</tspan></text>
<line x1="118.20" y1="213.40" x2="131.90" y2="220.20" stroke="#000" stroke-width="2.2" />
<text x="93.00" y="232.80" font-size="14.5" font-weight="normal" font-style="normal" text-anchor="start" class="th">WT</text>
<line x1="116.30" y1="230.90" x2="129.00" y2="236.80" stroke="#000" stroke-width="0.9" />
<line x1="204.10" y1="193.00" x2="336.10" y2="193.00" stroke="#555" stroke-width="1.7" />
<line x1="204.70" y1="193.00" x2="204.70" y2="294.50" stroke="#000" stroke-width="1.0" />
<line x1="204.70" y1="294.50" x2="335.60" y2="294.50" stroke="#000" stroke-width="1.3" />
<line x1="335.60" y1="193.00" x2="335.60" y2="294.50" stroke="#aaa" stroke-width="1.3" />
<rect x="206" y="196.0" width="1.1" height="1.1" fill="#000"/>
<rect x="206" y="201.5" width="1.1" height="1.1" fill="#000"/>
<rect x="206" y="207.0" width="1.1" height="1.1" fill="#000"/>
<rect x="206" y="212.5" width="1.1" height="1.1" fill="#000"/>
<rect x="206" y="218.0" width="1.1" height="1.1" fill="#000"/>
<rect x="206" y="223.5" width="1.1" height="1.1" fill="#000"/>
<rect x="206" y="229.0" width="1.1" height="1.1" fill="#000"/>
<rect x="206" y="234.5" width="1.1" height="1.1" fill="#000"/>
<rect x="206" y="240.0" width="1.1" height="1.1" fill="#000"/>
<rect x="206" y="245.5" width="1.1" height="1.1" fill="#000"/>
<rect x="206" y="251.0" width="1.1" height="1.1" fill="#000"/>
<rect x="206" y="256.5" width="1.1" height="1.1" fill="#000"/>
<rect x="206" y="262.0" width="1.1" height="1.1" fill="#000"/>
<rect x="206" y="267.5" width="1.1" height="1.1" fill="#000"/>
<rect x="206" y="273.0" width="1.1" height="1.1" fill="#000"/>
<rect x="206" y="278.5" width="1.1" height="1.1" fill="#000"/>
<rect x="206" y="284.0" width="1.1" height="1.1" fill="#000"/>
<rect x="206" y="289.5" width="1.1" height="1.1" fill="#000"/>
<line x1="205.50" y1="294.50" x2="205.50" y2="299.50" stroke="#000" stroke-width="1" />
<line x1="215.21" y1="294.50" x2="215.21" y2="297.00" stroke="#000" stroke-width="0.9" />
<line x1="220.89" y1="294.50" x2="220.89" y2="297.00" stroke="#000" stroke-width="0.9" />
<line x1="224.92" y1="294.50" x2="224.92" y2="297.00" stroke="#000" stroke-width="0.9" />
<line x1="228.04" y1="294.50" x2="228.04" y2="297.00" stroke="#000" stroke-width="0.9" />
<line x1="230.60" y1="294.50" x2="230.60" y2="297.00" stroke="#000" stroke-width="0.9" />
<line x1="232.75" y1="294.50" x2="232.75" y2="297.00" stroke="#000" stroke-width="0.9" />
<line x1="234.62" y1="294.50" x2="234.62" y2="297.00" stroke="#000" stroke-width="0.9" />
<line x1="236.27" y1="294.50" x2="236.27" y2="297.00" stroke="#000" stroke-width="0.9" />
<line x1="237.75" y1="294.50" x2="237.75" y2="299.50" stroke="#000" stroke-width="1" />
<line x1="247.46" y1="294.50" x2="247.46" y2="297.00" stroke="#000" stroke-width="0.9" />
<line x1="253.14" y1="294.50" x2="253.14" y2="297.00" stroke="#000" stroke-width="0.9" />
<line x1="257.17" y1="294.50" x2="257.17" y2="297.00" stroke="#000" stroke-width="0.9" />
<line x1="260.29" y1="294.50" x2="260.29" y2="297.00" stroke="#000" stroke-width="0.9" />
<line x1="262.85" y1="294.50" x2="262.85" y2="297.00" stroke="#000" stroke-width="0.9" />
<line x1="265.00" y1="294.50" x2="265.00" y2="297.00" stroke="#000" stroke-width="0.9" />
<line x1="266.87" y1="294.50" x2="266.87" y2="297.00" stroke="#000" stroke-width="0.9" />
<line x1="268.52" y1="294.50" x2="268.52" y2="297.00" stroke="#000" stroke-width="0.9" />
<line x1="270.00" y1="294.50" x2="270.00" y2="299.50" stroke="#000" stroke-width="1" />
<line x1="279.71" y1="294.50" x2="279.71" y2="297.00" stroke="#000" stroke-width="0.9" />
<line x1="285.39" y1="294.50" x2="285.39" y2="297.00" stroke="#000" stroke-width="0.9" />
<line x1="289.42" y1="294.50" x2="289.42" y2="297.00" stroke="#000" stroke-width="0.9" />
<line x1="292.54" y1="294.50" x2="292.54" y2="297.00" stroke="#000" stroke-width="0.9" />
<line x1="295.10" y1="294.50" x2="295.10" y2="297.00" stroke="#000" stroke-width="0.9" />
<line x1="297.25" y1="294.50" x2="297.25" y2="297.00" stroke="#000" stroke-width="0.9" />
<line x1="299.12" y1="294.50" x2="299.12" y2="297.00" stroke="#000" stroke-width="0.9" />
<line x1="300.77" y1="294.50" x2="300.77" y2="297.00" stroke="#000" stroke-width="0.9" />
<line x1="302.25" y1="294.50" x2="302.25" y2="299.50" stroke="#000" stroke-width="1" />
<line x1="311.96" y1="294.50" x2="311.96" y2="297.00" stroke="#000" stroke-width="0.9" />
<line x1="317.64" y1="294.50" x2="317.64" y2="297.00" stroke="#000" stroke-width="0.9" />
<line x1="321.67" y1="294.50" x2="321.67" y2="297.00" stroke="#000" stroke-width="0.9" />
<line x1="324.79" y1="294.50" x2="324.79" y2="297.00" stroke="#000" stroke-width="0.9" />
<line x1="327.35" y1="294.50" x2="327.35" y2="297.00" stroke="#000" stroke-width="0.9" />
<line x1="329.50" y1="294.50" x2="329.50" y2="297.00" stroke="#000" stroke-width="0.9" />
<line x1="331.37" y1="294.50" x2="331.37" y2="297.00" stroke="#000" stroke-width="0.9" />
<line x1="333.02" y1="294.50" x2="333.02" y2="297.00" stroke="#000" stroke-width="0.9" />
<line x1="334.50" y1="294.50" x2="334.50" y2="299.50" stroke="#000" stroke-width="1" />
<path d="M515 0V1237L197 1010V1180L530 1409H696V0Z" transform="translate(196.00,314.70) scale(0.00576,-0.00576)" fill="#000" stroke="#000" stroke-width="31.2"/><text class="tl" x="202.56" y="314.70" font-size="11.8">0</text><text class="tl" x="209.43" y="308.90" font-size="10.2">0</text>
<path d="M515 0V1237L197 1010V1180L530 1409H696V0Z" transform="translate(229.20,314.70) scale(0.00576,-0.00576)" fill="#000" stroke="#000" stroke-width="31.2"/><text class="tl" x="235.76" y="314.70" font-size="11.8">0</text><path d="M515 0V1237L197 1010V1180L530 1409H696V0Z" transform="translate(242.63,308.90) scale(0.00498,-0.00498)" fill="#000" stroke="#000" stroke-width="36.1"/>
<path d="M515 0V1237L197 1010V1180L530 1409H696V0Z" transform="translate(262.10,314.70) scale(0.00576,-0.00576)" fill="#000" stroke="#000" stroke-width="31.2"/><text class="tl" x="268.66" y="314.70" font-size="11.8">0</text><text class="tl" x="275.53" y="308.90" font-size="10.2">2</text>
<path d="M515 0V1237L197 1010V1180L530 1409H696V0Z" transform="translate(296.00,314.70) scale(0.00576,-0.00576)" fill="#000" stroke="#000" stroke-width="31.2"/><text class="tl" x="302.56" y="314.70" font-size="11.8">0</text><text class="tl" x="309.43" y="308.90" font-size="10.2">3</text>
<path d="M515 0V1237L197 1010V1180L530 1409H696V0Z" transform="translate(326.70,314.70) scale(0.00576,-0.00576)" fill="#000" stroke="#000" stroke-width="31.2"/><text class="tl" x="333.26" y="314.70" font-size="11.8">0</text><text class="tl" x="340.13" y="308.90" font-size="10.2">4</text>
<text class="tl" x="0" y="0" font-size="12.5" text-anchor="middle" transform="translate(196.30,243.65) rotate(-90)">Counts</text>
<text x="271.50" y="336.90" font-size="20" font-weight="bold" font-style="normal" text-anchor="middle" >CTx</text>
<polyline points="208.80,213.40 211.70,208.50 213.60,200.70 216.60,206.60 218.50,219.20 219.50,232.90 221.40,246.50 223.40,258.20 227.30,269.90 230.20,274.70 233.10,279.60 240.90,289.40 244.80,292.30" fill="none" stroke="#000" stroke-width="1.5" stroke-dasharray="1.5 3.4" />
<polyline points="206.00,294.11 207.47,294.11 207.47,294.18 208.93,294.18 208.93,294.19 210.40,294.19 210.40,294.28 211.85,294.28 211.85,294.06 213.32,294.06 213.32,294.19 214.76,294.19 214.76,293.35 216.23,293.35 216.23,293.70 217.70,293.70 217.70,294.09 219.16,294.09 219.16,293.79 220.62,293.79 220.62,293.98 222.07,293.98 222.07,293.23 223.54,293.23 223.54,293.51 224.90,293.51 224.90,293.30 226.68,293.30 226.68,292.70 228.36,292.70 228.36,291.89 229.69,291.89 229.69,290.69 230.82,290.69 230.82,289.82 231.86,289.82 231.86,288.86 233.26,288.86 233.26,288.26 234.17,288.26 234.17,287.17 234.71,287.17 234.71,285.91 235.76,285.91 235.76,284.48 235.69,284.48 235.69,282.70 236.60,282.70 236.60,281.23 236.67,281.23 236.67,279.55 236.78,279.55 236.78,278.02 237.78,278.02 237.78,276.63 237.41,276.63 237.41,275.03 237.64,275.03 237.64,273.52 238.54,273.52 238.54,272.11 238.66,272.11 238.66,270.58 238.37,270.58 238.37,268.99 239.19,268.99 239.19,267.57 239.02,267.57 239.02,266.03 240.25,266.03 240.25,265.33 241.17,265.33 241.17,264.18 242.71,264.18 242.71,263.93 243.74,263.93 243.74,262.94 245.15,262.94 245.15,262.23 245.92,262.23 245.92,260.91 246.28,260.91 246.28,259.34 247.14,259.34 247.14,258.08 247.81,258.08 247.81,256.71 248.61,256.71 248.61,255.41 249.35,255.41 249.35,254.13 250.23,254.13 250.23,252.83 251.15,252.83 251.15,251.57 251.36,251.57 251.36,249.94 252.59,249.94 252.59,248.83 253.00,248.83 253.00,247.31 253.66,247.31 253.66,245.91 254.76,245.91 254.76,244.72 255.13,244.72 255.13,243.13 255.65,243.13 255.65,241.60 256.43,241.60 256.43,240.19 257.27,240.19 257.27,238.81 257.39,238.81 257.39,237.11 258.63,237.11 258.63,236.16 259.37,236.16 259.37,234.67 260.92,234.67 260.92,234.46 261.73,234.46 261.73,233.65 263.14,233.65 263.14,234.72 263.29,234.72 263.29,236.46 264.39,236.46 264.39,237.70 264.98,237.70 264.98,239.21 266.23,239.21 266.23,240.50 266.53,240.50 266.53,242.02 266.75,242.02 266.75,243.56 266.40,243.56 266.40,245.22 267.40,245.22 267.40,246.59 267.24,246.59 267.24,248.21 267.42,248.21 267.42,249.75 267.74,249.75 267.74,251.26 268.60,251.26 268.60,252.66 268.92,252.66 268.92,254.15 269.32,254.15 269.32,255.59 269.65,255.59 269.65,257.06 270.76,257.06 270.76,258.23 270.76,258.23 270.76,259.82 271.27,259.82 271.27,261.23 271.76,261.23 271.76,262.63 272.97,262.63 272.97,263.71 272.94,263.71 272.94,265.48 274.33,265.48 274.33,266.54 274.83,266.54 274.83,268.04 275.31,268.04 275.31,269.54 275.76,269.54 275.76,271.07 276.93,271.07 276.93,272.24 277.16,272.24 277.16,273.87 278.11,273.87 278.11,275.00 278.95,275.00 278.95,276.19 279.60,276.19 279.60,277.48 280.36,277.48 280.36,278.70 281.09,278.70 281.09,279.95 281.66,279.95 281.66,281.23 282.04,281.23 282.04,282.67 282.59,282.67 282.59,284.01 283.99,284.01 283.99,284.77 284.86,284.77 284.86,285.90 285.30,285.90 285.30,287.74 286.84,287.74 286.84,287.33 288.38,287.33 288.38,287.22 289.92,287.22 289.92,287.06 291.46,287.06 291.46,287.38 292.84,287.38 292.84,287.54 294.20,287.54 294.20,288.05 295.40,288.05 295.40,288.80 296.76,288.80 296.76,289.31 297.51,289.31 297.51,290.73 298.95,290.73 298.95,290.78 300.49,290.78 300.49,291.38 302.04,291.38 302.04,291.87 303.70,291.87 303.70,291.43 305.22,291.43 305.22,292.15 306.78,292.15 306.78,292.53 308.40,292.53 308.40,292.43 309.99,292.43 309.99,292.76 311.42,292.76 311.42,292.18 312.82,292.18 312.82,292.50 314.24,292.50 314.24,292.27 315.64,292.27 315.64,292.93 317.06,292.93 317.06,292.46 318.47,292.46 318.47,292.63 319.87,292.63 319.87,293.16 321.29,293.16 321.29,293.05 322.70,293.05 322.70,293.19 324.12,293.19 324.12,292.75 325.53,292.75 325.53,292.81 326.94,292.81 326.94,293.06 328.35,293.06 328.35,292.86 329.77,292.86 329.77,292.72 331.18,292.72 331.18,292.85 332.59,292.85 332.59,292.65 334.00,292.65 334.00,293.00" fill="none" stroke="#000" stroke-width="1.0" stroke-linejoin="round" stroke-linecap="butt" />
<polyline points="205.81,294.71 207.29,294.71 207.29,293.65 208.80,293.65 208.80,294.43 210.30,294.43 210.30,293.78 211.81,293.78 211.81,294.67 213.29,294.67 213.29,293.59 214.80,293.59 214.80,294.53 216.30,294.53 216.30,294.29 217.80,294.29 217.80,294.47 219.31,294.47 219.31,294.61 220.80,294.61 220.80,293.76 222.30,293.76 222.30,293.85 223.80,293.85 223.80,294.24 225.18,294.24 225.18,293.79 226.81,293.79 226.81,292.87 228.42,292.87 228.42,291.94 230.50,291.94 230.50,291.55 231.49,291.55 231.49,290.41 232.41,290.41 232.41,289.19 232.91,289.19 232.91,287.62 234.48,287.62 234.48,286.96 235.11,286.96 235.11,285.51 236.05,285.51 236.05,284.11 237.39,284.11 237.39,283.11 238.52,283.11 238.52,281.90 239.41,281.90 239.41,280.46 240.96,280.46 240.96,279.64 241.61,279.64 241.61,278.13 242.65,278.13 242.65,276.87 243.83,276.87 243.83,275.69 244.41,275.69 244.41,274.14 245.03,274.14 245.03,272.62 246.30,272.62 246.30,271.49 247.29,271.49 247.29,270.14 247.48,270.14 247.48,268.50 248.61,268.50 248.61,267.32 248.38,267.32 248.38,265.47 249.19,265.47 249.19,264.13 249.90,264.13 249.90,262.74 251.35,262.74 251.35,261.71 251.79,261.71 251.79,260.18 252.43,260.18 252.43,258.73 252.61,258.73 252.61,257.08 253.43,257.08 253.43,255.71 254.44,255.71 254.44,254.41 254.26,254.41 254.26,252.62 254.89,252.62 254.89,251.16 255.43,251.16 255.43,249.67 256.47,249.67 256.47,248.39 257.28,248.39 257.28,246.83 257.39,246.83 257.39,245.10 257.64,245.10 257.64,243.40 258.16,243.40 258.16,241.77 258.23,241.77 258.23,240.03 259.46,240.03 259.46,238.58 259.31,238.58 259.31,236.67 260.83,236.67 260.83,235.41 262.76,235.41 262.76,234.37 263.37,234.37 263.37,235.95 264.83,235.95 264.83,236.81 265.38,236.81 265.38,238.45 266.90,238.45 266.90,239.26 267.86,239.26 267.86,240.57 269.00,240.57 269.00,241.95 268.96,241.95 268.96,243.92 269.85,243.92 269.85,245.43 270.95,245.43 270.95,246.83 272.08,246.83 272.08,248.21 272.49,248.21 272.49,249.94 273.38,249.94 273.38,251.42 273.71,251.42 273.71,253.19 274.40,253.19 274.40,254.77 275.35,254.77 275.35,256.19 276.40,256.19 276.40,257.58 277.23,257.58 277.23,259.04 276.93,259.04 276.93,260.93 277.46,260.93 277.46,262.51 278.84,262.51 278.84,263.73 279.28,263.73 279.28,265.46 280.08,265.46 280.08,267.01 280.37,267.01 280.37,268.81 282.07,268.81 282.07,269.92 282.85,269.92 282.85,271.53 282.63,271.53 282.63,273.39 283.49,273.39 283.49,274.85 284.18,274.85 284.18,276.37 284.43,276.37 284.43,278.05 285.21,278.05 285.21,279.55 285.90,279.55 285.90,280.97 287.09,280.97 287.09,282.09 288.04,282.09 288.04,283.35 288.89,283.35 288.89,284.67 289.30,284.67 289.30,286.15 290.56,286.15 290.56,287.41 292.17,287.41 292.17,288.14 293.64,288.14 293.64,289.09 294.97,289.09 294.97,290.33 296.51,290.33 296.51,290.80 298.10,290.80 298.10,291.06 299.73,291.06 299.73,291.14 301.16,291.14 301.16,292.06 302.79,292.06 302.79,292.43 304.35,292.43 304.35,292.58 305.91,292.58 305.91,292.63 307.50,292.63 307.50,291.72 309.03,291.72 309.03,292.49 310.61,292.49 310.61,292.18 312.16,292.18 312.16,292.28 313.72,292.28 313.72,292.47 315.29,292.47 315.29,292.11 316.85,292.11 316.85,292.27 318.38,292.27 318.38,293.13 319.97,293.13 319.97,292.46 321.51,292.46 321.51,293.15 323.07,293.15 323.07,292.95 324.65,292.95 324.65,292.60 326.21,292.60 326.21,292.65 327.76,292.65 327.76,293.02 329.31,293.02 329.31,293.17 330.89,293.17 330.89,292.82 332.46,292.82 332.46,292.57 334.00,292.57 334.00,293.10" fill="none" stroke="#000" stroke-width="2.2" stroke-linejoin="round" stroke-linecap="butt" />
<text x="279.60" y="223.00" font-size="14.3" font-weight="normal" font-style="normal" text-anchor="start" textLength="18.9" lengthAdjust="spacingAndGlyphs" class="th">K<tspan font-style="italic">O</tspan></text>
<line x1="278.50" y1="227.90" x2="265.80" y2="239.60" stroke="#000" stroke-width="2.2" />
<text x="284.40" y="241.50" font-size="14.5" font-weight="normal" font-style="normal" text-anchor="start" class="th">WT</text>
<line x1="280.40" y1="244.50" x2="270.70" y2="254.20" stroke="#000" stroke-width="0.9" />
<line x1="376.40" y1="192.80" x2="508.50" y2="192.80" stroke="#000" stroke-width="1.3" />
<line x1="377.00" y1="192.80" x2="377.00" y2="291.80" stroke="#000" stroke-width="1.2" />
<line x1="377.00" y1="291.80" x2="508.00" y2="291.80" stroke="#000" stroke-width="1.3" />
<line x1="508.00" y1="192.80" x2="508.00" y2="291.80" stroke="#888" stroke-width="1.5" />
<line x1="372.00" y1="194.00" x2="378.50" y2="194.00" stroke="#000" stroke-width="1" />
<line x1="374.00" y1="196.71" x2="378.50" y2="196.71" stroke="#000" stroke-width="1" />
<line x1="374.00" y1="199.43" x2="378.50" y2="199.43" stroke="#000" stroke-width="1" />
<line x1="374.00" y1="202.14" x2="378.50" y2="202.14" stroke="#000" stroke-width="1" />
<line x1="374.00" y1="204.86" x2="378.50" y2="204.86" stroke="#000" stroke-width="1" />
<line x1="374.00" y1="207.57" x2="378.50" y2="207.57" stroke="#000" stroke-width="1" />
<line x1="374.00" y1="210.29" x2="378.50" y2="210.29" stroke="#000" stroke-width="1" />
<line x1="372.00" y1="213.00" x2="378.50" y2="213.00" stroke="#000" stroke-width="1" />
<line x1="374.00" y1="215.71" x2="378.50" y2="215.71" stroke="#000" stroke-width="1" />
<line x1="374.00" y1="218.43" x2="378.50" y2="218.43" stroke="#000" stroke-width="1" />
<line x1="374.00" y1="221.14" x2="378.50" y2="221.14" stroke="#000" stroke-width="1" />
<line x1="374.00" y1="223.86" x2="378.50" y2="223.86" stroke="#000" stroke-width="1" />
<line x1="374.00" y1="226.57" x2="378.50" y2="226.57" stroke="#000" stroke-width="1" />
<line x1="374.00" y1="229.29" x2="378.50" y2="229.29" stroke="#000" stroke-width="1" />
<line x1="372.00" y1="232.00" x2="378.50" y2="232.00" stroke="#000" stroke-width="1" />
<line x1="374.00" y1="234.71" x2="378.50" y2="234.71" stroke="#000" stroke-width="1" />
<line x1="374.00" y1="237.43" x2="378.50" y2="237.43" stroke="#000" stroke-width="1" />
<line x1="374.00" y1="240.14" x2="378.50" y2="240.14" stroke="#000" stroke-width="1" />
<line x1="374.00" y1="242.86" x2="378.50" y2="242.86" stroke="#000" stroke-width="1" />
<line x1="374.00" y1="245.57" x2="378.50" y2="245.57" stroke="#000" stroke-width="1" />
<line x1="374.00" y1="248.29" x2="378.50" y2="248.29" stroke="#000" stroke-width="1" />
<line x1="372.00" y1="251.00" x2="378.50" y2="251.00" stroke="#000" stroke-width="1" />
<line x1="374.00" y1="253.71" x2="378.50" y2="253.71" stroke="#000" stroke-width="1" />
<line x1="374.00" y1="256.43" x2="378.50" y2="256.43" stroke="#000" stroke-width="1" />
<line x1="374.00" y1="259.14" x2="378.50" y2="259.14" stroke="#000" stroke-width="1" />
<line x1="374.00" y1="261.86" x2="378.50" y2="261.86" stroke="#000" stroke-width="1" />
<line x1="374.00" y1="264.57" x2="378.50" y2="264.57" stroke="#000" stroke-width="1" />
<line x1="374.00" y1="267.29" x2="378.50" y2="267.29" stroke="#000" stroke-width="1" />
<line x1="372.00" y1="270.00" x2="378.50" y2="270.00" stroke="#000" stroke-width="1" />
<line x1="374.00" y1="272.71" x2="378.50" y2="272.71" stroke="#000" stroke-width="1" />
<line x1="374.00" y1="275.43" x2="378.50" y2="275.43" stroke="#000" stroke-width="1" />
<line x1="374.00" y1="278.14" x2="378.50" y2="278.14" stroke="#000" stroke-width="1" />
<line x1="374.00" y1="280.86" x2="378.50" y2="280.86" stroke="#000" stroke-width="1" />
<line x1="374.00" y1="283.57" x2="378.50" y2="283.57" stroke="#000" stroke-width="1" />
<line x1="374.00" y1="286.29" x2="378.50" y2="286.29" stroke="#000" stroke-width="1" />
<line x1="372.00" y1="289.00" x2="378.50" y2="289.00" stroke="#000" stroke-width="1" />
<line x1="374.00" y1="291.71" x2="378.50" y2="291.71" stroke="#000" stroke-width="1" />
<line x1="377.80" y1="291.80" x2="377.80" y2="296.80" stroke="#000" stroke-width="1" />
<line x1="387.49" y1="291.80" x2="387.49" y2="294.30" stroke="#000" stroke-width="0.9" />
<line x1="393.16" y1="291.80" x2="393.16" y2="294.30" stroke="#000" stroke-width="0.9" />
<line x1="397.19" y1="291.80" x2="397.19" y2="294.30" stroke="#000" stroke-width="0.9" />
<line x1="400.31" y1="291.80" x2="400.31" y2="294.30" stroke="#000" stroke-width="0.9" />
<line x1="402.86" y1="291.80" x2="402.86" y2="294.30" stroke="#000" stroke-width="0.9" />
<line x1="405.01" y1="291.80" x2="405.01" y2="294.30" stroke="#000" stroke-width="0.9" />
<line x1="406.88" y1="291.80" x2="406.88" y2="294.30" stroke="#000" stroke-width="0.9" />
<line x1="408.53" y1="291.80" x2="408.53" y2="294.30" stroke="#000" stroke-width="0.9" />
<line x1="410.00" y1="291.80" x2="410.00" y2="296.80" stroke="#000" stroke-width="1" />
<line x1="419.69" y1="291.80" x2="419.69" y2="294.30" stroke="#000" stroke-width="0.9" />
<line x1="425.36" y1="291.80" x2="425.36" y2="294.30" stroke="#000" stroke-width="0.9" />
<line x1="429.39" y1="291.80" x2="429.39" y2="294.30" stroke="#000" stroke-width="0.9" />
<line x1="432.51" y1="291.80" x2="432.51" y2="294.30" stroke="#000" stroke-width="0.9" />
<line x1="435.06" y1="291.80" x2="435.06" y2="294.30" stroke="#000" stroke-width="0.9" />
<line x1="437.21" y1="291.80" x2="437.21" y2="294.30" stroke="#000" stroke-width="0.9" />
<line x1="439.08" y1="291.80" x2="439.08" y2="294.30" stroke="#000" stroke-width="0.9" />
<line x1="440.73" y1="291.80" x2="440.73" y2="294.30" stroke="#000" stroke-width="0.9" />
<line x1="442.20" y1="291.80" x2="442.20" y2="296.80" stroke="#000" stroke-width="1" />
<line x1="451.89" y1="291.80" x2="451.89" y2="294.30" stroke="#000" stroke-width="0.9" />
<line x1="457.56" y1="291.80" x2="457.56" y2="294.30" stroke="#000" stroke-width="0.9" />
<line x1="461.59" y1="291.80" x2="461.59" y2="294.30" stroke="#000" stroke-width="0.9" />
<line x1="464.71" y1="291.80" x2="464.71" y2="294.30" stroke="#000" stroke-width="0.9" />
<line x1="467.26" y1="291.80" x2="467.26" y2="294.30" stroke="#000" stroke-width="0.9" />
<line x1="469.41" y1="291.80" x2="469.41" y2="294.30" stroke="#000" stroke-width="0.9" />
<line x1="471.28" y1="291.80" x2="471.28" y2="294.30" stroke="#000" stroke-width="0.9" />
<line x1="472.93" y1="291.80" x2="472.93" y2="294.30" stroke="#000" stroke-width="0.9" />
<line x1="474.40" y1="291.80" x2="474.40" y2="296.80" stroke="#000" stroke-width="1" />
<line x1="484.09" y1="291.80" x2="484.09" y2="294.30" stroke="#000" stroke-width="0.9" />
<line x1="489.76" y1="291.80" x2="489.76" y2="294.30" stroke="#000" stroke-width="0.9" />
<line x1="493.79" y1="291.80" x2="493.79" y2="294.30" stroke="#000" stroke-width="0.9" />
<line x1="496.91" y1="291.80" x2="496.91" y2="294.30" stroke="#000" stroke-width="0.9" />
<line x1="499.46" y1="291.80" x2="499.46" y2="294.30" stroke="#000" stroke-width="0.9" />
<line x1="501.61" y1="291.80" x2="501.61" y2="294.30" stroke="#000" stroke-width="0.9" />
<line x1="503.48" y1="291.80" x2="503.48" y2="294.30" stroke="#000" stroke-width="0.9" />
<line x1="505.13" y1="291.80" x2="505.13" y2="294.30" stroke="#000" stroke-width="0.9" />
<line x1="506.60" y1="291.80" x2="506.60" y2="296.80" stroke="#000" stroke-width="1" />
<path d="M515 0V1237L197 1010V1180L530 1409H696V0Z" transform="translate(369.00,312.50) scale(0.00576,-0.00576)" fill="#000" stroke="#000" stroke-width="31.2"/><text class="tl" x="375.56" y="312.50" font-size="11.8">0</text><text class="tl" x="382.43" y="306.70" font-size="10.2">0</text>
<path d="M515 0V1237L197 1010V1180L530 1409H696V0Z" transform="translate(402.80,312.50) scale(0.00576,-0.00576)" fill="#000" stroke="#000" stroke-width="31.2"/><text class="tl" x="409.36" y="312.50" font-size="11.8">0</text><path d="M515 0V1237L197 1010V1180L530 1409H696V0Z" transform="translate(416.23,306.70) scale(0.00498,-0.00498)" fill="#000" stroke="#000" stroke-width="36.1"/>
<path d="M515 0V1237L197 1010V1180L530 1409H696V0Z" transform="translate(435.20,312.50) scale(0.00576,-0.00576)" fill="#000" stroke="#000" stroke-width="31.2"/><text class="tl" x="441.76" y="312.50" font-size="11.8">0</text><text class="tl" x="448.63" y="306.70" font-size="10.2">2</text>
<path d="M515 0V1237L197 1010V1180L530 1409H696V0Z" transform="translate(466.00,312.50) scale(0.00576,-0.00576)" fill="#000" stroke="#000" stroke-width="31.2"/><text class="tl" x="472.56" y="312.50" font-size="11.8">0</text><text class="tl" x="479.43" y="306.70" font-size="10.2">3</text>
<path d="M515 0V1237L197 1010V1180L530 1409H696V0Z" transform="translate(498.30,312.50) scale(0.00576,-0.00576)" fill="#000" stroke="#000" stroke-width="31.2"/><text class="tl" x="504.86" y="312.50" font-size="11.8">0</text><text class="tl" x="511.73" y="306.70" font-size="10.2">4</text>
<text class="tl" x="0" y="0" font-size="12.5" text-anchor="middle" transform="translate(366.30,243.90) rotate(-90)">Counts</text>
<text x="445.60" y="336.50" font-size="20" font-weight="bold" font-style="normal" text-anchor="middle" >IgE</text>
<polyline points="380.80,277.70 383.80,267.90 386.70,256.20 389.60,244.50 392.50,230.90 395.50,219.20 398.40,206.60 401.30,196.80 404.20,209.50 406.20,221.20 408.10,238.70 409.70,252.30 411.00,267.90 414.00,281.60 417.90,286.40 435.00,286.40 450.00,286.00" fill="none" stroke="#000" stroke-width="1.5" stroke-dasharray="1.5 3.4" />
<polyline points="378.03,291.26 379.64,291.26 379.64,291.09 381.20,291.09 381.20,290.59 382.77,290.59 382.77,290.19 384.34,290.19 384.34,289.75 386.09,289.75 386.09,290.12 387.32,290.12 387.32,288.98 388.81,288.98 388.81,288.19 389.97,288.19 389.97,286.89 391.74,286.89 391.74,286.73 393.27,286.73 393.27,285.80 395.03,285.80 395.03,285.77 397.03,285.77 397.03,285.46 398.97,285.46 398.97,284.93 400.68,284.93 400.68,284.20 402.41,284.20 402.41,283.48 404.20,283.48 404.20,282.30 404.97,282.30 404.97,283.53 406.05,283.53 406.05,284.77 407.47,284.77 407.47,284.04 409.23,284.04 409.23,284.14 409.89,284.14 409.89,282.84 410.77,282.84 410.77,281.66 411.12,281.66 411.12,280.17 411.68,280.17 411.68,278.82 412.99,278.82 412.99,277.75 413.74,277.75 413.74,276.38 414.21,276.38 414.21,274.85 414.70,274.85 414.70,273.29 415.73,273.29 415.73,271.97 417.00,271.97 417.00,270.82 417.70,270.82 417.70,269.27 419.16,269.27 419.16,268.18 419.52,268.18 419.52,266.72 419.86,266.72 419.86,265.25 420.88,265.25 420.88,264.11 421.29,264.11 421.29,262.68 422.40,262.68 422.40,261.59 423.05,261.59 423.05,260.22 423.20,260.22 423.20,258.74 423.80,258.74 423.80,257.42 424.34,257.42 424.34,256.08 424.92,256.08 424.92,254.75 425.55,254.75 425.55,253.45 425.24,253.45 425.24,251.80 426.01,251.80 426.01,250.54 426.71,250.54 426.71,249.25 426.94,249.25 426.94,247.80 427.68,247.80 427.68,246.51 427.48,246.51 427.48,245.06 428.42,245.06 428.42,243.80 428.35,243.80 428.35,242.37 428.23,242.37 428.23,240.92 428.95,240.92 428.95,239.63 428.88,239.63 428.88,238.20 429.02,238.20 429.02,236.80 429.52,236.80 429.52,235.46 429.45,235.46 429.45,234.03 429.76,234.03 429.76,232.66 430.58,232.66 430.58,231.39 430.68,231.39 430.68,229.98 430.31,229.98 430.31,228.50 431.23,228.50 431.23,227.23 430.80,227.23 430.80,225.74 431.32,225.74 431.32,224.41 432.07,224.41 432.07,223.12 432.06,223.12 432.06,221.69 432.02,221.69 432.02,220.27 432.32,220.27 432.32,218.90 432.58,218.90 432.58,217.52 432.59,217.52 432.59,216.10 433.60,216.10 433.60,214.86 433.05,214.86 433.05,213.20 434.21,213.20 434.21,211.90 435.32,211.90 435.32,210.58 436.05,210.58 436.05,208.93 437.40,208.93 437.40,210.55 439.51,210.55 439.51,211.31 439.49,211.31 439.49,212.88 440.14,212.88 440.14,214.14 440.91,214.14 440.91,215.36 441.31,215.36 441.31,216.74 442.26,216.74 442.26,217.88 442.51,217.88 442.51,219.25 442.80,219.25 442.80,220.66 443.31,220.66 443.31,222.02 443.62,222.02 443.62,223.42 443.67,223.42 443.67,224.87 444.20,224.87 444.20,226.23 444.75,226.23 444.75,227.59 444.43,227.59 444.43,229.10 445.12,229.10 445.12,230.43 445.18,230.43 445.18,231.88 445.19,231.88 445.19,233.34 445.99,233.34 445.99,234.64 446.44,234.64 446.44,236.12 446.68,236.12 446.68,237.65 446.59,237.65 446.59,239.25 447.11,239.25 447.11,240.72 447.53,240.72 447.53,242.21 447.68,242.21 447.68,243.76 447.58,243.76 447.58,245.36 448.49,245.36 448.49,246.74 448.68,246.74 448.68,248.28 448.70,248.28 448.70,249.86 449.35,249.86 449.35,251.25 450.08,251.25 450.08,252.63 450.32,252.63 450.32,254.14 450.74,254.14 450.74,255.61 451.46,255.61 451.46,256.99 451.68,256.99 451.68,258.51 452.17,258.51 452.17,259.96 452.11,259.96 452.11,261.57 452.90,261.57 452.90,262.96 452.99,262.96 452.99,264.53 453.09,264.53 453.09,266.10 453.51,266.10 453.51,267.59 454.36,267.59 454.36,268.97 454.54,268.97 454.54,270.52 455.16,270.52 455.16,271.96 455.46,271.96 455.46,273.35 455.76,273.35 455.76,274.75 455.87,274.75 455.87,276.19 456.12,276.19 456.12,277.60 457.06,277.60 457.06,278.83 457.68,278.83 457.68,280.13 457.67,280.13 457.67,281.61 458.37,281.61 458.37,282.84 458.99,282.84 458.99,284.23 458.97,284.23 458.97,285.90 460.12,285.90 460.12,287.06 460.22,287.06 460.22,288.68 461.00,288.68 461.00,289.88 462.43,289.88 462.43,290.43 463.87,290.43 463.87,290.38 465.32,290.38 465.32,289.70 466.76,289.70 466.76,289.85 468.18,289.85 468.18,290.56 469.62,290.56 469.62,290.29 471.06,290.29 471.06,290.15 472.49,290.15 472.49,290.50 473.93,290.50 473.93,290.56 475.38,290.56 475.38,290.31 476.81,290.31 476.81,290.32 478.26,290.32 478.26,290.02 479.69,290.02 479.69,290.28 481.13,290.28 481.13,290.12 482.56,290.12 482.56,290.58 484.00,290.58 484.00,290.60 485.44,290.60 485.44,290.21 486.87,290.21 486.87,290.68 488.32,290.68 488.32,290.23 489.76,290.23 489.76,290.27 491.18,290.27 491.18,290.79 492.63,290.79 492.63,290.65 494.05,290.65 494.05,291.08 495.50,291.08 495.50,290.87 496.93,290.87 496.93,290.96 498.38,290.96 498.38,290.48 499.81,290.48 499.81,291.14 501.26,291.14 501.26,290.50 502.69,290.50 502.69,291.01 504.12,291.01 504.12,291.31 505.55,291.31 505.55,291.34 507.00,291.34 507.00,291.00" fill="none" stroke="#000" stroke-width="1.0" stroke-linejoin="round" stroke-linecap="butt" />
<polyline points="378.00,291.15 379.58,291.15 379.58,291.25 381.17,291.25 381.17,291.16 382.75,291.16 382.75,291.17 384.33,291.17 384.33,291.10 385.92,291.10 385.92,291.35 387.50,291.35 387.50,290.88 389.09,290.88 389.09,291.27 390.66,291.27 390.66,290.56 392.25,290.56 392.25,290.86 393.83,290.86 393.83,290.87 395.41,290.87 395.41,290.63 397.09,290.63 397.09,291.25 398.35,291.25 398.35,290.30 399.94,290.30 399.94,290.30 401.42,290.30 401.42,289.97 402.58,289.97 402.58,288.74 404.23,288.74 404.23,288.91 405.64,288.91 405.64,288.31 407.20,288.31 407.20,287.42 408.53,287.42 408.53,286.03 410.36,286.03 410.36,285.71 412.11,285.71 412.11,285.08 412.82,285.08 412.82,283.44 413.75,283.44 413.75,281.96 414.83,281.96 414.83,280.57 415.74,280.57 415.74,279.29 417.15,279.29 417.15,278.39 417.72,278.39 417.72,276.85 418.72,276.85 418.72,275.67 419.44,275.67 419.44,274.29 420.24,274.29 420.24,272.93 420.05,272.93 420.05,271.24 420.27,271.24 420.27,269.69 421.73,269.69 421.73,268.55 422.07,268.55 422.07,267.04 422.52,267.04 422.52,265.56 422.72,265.56 422.72,264.01 422.85,264.01 422.85,262.41 423.20,262.41 423.20,260.87 423.79,260.87 423.79,259.41 424.39,259.41 424.39,257.94 424.41,257.94 424.41,256.31 425.51,256.31 425.51,254.99 425.97,254.99 425.97,253.49 425.65,253.49 425.65,251.76 426.97,251.76 426.97,250.49 426.98,250.49 426.98,248.84 427.83,248.84 427.83,247.39 427.74,247.39 427.74,245.71 428.48,245.71 428.48,244.24 428.50,244.24 428.50,242.59 429.06,242.59 429.06,241.07 429.33,241.07 429.33,239.48 429.21,239.48 429.21,237.79 429.73,237.79 429.73,236.27 430.21,236.27 430.21,234.75 430.66,234.75 430.66,233.19 430.89,233.19 430.89,231.59 431.33,231.59 431.33,230.03 431.73,230.03 431.73,228.47 431.71,228.47 431.71,226.83 431.89,226.83 431.89,225.22 432.36,225.22 432.36,223.67 433.10,223.67 433.10,222.15 433.18,222.15 433.18,220.53 433.31,220.53 433.31,218.92 433.73,218.92 433.73,217.43 433.72,217.43 433.72,215.63 434.19,215.63 434.19,214.02 434.78,214.02 434.78,212.46 435.41,212.46 435.41,210.91 435.91,210.91 435.91,209.26 437.47,209.26 437.47,207.61 437.89,207.61 437.89,205.81 439.41,205.81 439.41,206.86 439.57,206.86 439.57,208.59 440.04,208.59 440.04,210.17 440.93,210.17 440.93,211.50 442.14,211.50 442.14,212.89 442.22,212.89 442.22,214.68 443.20,214.68 443.20,216.16 443.87,216.16 443.87,217.75 444.62,217.75 444.62,219.30 444.67,219.30 444.67,221.10 444.41,221.10 444.41,222.76 445.47,222.76 445.47,224.29 445.59,224.29 445.59,225.91 445.49,225.91 445.49,227.55 446.04,227.55 446.04,229.13 445.74,229.13 445.74,230.79 445.77,230.79 445.77,232.48 446.38,232.48 446.38,234.06 447.15,234.06 447.15,235.60 447.47,235.60 447.47,237.23 447.61,237.23 447.61,238.90 447.42,238.90 447.42,240.65 447.58,240.65 447.58,242.37 448.45,242.37 448.45,243.92 449.31,243.92 449.31,245.46 449.62,245.46 449.62,247.15 449.83,247.15 449.83,248.86 450.59,248.86 450.59,250.43 451.01,250.43 451.01,252.10 451.03,252.10 451.03,253.65 450.96,253.65 450.96,255.22 451.97,255.22 451.97,256.52 451.64,256.52 451.64,258.15 452.01,258.15 452.01,259.61 452.85,259.61 452.85,260.96 453.43,260.96 453.43,262.36 453.84,262.36 453.84,263.82 453.68,263.82 453.68,265.41 453.88,265.41 453.88,266.91 454.20,266.91 454.20,268.38 455.26,268.38 455.26,269.67 455.39,269.67 455.39,271.19 456.19,271.19 456.19,272.55 456.25,272.55 456.25,274.09 456.62,274.09 456.62,275.54 457.28,275.54 457.28,277.10 457.81,277.10 457.81,278.70 457.33,278.70 457.33,280.61 458.54,280.61 458.54,282.01 458.82,282.01 458.82,283.68 459.27,283.68 459.27,285.32 460.29,285.32 460.29,286.88 461.15,286.88 461.15,288.55 462.20,288.55 462.20,290.10 463.71,290.10 463.71,290.12 465.23,290.12 465.23,289.70 466.73,289.70 466.73,290.35 468.24,290.35 468.24,290.42 469.74,290.42 469.74,290.51 471.26,290.51 471.26,290.09 472.77,290.09 472.77,290.29 474.27,290.29 474.27,290.70 475.78,290.70 475.78,290.65 477.31,290.65 477.31,289.94 478.81,289.94 478.81,290.29 480.33,290.29 480.33,290.14 481.82,290.14 481.82,290.77 483.34,290.77 483.34,290.46 484.85,290.46 484.85,290.48 486.37,290.48 486.37,290.33 487.87,290.33 487.87,290.62 489.37,290.62 489.37,290.94 490.89,290.94 490.89,290.88 492.41,290.88 492.41,290.46 493.91,290.46 493.91,290.68 495.42,290.68 495.42,290.97 496.94,290.97 496.94,290.38 498.43,290.38 498.43,291.34 499.96,291.34 499.96,290.41 501.46,290.41 501.46,291.10 502.98,291.10 502.98,290.61 504.47,290.61 504.47,291.54 505.99,291.54 505.99,291.28 507.50,291.28 507.50,291.10" fill="none" stroke="#000" stroke-width="2.2" stroke-linejoin="round" stroke-linecap="butt" />
<text x="460.40" y="204.60" font-size="14.3" font-weight="normal" font-style="normal" text-anchor="start" textLength="18.9" lengthAdjust="spacingAndGlyphs" class="th">K<tspan font-style="italic">O</tspan></text>
<line x1="459.30" y1="208.50" x2="445.70" y2="221.10" stroke="#000" stroke-width="2.2" />
<text x="462.30" y="228.80" font-size="14.5" font-weight="normal" font-style="normal" text-anchor="start" class="th">WT</text>
<line x1="459.30" y1="231.80" x2="448.60" y2="242.50" stroke="#000" stroke-width="0.9" />
<line x1="507.00" y1="287.50" x2="507.00" y2="291.50" stroke="#000" stroke-width="1.6" />
<line x1="334.50" y1="290.50" x2="334.50" y2="294.00" stroke="#000" stroke-width="1.4" />
<text x="128.80" y="378.10" font-size="19.6" font-weight="bold" font-style="normal" text-anchor="middle" ><tspan font-style="italic">Vav</tspan>Cre</text>
<text x="300.80" y="377.80" font-size="20" font-weight="bold" font-style="normal" text-anchor="middle" ><tspan font-style="italic">Vav</tspan>Cre<tspan font-style="italic">PigALoxP</tspan></text>
<text x="0" y="0" font-size="19.5" font-weight="bold" text-anchor="middle" transform="translate(29.3,450.2) rotate(-90)">c-Kit</text>
<text x="226.00" y="547.00" font-size="20" font-weight="bold" font-style="normal" text-anchor="middle" >proaerolysin</text>
<line x1="66.20" y1="392.20" x2="196.00" y2="392.20" stroke="#000" stroke-width="1.3" />
<line x1="66.80" y1="392.20" x2="66.80" y2="507.30" stroke="#000" stroke-width="1.2" />
<line x1="66.80" y1="507.30" x2="195.50" y2="507.30" stroke="#000" stroke-width="1.2" />
<line x1="195.50" y1="392.20" x2="195.50" y2="507.30" stroke="#777" stroke-width="1.1" />
<line x1="66.80" y1="442.50" x2="195.50" y2="442.50" stroke="#333" stroke-width="1.2" />
<line x1="93.80" y1="392.20" x2="93.80" y2="507.30" stroke="#333" stroke-width="1.3" />
<line x1="66.80" y1="507.30" x2="66.80" y2="512.80" stroke="#000" stroke-width="1" />
<line x1="76.40" y1="507.30" x2="76.40" y2="510.30" stroke="#000" stroke-width="0.9" />
<line x1="82.02" y1="507.30" x2="82.02" y2="510.30" stroke="#000" stroke-width="0.9" />
<line x1="86.01" y1="507.30" x2="86.01" y2="510.30" stroke="#000" stroke-width="0.9" />
<line x1="89.10" y1="507.30" x2="89.10" y2="510.30" stroke="#000" stroke-width="0.9" />
<line x1="91.62" y1="507.30" x2="91.62" y2="510.30" stroke="#000" stroke-width="0.9" />
<line x1="93.76" y1="507.30" x2="93.76" y2="510.30" stroke="#000" stroke-width="0.9" />
<line x1="95.61" y1="507.30" x2="95.61" y2="510.30" stroke="#000" stroke-width="0.9" />
<line x1="97.24" y1="507.30" x2="97.24" y2="510.30" stroke="#000" stroke-width="0.9" />
<path d="M515 0V1237L197 1010V1180L530 1409H696V0Z" transform="translate(62.00,526.00) scale(0.00576,-0.00576)" fill="#000" stroke="#000" stroke-width="31.2"/><text class="tl" x="68.56" y="526.00" font-size="11.8">0</text><text class="tl" x="75.43" y="520.20" font-size="10.2">0</text>
<line x1="98.70" y1="507.30" x2="98.70" y2="512.80" stroke="#000" stroke-width="1" />
<line x1="108.30" y1="507.30" x2="108.30" y2="510.30" stroke="#000" stroke-width="0.9" />
<line x1="113.92" y1="507.30" x2="113.92" y2="510.30" stroke="#000" stroke-width="0.9" />
<line x1="117.91" y1="507.30" x2="117.91" y2="510.30" stroke="#000" stroke-width="0.9" />
<line x1="121.00" y1="507.30" x2="121.00" y2="510.30" stroke="#000" stroke-width="0.9" />
<line x1="123.52" y1="507.30" x2="123.52" y2="510.30" stroke="#000" stroke-width="0.9" />
<line x1="125.66" y1="507.30" x2="125.66" y2="510.30" stroke="#000" stroke-width="0.9" />
<line x1="127.51" y1="507.30" x2="127.51" y2="510.30" stroke="#000" stroke-width="0.9" />
<line x1="129.14" y1="507.30" x2="129.14" y2="510.30" stroke="#000" stroke-width="0.9" />
<path d="M515 0V1237L197 1010V1180L530 1409H696V0Z" transform="translate(94.30,526.00) scale(0.00576,-0.00576)" fill="#000" stroke="#000" stroke-width="31.2"/><text class="tl" x="100.86" y="526.00" font-size="11.8">0</text><path d="M515 0V1237L197 1010V1180L530 1409H696V0Z" transform="translate(107.73,520.20) scale(0.00498,-0.00498)" fill="#000" stroke="#000" stroke-width="36.1"/>
<line x1="130.60" y1="507.30" x2="130.60" y2="512.80" stroke="#000" stroke-width="1" />
<line x1="140.20" y1="507.30" x2="140.20" y2="510.30" stroke="#000" stroke-width="0.9" />
<line x1="145.82" y1="507.30" x2="145.82" y2="510.30" stroke="#000" stroke-width="0.9" />
<line x1="149.81" y1="507.30" x2="149.81" y2="510.30" stroke="#000" stroke-width="0.9" />
<line x1="152.90" y1="507.30" x2="152.90" y2="510.30" stroke="#000" stroke-width="0.9" />
<line x1="155.42" y1="507.30" x2="155.42" y2="510.30" stroke="#000" stroke-width="0.9" />
<line x1="157.56" y1="507.30" x2="157.56" y2="510.30" stroke="#000" stroke-width="0.9" />
<line x1="159.41" y1="507.30" x2="159.41" y2="510.30" stroke="#000" stroke-width="0.9" />
<line x1="161.04" y1="507.30" x2="161.04" y2="510.30" stroke="#000" stroke-width="0.9" />
<path d="M515 0V1237L197 1010V1180L530 1409H696V0Z" transform="translate(125.90,526.00) scale(0.00576,-0.00576)" fill="#000" stroke="#000" stroke-width="31.2"/><text class="tl" x="132.46" y="526.00" font-size="11.8">0</text><text class="tl" x="139.33" y="520.20" font-size="10.2">2</text>
<line x1="162.50" y1="507.30" x2="162.50" y2="512.80" stroke="#000" stroke-width="1" />
<line x1="172.10" y1="507.30" x2="172.10" y2="510.30" stroke="#000" stroke-width="0.9" />
<line x1="177.72" y1="507.30" x2="177.72" y2="510.30" stroke="#000" stroke-width="0.9" />
<line x1="181.71" y1="507.30" x2="181.71" y2="510.30" stroke="#000" stroke-width="0.9" />
<line x1="184.80" y1="507.30" x2="184.80" y2="510.30" stroke="#000" stroke-width="0.9" />
<line x1="187.32" y1="507.30" x2="187.32" y2="510.30" stroke="#000" stroke-width="0.9" />
<line x1="189.46" y1="507.30" x2="189.46" y2="510.30" stroke="#000" stroke-width="0.9" />
<line x1="191.31" y1="507.30" x2="191.31" y2="510.30" stroke="#000" stroke-width="0.9" />
<line x1="192.94" y1="507.30" x2="192.94" y2="510.30" stroke="#000" stroke-width="0.9" />
<path d="M515 0V1237L197 1010V1180L530 1409H696V0Z" transform="translate(154.80,526.00) scale(0.00576,-0.00576)" fill="#000" stroke="#000" stroke-width="31.2"/><text class="tl" x="161.36" y="526.00" font-size="11.8">0</text><text class="tl" x="168.23" y="520.20" font-size="10.2">3</text>
<line x1="194.40" y1="507.30" x2="194.40" y2="512.80" stroke="#000" stroke-width="1" />
<path d="M515 0V1237L197 1010V1180L530 1409H696V0Z" transform="translate(184.00,526.00) scale(0.00576,-0.00576)" fill="#000" stroke="#000" stroke-width="31.2"/><text class="tl" x="190.56" y="526.00" font-size="11.8">0</text><text class="tl" x="197.43" y="520.20" font-size="10.2">4</text>
<line x1="63.30" y1="506.20" x2="66.80" y2="506.20" stroke="#000" stroke-width="1" />
<line x1="64.30" y1="497.76" x2="66.80" y2="497.76" stroke="#000" stroke-width="0.9" />
<line x1="64.30" y1="492.82" x2="66.80" y2="492.82" stroke="#000" stroke-width="0.9" />
<line x1="64.30" y1="489.31" x2="66.80" y2="489.31" stroke="#000" stroke-width="0.9" />
<line x1="64.30" y1="486.59" x2="66.80" y2="486.59" stroke="#000" stroke-width="0.9" />
<line x1="64.30" y1="484.37" x2="66.80" y2="484.37" stroke="#000" stroke-width="0.9" />
<line x1="64.30" y1="482.49" x2="66.80" y2="482.49" stroke="#000" stroke-width="0.9" />
<line x1="64.30" y1="480.87" x2="66.80" y2="480.87" stroke="#000" stroke-width="0.9" />
<line x1="64.30" y1="479.43" x2="66.80" y2="479.43" stroke="#000" stroke-width="0.9" />
<g transform="translate(54.00,504.50) rotate(-90)"><path d="M515 0V1237L197 1010V1180L530 1409H696V0Z" transform="translate(-5.95,0.00) scale(0.00522,-0.00522)" fill="#000" stroke="#000" stroke-width="34.5"/><text class="tl" x="0.00" y="0.00" font-size="10.7">0</text><text class="tl" x="7.60" y="-5.60" font-size="10">0</text></g>
<line x1="63.30" y1="478.15" x2="66.80" y2="478.15" stroke="#000" stroke-width="1" />
<line x1="64.30" y1="469.71" x2="66.80" y2="469.71" stroke="#000" stroke-width="0.9" />
<line x1="64.30" y1="464.77" x2="66.80" y2="464.77" stroke="#000" stroke-width="0.9" />
<line x1="64.30" y1="461.26" x2="66.80" y2="461.26" stroke="#000" stroke-width="0.9" />
<line x1="64.30" y1="458.54" x2="66.80" y2="458.54" stroke="#000" stroke-width="0.9" />
<line x1="64.30" y1="456.32" x2="66.80" y2="456.32" stroke="#000" stroke-width="0.9" />
<line x1="64.30" y1="454.44" x2="66.80" y2="454.44" stroke="#000" stroke-width="0.9" />
<line x1="64.30" y1="452.82" x2="66.80" y2="452.82" stroke="#000" stroke-width="0.9" />
<line x1="64.30" y1="451.38" x2="66.80" y2="451.38" stroke="#000" stroke-width="0.9" />
<g transform="translate(53.20,475.00) rotate(-90)"><path d="M515 0V1237L197 1010V1180L530 1409H696V0Z" transform="translate(-5.95,0.00) scale(0.00522,-0.00522)" fill="#000" stroke="#000" stroke-width="34.5"/><text class="tl" x="0.00" y="0.00" font-size="10.7">0</text><path d="M515 0V1237L197 1010V1180L530 1409H696V0Z" transform="translate(7.60,-5.60) scale(0.00488,-0.00488)" fill="#000" stroke="#000" stroke-width="36.9"/></g>
<line x1="63.30" y1="450.10" x2="66.80" y2="450.10" stroke="#000" stroke-width="1" />
<line x1="64.30" y1="441.66" x2="66.80" y2="441.66" stroke="#000" stroke-width="0.9" />
<line x1="64.30" y1="436.72" x2="66.80" y2="436.72" stroke="#000" stroke-width="0.9" />
<line x1="64.30" y1="433.21" x2="66.80" y2="433.21" stroke="#000" stroke-width="0.9" />
<line x1="64.30" y1="430.49" x2="66.80" y2="430.49" stroke="#000" stroke-width="0.9" />
<line x1="64.30" y1="428.27" x2="66.80" y2="428.27" stroke="#000" stroke-width="0.9" />
<line x1="64.30" y1="426.39" x2="66.80" y2="426.39" stroke="#000" stroke-width="0.9" />
<line x1="64.30" y1="424.77" x2="66.80" y2="424.77" stroke="#000" stroke-width="0.9" />
<line x1="64.30" y1="423.33" x2="66.80" y2="423.33" stroke="#000" stroke-width="0.9" />
<g transform="translate(53.90,451.50) rotate(-90)"><path d="M515 0V1237L197 1010V1180L530 1409H696V0Z" transform="translate(-5.95,0.00) scale(0.00522,-0.00522)" fill="#000" stroke="#000" stroke-width="34.5"/><text class="tl" x="0.00" y="0.00" font-size="10.7">0</text><text class="tl" x="7.60" y="-5.60" font-size="10">2</text></g>
<line x1="63.30" y1="422.05" x2="66.80" y2="422.05" stroke="#000" stroke-width="1" />
<line x1="64.30" y1="413.61" x2="66.80" y2="413.61" stroke="#000" stroke-width="0.9" />
<line x1="64.30" y1="408.67" x2="66.80" y2="408.67" stroke="#000" stroke-width="0.9" />
<line x1="64.30" y1="405.16" x2="66.80" y2="405.16" stroke="#000" stroke-width="0.9" />
<line x1="64.30" y1="402.44" x2="66.80" y2="402.44" stroke="#000" stroke-width="0.9" />
<line x1="64.30" y1="400.22" x2="66.80" y2="400.22" stroke="#000" stroke-width="0.9" />
<line x1="64.30" y1="398.34" x2="66.80" y2="398.34" stroke="#000" stroke-width="0.9" />
<line x1="64.30" y1="396.72" x2="66.80" y2="396.72" stroke="#000" stroke-width="0.9" />
<line x1="64.30" y1="395.28" x2="66.80" y2="395.28" stroke="#000" stroke-width="0.9" />
<g transform="translate(54.60,420.00) rotate(-90)"><path d="M515 0V1237L197 1010V1180L530 1409H696V0Z" transform="translate(-5.95,0.00) scale(0.00522,-0.00522)" fill="#000" stroke="#000" stroke-width="34.5"/><text class="tl" x="0.00" y="0.00" font-size="10.7">0</text><text class="tl" x="7.60" y="-5.60" font-size="10">3</text></g>
<line x1="63.30" y1="394.00" x2="66.80" y2="394.00" stroke="#000" stroke-width="1" />
<g transform="translate(56.30,396.00) rotate(-90)"><path d="M515 0V1237L197 1010V1180L530 1409H696V0Z" transform="translate(-5.95,0.00) scale(0.00522,-0.00522)" fill="#000" stroke="#000" stroke-width="34.5"/><text class="tl" x="0.00" y="0.00" font-size="10.7">0</text><text class="tl" x="7.60" y="-5.60" font-size="10">4</text></g>
<line x1="236.90" y1="391.20" x2="366.70" y2="391.20" stroke="#000" stroke-width="1.3" />
<line x1="237.50" y1="391.20" x2="237.50" y2="506.30" stroke="#000" stroke-width="1.2" />
<line x1="237.50" y1="506.30" x2="366.20" y2="506.30" stroke="#000" stroke-width="1.2" />
<line x1="366.20" y1="391.20" x2="366.20" y2="506.30" stroke="#777" stroke-width="1.1" />
<line x1="237.50" y1="441.30" x2="366.20" y2="441.30" stroke="#333" stroke-width="1.2" />
<line x1="264.40" y1="391.20" x2="264.40" y2="506.30" stroke="#333" stroke-width="1.3" />
<line x1="238.50" y1="506.30" x2="238.50" y2="511.80" stroke="#000" stroke-width="1" />
<line x1="248.01" y1="506.30" x2="248.01" y2="509.30" stroke="#000" stroke-width="0.9" />
<line x1="253.58" y1="506.30" x2="253.58" y2="509.30" stroke="#000" stroke-width="0.9" />
<line x1="257.53" y1="506.30" x2="257.53" y2="509.30" stroke="#000" stroke-width="0.9" />
<line x1="260.59" y1="506.30" x2="260.59" y2="509.30" stroke="#000" stroke-width="0.9" />
<line x1="263.09" y1="506.30" x2="263.09" y2="509.30" stroke="#000" stroke-width="0.9" />
<line x1="265.21" y1="506.30" x2="265.21" y2="509.30" stroke="#000" stroke-width="0.9" />
<line x1="267.04" y1="506.30" x2="267.04" y2="509.30" stroke="#000" stroke-width="0.9" />
<line x1="268.65" y1="506.30" x2="268.65" y2="509.30" stroke="#000" stroke-width="0.9" />
<path d="M515 0V1237L197 1010V1180L530 1409H696V0Z" transform="translate(232.50,526.10) scale(0.00576,-0.00576)" fill="#000" stroke="#000" stroke-width="31.2"/><text class="tl" x="239.06" y="526.10" font-size="11.8">0</text><text class="tl" x="245.93" y="520.30" font-size="10.2">0</text>
<line x1="270.10" y1="506.30" x2="270.10" y2="511.80" stroke="#000" stroke-width="1" />
<line x1="279.61" y1="506.30" x2="279.61" y2="509.30" stroke="#000" stroke-width="0.9" />
<line x1="285.18" y1="506.30" x2="285.18" y2="509.30" stroke="#000" stroke-width="0.9" />
<line x1="289.13" y1="506.30" x2="289.13" y2="509.30" stroke="#000" stroke-width="0.9" />
<line x1="292.19" y1="506.30" x2="292.19" y2="509.30" stroke="#000" stroke-width="0.9" />
<line x1="294.69" y1="506.30" x2="294.69" y2="509.30" stroke="#000" stroke-width="0.9" />
<line x1="296.81" y1="506.30" x2="296.81" y2="509.30" stroke="#000" stroke-width="0.9" />
<line x1="298.64" y1="506.30" x2="298.64" y2="509.30" stroke="#000" stroke-width="0.9" />
<line x1="300.25" y1="506.30" x2="300.25" y2="509.30" stroke="#000" stroke-width="0.9" />
<path d="M515 0V1237L197 1010V1180L530 1409H696V0Z" transform="translate(264.80,526.10) scale(0.00576,-0.00576)" fill="#000" stroke="#000" stroke-width="31.2"/><text class="tl" x="271.36" y="526.10" font-size="11.8">0</text><path d="M515 0V1237L197 1010V1180L530 1409H696V0Z" transform="translate(278.23,520.30) scale(0.00498,-0.00498)" fill="#000" stroke="#000" stroke-width="36.1"/>
<line x1="301.70" y1="506.30" x2="301.70" y2="511.80" stroke="#000" stroke-width="1" />
<line x1="311.21" y1="506.30" x2="311.21" y2="509.30" stroke="#000" stroke-width="0.9" />
<line x1="316.78" y1="506.30" x2="316.78" y2="509.30" stroke="#000" stroke-width="0.9" />
<line x1="320.73" y1="506.30" x2="320.73" y2="509.30" stroke="#000" stroke-width="0.9" />
<line x1="323.79" y1="506.30" x2="323.79" y2="509.30" stroke="#000" stroke-width="0.9" />
<line x1="326.29" y1="506.30" x2="326.29" y2="509.30" stroke="#000" stroke-width="0.9" />
<line x1="328.41" y1="506.30" x2="328.41" y2="509.30" stroke="#000" stroke-width="0.9" />
<line x1="330.24" y1="506.30" x2="330.24" y2="509.30" stroke="#000" stroke-width="0.9" />
<line x1="331.85" y1="506.30" x2="331.85" y2="509.30" stroke="#000" stroke-width="0.9" />
<path d="M515 0V1237L197 1010V1180L530 1409H696V0Z" transform="translate(295.60,526.10) scale(0.00576,-0.00576)" fill="#000" stroke="#000" stroke-width="31.2"/><text class="tl" x="302.16" y="526.10" font-size="11.8">0</text><text class="tl" x="309.03" y="520.30" font-size="10.2">2</text>
<line x1="333.30" y1="506.30" x2="333.30" y2="511.80" stroke="#000" stroke-width="1" />
<line x1="342.81" y1="506.30" x2="342.81" y2="509.30" stroke="#000" stroke-width="0.9" />
<line x1="348.38" y1="506.30" x2="348.38" y2="509.30" stroke="#000" stroke-width="0.9" />
<line x1="352.33" y1="506.30" x2="352.33" y2="509.30" stroke="#000" stroke-width="0.9" />
<line x1="355.39" y1="506.30" x2="355.39" y2="509.30" stroke="#000" stroke-width="0.9" />
<line x1="357.89" y1="506.30" x2="357.89" y2="509.30" stroke="#000" stroke-width="0.9" />
<line x1="360.01" y1="506.30" x2="360.01" y2="509.30" stroke="#000" stroke-width="0.9" />
<line x1="361.84" y1="506.30" x2="361.84" y2="509.30" stroke="#000" stroke-width="0.9" />
<line x1="363.45" y1="506.30" x2="363.45" y2="509.30" stroke="#000" stroke-width="0.9" />
<path d="M515 0V1237L197 1010V1180L530 1409H696V0Z" transform="translate(326.30,526.10) scale(0.00576,-0.00576)" fill="#000" stroke="#000" stroke-width="31.2"/><text class="tl" x="332.86" y="526.10" font-size="11.8">0</text><text class="tl" x="339.73" y="520.30" font-size="10.2">3</text>
<line x1="364.90" y1="506.30" x2="364.90" y2="511.80" stroke="#000" stroke-width="1" />
<path d="M515 0V1237L197 1010V1180L530 1409H696V0Z" transform="translate(357.10,526.10) scale(0.00576,-0.00576)" fill="#000" stroke="#000" stroke-width="31.2"/><text class="tl" x="363.66" y="526.10" font-size="11.8">0</text><text class="tl" x="370.53" y="520.30" font-size="10.2">4</text>
<line x1="234.00" y1="505.20" x2="237.50" y2="505.20" stroke="#000" stroke-width="1" />
<line x1="235.00" y1="496.65" x2="237.50" y2="496.65" stroke="#000" stroke-width="0.9" />
<line x1="235.00" y1="491.65" x2="237.50" y2="491.65" stroke="#000" stroke-width="0.9" />
<line x1="235.00" y1="488.10" x2="237.50" y2="488.10" stroke="#000" stroke-width="0.9" />
<line x1="235.00" y1="485.35" x2="237.50" y2="485.35" stroke="#000" stroke-width="0.9" />
<line x1="235.00" y1="483.10" x2="237.50" y2="483.10" stroke="#000" stroke-width="0.9" />
<line x1="235.00" y1="481.20" x2="237.50" y2="481.20" stroke="#000" stroke-width="0.9" />
<line x1="235.00" y1="479.55" x2="237.50" y2="479.55" stroke="#000" stroke-width="0.9" />
<line x1="235.00" y1="478.10" x2="237.50" y2="478.10" stroke="#000" stroke-width="0.9" />
<g transform="translate(225.70,502.00) rotate(-90)"><path d="M515 0V1237L197 1010V1180L530 1409H696V0Z" transform="translate(-5.95,0.00) scale(0.00522,-0.00522)" fill="#000" stroke="#000" stroke-width="34.5"/><text class="tl" x="0.00" y="0.00" font-size="10.7">0</text><text class="tl" x="7.60" y="-5.60" font-size="10">0</text></g>
<line x1="234.00" y1="476.80" x2="237.50" y2="476.80" stroke="#000" stroke-width="1" />
<line x1="235.00" y1="468.25" x2="237.50" y2="468.25" stroke="#000" stroke-width="0.9" />
<line x1="235.00" y1="463.25" x2="237.50" y2="463.25" stroke="#000" stroke-width="0.9" />
<line x1="235.00" y1="459.70" x2="237.50" y2="459.70" stroke="#000" stroke-width="0.9" />
<line x1="235.00" y1="456.95" x2="237.50" y2="456.95" stroke="#000" stroke-width="0.9" />
<line x1="235.00" y1="454.70" x2="237.50" y2="454.70" stroke="#000" stroke-width="0.9" />
<line x1="235.00" y1="452.80" x2="237.50" y2="452.80" stroke="#000" stroke-width="0.9" />
<line x1="235.00" y1="451.15" x2="237.50" y2="451.15" stroke="#000" stroke-width="0.9" />
<line x1="235.00" y1="449.70" x2="237.50" y2="449.70" stroke="#000" stroke-width="0.9" />
<g transform="translate(225.70,474.50) rotate(-90)"><path d="M515 0V1237L197 1010V1180L530 1409H696V0Z" transform="translate(-5.95,0.00) scale(0.00522,-0.00522)" fill="#000" stroke="#000" stroke-width="34.5"/><text class="tl" x="0.00" y="0.00" font-size="10.7">0</text><path d="M515 0V1237L197 1010V1180L530 1409H696V0Z" transform="translate(7.60,-5.60) scale(0.00488,-0.00488)" fill="#000" stroke="#000" stroke-width="36.9"/></g>
<line x1="234.00" y1="448.40" x2="237.50" y2="448.40" stroke="#000" stroke-width="1" />
<line x1="235.00" y1="439.85" x2="237.50" y2="439.85" stroke="#000" stroke-width="0.9" />
<line x1="235.00" y1="434.85" x2="237.50" y2="434.85" stroke="#000" stroke-width="0.9" />
<line x1="235.00" y1="431.30" x2="237.50" y2="431.30" stroke="#000" stroke-width="0.9" />
<line x1="235.00" y1="428.55" x2="237.50" y2="428.55" stroke="#000" stroke-width="0.9" />
<line x1="235.00" y1="426.30" x2="237.50" y2="426.30" stroke="#000" stroke-width="0.9" />
<line x1="235.00" y1="424.40" x2="237.50" y2="424.40" stroke="#000" stroke-width="0.9" />
<line x1="235.00" y1="422.75" x2="237.50" y2="422.75" stroke="#000" stroke-width="0.9" />
<line x1="235.00" y1="421.30" x2="237.50" y2="421.30" stroke="#000" stroke-width="0.9" />
<g transform="translate(226.20,447.90) rotate(-90)"><path d="M515 0V1237L197 1010V1180L530 1409H696V0Z" transform="translate(-5.95,0.00) scale(0.00522,-0.00522)" fill="#000" stroke="#000" stroke-width="34.5"/><text class="tl" x="0.00" y="0.00" font-size="10.7">0</text><text class="tl" x="7.60" y="-5.60" font-size="10">2</text></g>
<line x1="234.00" y1="420.00" x2="237.50" y2="420.00" stroke="#000" stroke-width="1" />
<line x1="235.00" y1="411.45" x2="237.50" y2="411.45" stroke="#000" stroke-width="0.9" />
<line x1="235.00" y1="406.45" x2="237.50" y2="406.45" stroke="#000" stroke-width="0.9" />
<line x1="235.00" y1="402.90" x2="237.50" y2="402.90" stroke="#000" stroke-width="0.9" />
<line x1="235.00" y1="400.15" x2="237.50" y2="400.15" stroke="#000" stroke-width="0.9" />
<line x1="235.00" y1="397.90" x2="237.50" y2="397.90" stroke="#000" stroke-width="0.9" />
<line x1="235.00" y1="396.00" x2="237.50" y2="396.00" stroke="#000" stroke-width="0.9" />
<line x1="235.00" y1="394.35" x2="237.50" y2="394.35" stroke="#000" stroke-width="0.9" />
<line x1="235.00" y1="392.90" x2="237.50" y2="392.90" stroke="#000" stroke-width="0.9" />
<g transform="translate(227.00,420.20) rotate(-90)"><path d="M515 0V1237L197 1010V1180L530 1409H696V0Z" transform="translate(-5.95,0.00) scale(0.00522,-0.00522)" fill="#000" stroke="#000" stroke-width="34.5"/><text class="tl" x="0.00" y="0.00" font-size="10.7">0</text><text class="tl" x="7.60" y="-5.60" font-size="10">3</text></g>
<line x1="234.00" y1="391.60" x2="237.50" y2="391.60" stroke="#000" stroke-width="1" />
<g transform="translate(229.10,396.80) rotate(-90)"><path d="M515 0V1237L197 1010V1180L530 1409H696V0Z" transform="translate(-5.95,0.00) scale(0.00522,-0.00522)" fill="#000" stroke="#000" stroke-width="34.5"/><text class="tl" x="0.00" y="0.00" font-size="10.7">0</text><text class="tl" x="7.60" y="-5.60" font-size="10">4</text></g>
<polygon points="98,420 99.5,416 104,414 110,413 116,412.5 122,412.5 127,413 129.5,415 130.5,417.5 130.5,420.5 128.5,422.5 122,424 116,425 110,426 104,426.5 99.5,426.5 98,424" fill="#111"/>
<rect x="121.3" y="423.5" width="1.4" height="1.4" fill="#000"/>
<rect x="113.2" y="412.8" width="1.4" height="1.4" fill="#000"/>
<rect x="98.2" y="415.7" width="1.4" height="1.4" fill="#000"/>
<rect x="105.6" y="423.9" width="1.4" height="1.4" fill="#000"/>
<rect x="98.1" y="416.6" width="1.4" height="1.4" fill="#000"/>
<rect x="102.4" y="415.3" width="1.4" height="1.4" fill="#000"/>
<rect x="110.6" y="411.2" width="1.4" height="1.4" fill="#000"/>
<rect x="111.9" y="410.9" width="1.4" height="1.4" fill="#000"/>
<rect x="105.4" y="411.5" width="1.4" height="1.4" fill="#000"/>
<rect x="101.3" y="426.4" width="1.4" height="1.4" fill="#000"/>
<rect x="120.1" y="421.4" width="1.4" height="1.4" fill="#000"/>
<rect x="128.3" y="416.2" width="1.4" height="1.4" fill="#000"/>
<rect x="122.1" y="427.0" width="1.4" height="1.4" fill="#000"/>
<rect x="113.1" y="413.2" width="1.4" height="1.4" fill="#000"/>
<rect x="98.8" y="424.6" width="1.4" height="1.4" fill="#000"/>
<rect x="124.6" y="423.7" width="1.4" height="1.4" fill="#000"/>
<rect x="104.0" y="426.5" width="1.4" height="1.4" fill="#000"/>
<rect x="103.0" y="411.2" width="1.4" height="1.4" fill="#000"/>
<rect x="100.3" y="427.3" width="1.4" height="1.4" fill="#000"/>
<rect x="97.4" y="417.2" width="1.4" height="1.4" fill="#000"/>
<rect x="98.8" y="424.9" width="1.4" height="1.4" fill="#000"/>
<rect x="130.7" y="414.4" width="1.4" height="1.4" fill="#000"/>
<rect x="120.6" y="411.1" width="1.4" height="1.4" fill="#000"/>
<rect x="103.8" y="427.3" width="1.4" height="1.4" fill="#000"/>
<rect x="116.4" y="424.7" width="1.4" height="1.4" fill="#000"/>
<rect x="104.5" y="414.2" width="1.4" height="1.4" fill="#000"/>
<rect x="98.1" y="424.8" width="1.4" height="1.4" fill="#000"/>
<rect x="116.5" y="413.2" width="1.4" height="1.4" fill="#000"/>
<rect x="117.4" y="411.6" width="1.4" height="1.4" fill="#000"/>
<rect x="103.4" y="411.7" width="1.4" height="1.4" fill="#000"/>
<rect x="111.6" y="425.8" width="1.4" height="1.4" fill="#000"/>
<rect x="115.9" y="424.8" width="1.4" height="1.4" fill="#000"/>
<rect x="121.3" y="411.4" width="1.4" height="1.4" fill="#000"/>
<rect x="120.5" y="411.1" width="1.4" height="1.4" fill="#000"/>
<rect x="107.9" y="411.9" width="1.4" height="1.4" fill="#000"/>
<rect x="128.4" y="418.6" width="1.4" height="1.4" fill="#000"/>
<rect x="116.1" y="411.8" width="1.4" height="1.4" fill="#000"/>
<rect x="99.9" y="427.0" width="1.4" height="1.4" fill="#000"/>
<rect x="129.2" y="416.5" width="1.4" height="1.4" fill="#000"/>
<rect x="127.8" y="414.1" width="1.4" height="1.4" fill="#000"/>
<rect x="97.8" y="418.3" width="1.4" height="1.4" fill="#000"/>
<rect x="107.4" y="414.0" width="1.4" height="1.4" fill="#000"/>
<rect x="123.4" y="413.8" width="1.4" height="1.4" fill="#000"/>
<rect x="97.8" y="424.7" width="1.4" height="1.4" fill="#000"/>
<rect x="129.3" y="411.7" width="1.4" height="1.4" fill="#000"/>
<rect x="126.6" y="414.9" width="1.4" height="1.4" fill="#000"/>
<rect x="97.5" y="416.3" width="1.4" height="1.4" fill="#000"/>
<rect x="122.7" y="422.0" width="1.4" height="1.4" fill="#000"/>
<rect x="122.2" y="424.4" width="1.4" height="1.4" fill="#000"/>
<rect x="124.2" y="419.8" width="1.4" height="1.4" fill="#000"/>
<rect x="96.5" y="415.2" width="1.4" height="1.4" fill="#000"/>
<rect x="109.4" y="413.5" width="1.4" height="1.4" fill="#000"/>
<rect x="128.6" y="415.6" width="1.4" height="1.4" fill="#000"/>
<rect x="129.5" y="421.1" width="1.4" height="1.4" fill="#000"/>
<rect x="103.8" y="425.0" width="1.4" height="1.4" fill="#000"/>
<rect x="128.2" y="412.6" width="1.4" height="1.4" fill="#000"/>
<rect x="101.4" y="428.0" width="1.4" height="1.4" fill="#000"/>
<rect x="96.7" y="425.7" width="1.4" height="1.4" fill="#000"/>
<rect x="116.2" y="409.5" width="1.4" height="1.4" fill="#000"/>
<rect x="113.9" y="411.4" width="1.4" height="1.4" fill="#000"/>
<rect x="128.6" y="415.1" width="1.4" height="1.4" fill="#000"/>
<rect x="128.9" y="419.5" width="1.4" height="1.4" fill="#000"/>
<rect x="106.6" y="426.6" width="1.4" height="1.4" fill="#000"/>
<rect x="101.0" y="424.1" width="1.4" height="1.4" fill="#000"/>
<rect x="98.3" y="424.2" width="1.4" height="1.4" fill="#000"/>
<rect x="97.8" y="424.2" width="1.4" height="1.4" fill="#000"/>
<rect x="114.0" y="412.2" width="1.4" height="1.4" fill="#000"/>
<rect x="98.4" y="414.4" width="1.4" height="1.4" fill="#000"/>
<rect x="115.5" y="412.2" width="1.4" height="1.4" fill="#000"/>
<rect x="100.4" y="413.7" width="1.4" height="1.4" fill="#000"/>
<rect x="104.6" y="411.7" width="1.4" height="1.4" fill="#000"/>
<rect x="97.0" y="424.3" width="1.4" height="1.4" fill="#000"/>
<rect x="98.1" y="426.4" width="1.4" height="1.4" fill="#000"/>
<rect x="130.6" y="418.9" width="1.4" height="1.4" fill="#000"/>
<rect x="103.9" y="426.9" width="1.4" height="1.4" fill="#000"/>
<rect x="106.4" y="413.1" width="1.4" height="1.4" fill="#000"/>
<rect x="128.9" y="420.8" width="1.4" height="1.4" fill="#000"/>
<rect x="123.4" y="420.8" width="1.4" height="1.4" fill="#000"/>
<rect x="132.1" y="417.9" width="1.4" height="1.4" fill="#000"/>
<rect x="126.7" y="411.5" width="1.4" height="1.4" fill="#000"/>
<rect x="102.0" y="426.7" width="1.4" height="1.4" fill="#000"/>
<rect x="119.3" y="423.3" width="1.4" height="1.4" fill="#000"/>
<rect x="102.7" y="426.0" width="1.4" height="1.4" fill="#000"/>
<rect x="132.8" y="422.5" width="1.4" height="1.4" fill="#000"/>
<rect x="130.7" y="417.5" width="1.4" height="1.4" fill="#000"/>
<rect x="103.9" y="415.8" width="1.4" height="1.4" fill="#000"/>
<rect x="102.6" y="422.5" width="1.4" height="1.4" fill="#000"/>
<rect x="116.1" y="423.5" width="1.4" height="1.4" fill="#000"/>
<rect x="129.4" y="422.7" width="1.4" height="1.4" fill="#000"/>
<rect x="103.9" y="426.0" width="1.4" height="1.4" fill="#000"/>
<rect x="110.7" y="414.0" width="1.4" height="1.4" fill="#000"/>
<rect x="105.1" y="413.2" width="1.4" height="1.4" fill="#000"/>
<rect x="103.7" y="426.5" width="1.4" height="1.4" fill="#000"/>
<rect x="101.0" y="419.0" width="1.4" height="1.4" fill="#000"/>
<rect x="130.2" y="418.2" width="1.4" height="1.4" fill="#000"/>
<rect x="129.2" y="422.4" width="1.4" height="1.4" fill="#000"/>
<rect x="124.3" y="407.4" width="1.4" height="1.4" fill="#000"/>
<rect x="98.7" y="413.4" width="1.4" height="1.4" fill="#000"/>
<rect x="127.6" y="415.0" width="1.4" height="1.4" fill="#000"/>
<rect x="102.3" y="424.7" width="1.4" height="1.4" fill="#000"/>
<rect x="97.5" y="423.1" width="1.4" height="1.4" fill="#000"/>
<rect x="127.8" y="411.9" width="1.4" height="1.4" fill="#000"/>
<rect x="112.2" y="425.0" width="1.4" height="1.4" fill="#000"/>
<rect x="97.3" y="417.9" width="1.4" height="1.4" fill="#000"/>
<rect x="120.8" y="410.6" width="1.4" height="1.4" fill="#000"/>
<rect x="97.1" y="421.7" width="1.4" height="1.4" fill="#000"/>
<rect x="130.2" y="421.0" width="1.4" height="1.4" fill="#000"/>
<rect x="101.6" y="417.3" width="1.4" height="1.4" fill="#000"/>
<rect x="127.5" y="421.9" width="1.4" height="1.4" fill="#000"/>
<rect x="119.9" y="424.0" width="1.4" height="1.4" fill="#000"/>
<rect x="130.3" y="420.0" width="1.4" height="1.4" fill="#000"/>
<rect x="97.8" y="418.2" width="1.4" height="1.4" fill="#000"/>
<rect x="99.9" y="416.5" width="1.4" height="1.4" fill="#000"/>
<rect x="104.4" y="412.3" width="1.4" height="1.4" fill="#000"/>
<rect x="110.4" y="423.3" width="1.4" height="1.4" fill="#000"/>
<rect x="128.1" y="420.9" width="1.4" height="1.4" fill="#000"/>
<rect x="97.0" y="418.1" width="1.4" height="1.4" fill="#000"/>
<rect x="120.8" y="409.9" width="1.4" height="1.4" fill="#000"/>
<rect x="95.8" y="414.4" width="1.4" height="1.4" fill="#000"/>
<rect x="130.9" y="415.1" width="1.4" height="1.4" fill="#000"/>
<rect x="111.1" y="412.3" width="1.4" height="1.4" fill="#000"/>
<rect x="97.5" y="415.2" width="1.4" height="1.4" fill="#000"/>
<rect x="101.1" y="419.0" width="1.4" height="1.4" fill="#000"/>
<rect x="109.5" y="413.6" width="1.4" height="1.4" fill="#000"/>
<rect x="130.4" y="418.3" width="1.4" height="1.4" fill="#000"/>
<rect x="125.9" y="411.4" width="1.4" height="1.4" fill="#000"/>
<rect x="115.9" y="423.7" width="1.4" height="1.4" fill="#000"/>
<rect x="101.2" y="413.6" width="1.4" height="1.4" fill="#000"/>
<rect x="116.0" y="409.9" width="1.4" height="1.4" fill="#000"/>
<rect x="116.5" y="412.2" width="1.4" height="1.4" fill="#000"/>
<rect x="112.9" y="410.8" width="1.4" height="1.4" fill="#000"/>
<rect x="94.8" y="422.7" width="1.4" height="1.4" fill="#000"/>
<rect x="128.5" y="413.8" width="1.4" height="1.4" fill="#000"/>
<rect x="130.6" y="417.2" width="1.4" height="1.4" fill="#000"/>
<rect x="96.3" y="428.0" width="1.4" height="1.4" fill="#000"/>
<rect x="128.6" y="413.8" width="1.4" height="1.4" fill="#000"/>
<rect x="131.7" y="421.7" width="1.4" height="1.4" fill="#000"/>
<rect x="98.4" y="423.1" width="1.4" height="1.4" fill="#000"/>
<rect x="97.1" y="423.6" width="1.4" height="1.4" fill="#000"/>
<rect x="98.1" y="414.1" width="1.4" height="1.4" fill="#000"/>
<rect x="117.3" y="412.3" width="1.4" height="1.4" fill="#000"/>
<rect x="127.8" y="418.9" width="1.4" height="1.4" fill="#000"/>
<rect x="115.0" y="412.0" width="1.4" height="1.4" fill="#000"/>
<rect x="130.7" y="420.9" width="1.4" height="1.4" fill="#000"/>
<rect x="104.4" y="413.5" width="1.4" height="1.4" fill="#000"/>
<rect x="102.2" y="415.4" width="1.4" height="1.4" fill="#000"/>
<rect x="116.6" y="413.6" width="1.4" height="1.4" fill="#000"/>
<rect x="128.6" y="412.3" width="1.4" height="1.4" fill="#000"/>
<rect x="96.3" y="413.6" width="1.4" height="1.4" fill="#000"/>
<rect x="130.4" y="414.5" width="1.4" height="1.4" fill="#000"/>
<rect x="102.5" y="428.1" width="1.4" height="1.4" fill="#000"/>
<rect x="99.4" y="425.3" width="1.4" height="1.4" fill="#000"/>
<rect x="97.9" y="425.9" width="1.4" height="1.4" fill="#000"/>
<rect x="129.9" y="419.7" width="1.4" height="1.4" fill="#000"/>
<rect x="114.2" y="424.0" width="1.4" height="1.4" fill="#000"/>
<rect x="96.2" y="419.7" width="1.4" height="1.4" fill="#000"/>
<rect x="120.5" y="423.5" width="1.4" height="1.4" fill="#000"/>
<rect x="127.8" y="414.5" width="1.4" height="1.4" fill="#000"/>
<rect x="126.1" y="424.1" width="1.4" height="1.4" fill="#000"/>
<rect x="97.1" y="417.1" width="1.4" height="1.4" fill="#000"/>
<rect x="97.0" y="424.9" width="1.4" height="1.4" fill="#000"/>
<rect x="99.1" y="424.9" width="1.4" height="1.4" fill="#000"/>
<rect x="98.0" y="418.4" width="1.4" height="1.4" fill="#000"/>
<rect x="104.9" y="414.5" width="1.4" height="1.4" fill="#000"/>
<rect x="100.3" y="428.3" width="1.4" height="1.4" fill="#000"/>
<rect x="95.2" y="419.9" width="1.4" height="1.4" fill="#000"/>
<rect x="96.8" y="423.4" width="1.4" height="1.4" fill="#000"/>
<rect x="98.4" y="419.7" width="1.4" height="1.4" fill="#000"/>
<rect x="113.0" y="415.5" width="1.4" height="1.4" fill="#000"/>
<rect x="114.6" y="409.7" width="1.4" height="1.4" fill="#000"/>
<rect x="102.9" y="425.7" width="1.4" height="1.4" fill="#000"/>
<rect x="118.6" y="410.8" width="1.4" height="1.4" fill="#000"/>
<rect x="126.6" y="420.4" width="1.4" height="1.4" fill="#000"/>
<rect x="105.5" y="426.0" width="1.4" height="1.4" fill="#000"/>
<rect x="97.7" y="420.6" width="1.4" height="1.4" fill="#000"/>
<rect x="96.8" y="420.8" width="1.4" height="1.4" fill="#000"/>
<rect x="124.9" y="421.6" width="1.4" height="1.4" fill="#000"/>
<rect x="130.9" y="416.0" width="1.4" height="1.4" fill="#000"/>
<rect x="130.8" y="422.8" width="1.4" height="1.4" fill="#000"/>
<rect x="109.0" y="426.9" width="1.4" height="1.4" fill="#000"/>
<rect x="121.3" y="423.8" width="1.4" height="1.4" fill="#000"/>
<rect x="107.0" y="425.6" width="1.4" height="1.4" fill="#000"/>
<rect x="127.3" y="421.2" width="1.4" height="1.4" fill="#000"/>
<rect x="127.5" y="411.9" width="1.4" height="1.4" fill="#000"/>
<rect x="129.6" y="414.5" width="1.4" height="1.4" fill="#000"/>
<rect x="99.3" y="423.2" width="1.4" height="1.4" fill="#000"/>
<rect x="104.0" y="414.6" width="1.4" height="1.4" fill="#000"/>
<rect x="125.1" y="411.5" width="1.4" height="1.4" fill="#000"/>
<rect x="97.4" y="415.7" width="1.4" height="1.4" fill="#000"/>
<rect x="126.5" y="422.8" width="1.4" height="1.4" fill="#000"/>
<rect x="125.5" y="420.6" width="1.4" height="1.4" fill="#000"/>
<rect x="102.4" y="424.5" width="1.4" height="1.4" fill="#000"/>
<rect x="114.7" y="424.5" width="1.4" height="1.4" fill="#000"/>
<rect x="102.8" y="416.0" width="1.4" height="1.4" fill="#000"/>
<rect x="112.7" y="410.6" width="1.4" height="1.4" fill="#000"/>
<rect x="127.7" y="421.6" width="1.4" height="1.4" fill="#000"/>
<rect x="96.9" y="424.9" width="1.4" height="1.4" fill="#000"/>
<rect x="125.7" y="422.1" width="1.4" height="1.4" fill="#000"/>
<rect x="106.7" y="424.3" width="1.4" height="1.4" fill="#000"/>
<rect x="118.2" y="425.6" width="1.4" height="1.4" fill="#000"/>
<rect x="131.7" y="418.2" width="1.4" height="1.4" fill="#000"/>
<rect x="121.7" y="423.0" width="1.4" height="1.4" fill="#000"/>
<rect x="128.5" y="415.9" width="1.4" height="1.4" fill="#000"/>
<rect x="129.9" y="416.5" width="1.4" height="1.4" fill="#000"/>
<rect x="103.6" y="415.0" width="1.4" height="1.4" fill="#000"/>
<rect x="98.1" y="426.5" width="1.4" height="1.4" fill="#000"/>
<rect x="105.6" y="427.0" width="1.4" height="1.4" fill="#000"/>
<rect x="98.3" y="413.3" width="1.4" height="1.4" fill="#000"/>
<rect x="118.3" y="413.0" width="1.4" height="1.4" fill="#000"/>
<rect x="115.1" y="423.1" width="1.4" height="1.4" fill="#000"/>
<rect x="110.8" y="425.6" width="1.4" height="1.4" fill="#000"/>
<rect x="100.1" y="414.1" width="1.4" height="1.4" fill="#000"/>
<rect x="105.2" y="425.7" width="1.4" height="1.4" fill="#000"/>
<rect x="100.6" y="415.2" width="1.4" height="1.4" fill="#000"/>
<rect x="103.6" y="427.0" width="1.4" height="1.4" fill="#000"/>
<rect x="130.8" y="414.4" width="1.4" height="1.4" fill="#000"/>
<rect x="113.6" y="413.1" width="1.4" height="1.4" fill="#000"/>
<rect x="129.7" y="416.9" width="1.4" height="1.4" fill="#000"/>
<rect x="129.1" y="416.0" width="1.4" height="1.4" fill="#000"/>
<rect x="123.4" y="415.8" width="1.4" height="1.4" fill="#000"/>
<rect x="96.5" y="420.1" width="1.4" height="1.4" fill="#000"/>
<rect x="101.6" y="427.8" width="1.4" height="1.4" fill="#000"/>
<rect x="130.4" y="416.0" width="1.4" height="1.4" fill="#000"/>
<rect x="133.2" y="421.5" width="1.4" height="1.4" fill="#000"/>
<rect x="124.4" y="418.5" width="1.4" height="1.4" fill="#000"/>
<rect x="101.3" y="421.4" width="1.4" height="1.4" fill="#000"/>
<rect x="94.0" y="416.5" width="1.4" height="1.4" fill="#000"/>
<rect x="125.9" y="413.1" width="1.4" height="1.4" fill="#000"/>
<rect x="129.1" y="410.3" width="1.4" height="1.4" fill="#000"/>
<rect x="96.1" y="417.6" width="1.4" height="1.4" fill="#000"/>
<rect x="133.1" y="420.6" width="1.4" height="1.4" fill="#000"/>
<rect x="101.1" y="427.4" width="1.4" height="1.4" fill="#000"/>
<rect x="120.6" y="412.8" width="1.4" height="1.4" fill="#000"/>
<rect x="129.3" y="420.5" width="1.4" height="1.4" fill="#000"/>
<rect x="97.6" y="413.5" width="1.4" height="1.4" fill="#000"/>
<rect x="109.8" y="419.9" width="1.4" height="1.4" fill="#000"/>
<rect x="121.4" y="417.1" width="1.4" height="1.4" fill="#000"/>
<rect x="99.0" y="428.3" width="1.4" height="1.4" fill="#000"/>
<rect x="108.4" y="428.8" width="1.4" height="1.4" fill="#000"/>
<rect x="111.3" y="410.4" width="1.4" height="1.4" fill="#000"/>
<rect x="112.7" y="422.4" width="1.4" height="1.4" fill="#000"/>
<rect x="96.3" y="424.1" width="1.4" height="1.4" fill="#000"/>
<rect x="128.6" y="414.5" width="1.4" height="1.4" fill="#000"/>
<rect x="127.5" y="412.1" width="1.4" height="1.4" fill="#000"/>
<rect x="95.0" y="422.3" width="1.4" height="1.4" fill="#000"/>
<rect x="76.8" y="418.8" width="1.6" height="1.6" fill="#000"/>
<rect x="80.6" y="421.1" width="1.6" height="1.6" fill="#000"/>
<rect x="81.4" y="422.6" width="1.6" height="1.6" fill="#000"/>
<rect x="79.1" y="423.4" width="1.6" height="1.6" fill="#000"/>
<rect x="82.2" y="426.5" width="1.6" height="1.6" fill="#000"/>
<rect x="85.2" y="429.5" width="1.6" height="1.6" fill="#000"/>
<rect x="86.0" y="423.4" width="1.6" height="1.6" fill="#000"/>
<rect x="89.1" y="421.8" width="1.6" height="1.6" fill="#000"/>
<rect x="90.6" y="424.2" width="1.6" height="1.6" fill="#000"/>
<rect x="90.6" y="434.2" width="1.6" height="1.6" fill="#000"/>
<rect x="92.2" y="420.3" width="1.6" height="1.6" fill="#000"/>
<rect x="130.6" y="400.3" width="1.6" height="1.6" fill="#000"/>
<rect x="136.8" y="409.5" width="1.6" height="1.6" fill="#000"/>
<rect x="141.1" y="411.1" width="1.6" height="1.6" fill="#000"/>
<rect x="136.0" y="418.8" width="1.6" height="1.6" fill="#000"/>
<rect x="138.3" y="418.8" width="1.6" height="1.6" fill="#000"/>
<rect x="139.8" y="423.4" width="1.6" height="1.6" fill="#000"/>
<rect x="132.2" y="421.1" width="1.6" height="1.6" fill="#000"/>
<rect x="95.2" y="438.8" width="1.6" height="1.6" fill="#000"/>
<rect x="100.6" y="434.2" width="1.6" height="1.6" fill="#000"/>
<rect x="102.9" y="435.7" width="1.6" height="1.6" fill="#000"/>
<rect x="107.5" y="431.1" width="1.6" height="1.6" fill="#000"/>
<rect x="116.8" y="434.2" width="1.6" height="1.6" fill="#000"/>
<rect x="122.9" y="438.8" width="1.6" height="1.6" fill="#000"/>
<rect x="119.8" y="431.1" width="1.6" height="1.6" fill="#000"/>
<rect x="124.5" y="430.3" width="1.6" height="1.6" fill="#000"/>
<rect x="126.8" y="443.4" width="1.6" height="1.6" fill="#000"/>
<rect x="113.7" y="408.8" width="1.6" height="1.6" fill="#000"/>
<rect x="116.8" y="408.0" width="1.6" height="1.6" fill="#000"/>
<rect x="119.8" y="408.8" width="1.6" height="1.6" fill="#000"/>
<rect x="96.3" y="394.3" width="1.6" height="1.6" fill="#000"/>
<rect x="99.2" y="394.3" width="1.6" height="1.6" fill="#000"/>
<rect x="108.5" y="394.3" width="1.6" height="1.6" fill="#000"/>
<rect x="110.8" y="394.3" width="1.6" height="1.6" fill="#000"/>
<rect x="117.7" y="394.3" width="1.6" height="1.6" fill="#000"/>
<rect x="128.1" y="394.3" width="1.6" height="1.6" fill="#000"/>
<rect x="136.2" y="394.3" width="1.6" height="1.6" fill="#000"/>
<rect x="101.7" y="459.6" width="1.5" height="1.5" fill="#000"/>
<rect x="104.8" y="463.5" width="1.5" height="1.5" fill="#000"/>
<rect x="105.5" y="464.2" width="1.5" height="1.5" fill="#000"/>
<rect x="100.6" y="467.3" width="1.5" height="1.5" fill="#000"/>
<rect x="121.7" y="461.2" width="1.5" height="1.5" fill="#000"/>
<rect x="134.8" y="461.2" width="1.5" height="1.5" fill="#000"/>
<rect x="137.1" y="461.2" width="1.5" height="1.5" fill="#000"/>
<rect x="96.3" y="476.5" width="1.5" height="1.5" fill="#000"/>
<rect x="105.8" y="476.5" width="1.5" height="1.5" fill="#000"/>
<rect x="118.6" y="475.0" width="1.5" height="1.5" fill="#000"/>
<rect x="120.9" y="478.0" width="1.5" height="1.5" fill="#000"/>
<rect x="122.5" y="477.3" width="1.5" height="1.5" fill="#000"/>
<rect x="124.8" y="476.5" width="1.5" height="1.5" fill="#000"/>
<rect x="127.1" y="475.0" width="1.5" height="1.5" fill="#000"/>
<rect x="129.4" y="475.0" width="1.5" height="1.5" fill="#000"/>
<rect x="107.1" y="482.7" width="1.5" height="1.5" fill="#000"/>
<rect x="109.8" y="484.2" width="1.5" height="1.5" fill="#000"/>
<rect x="114.0" y="481.2" width="1.5" height="1.5" fill="#000"/>
<rect x="124.0" y="486.5" width="1.5" height="1.5" fill="#000"/>
<rect x="129.4" y="485.8" width="1.5" height="1.5" fill="#000"/>
<rect x="95.5" y="485.8" width="1.5" height="1.5" fill="#000"/>
<rect x="102.2" y="493.5" width="1.5" height="1.5" fill="#000"/>
<rect x="104.8" y="494.5" width="1.5" height="1.5" fill="#000"/>
<rect x="118.6" y="494.5" width="1.5" height="1.5" fill="#000"/>
<rect x="92.5" y="462.7" width="1.5" height="1.5" fill="#000"/>
<rect x="91.7" y="470.4" width="1.5" height="1.5" fill="#000"/>
<rect x="83.7" y="473.5" width="1.5" height="1.5" fill="#000"/>
<rect x="84.0" y="475.0" width="1.5" height="1.5" fill="#000"/>
<rect x="89.8" y="475.0" width="1.5" height="1.5" fill="#000"/>
<rect x="87.0" y="477.3" width="1.5" height="1.5" fill="#000"/>
<rect x="87.8" y="478.0" width="1.5" height="1.5" fill="#000"/>
<rect x="74.0" y="481.2" width="1.5" height="1.5" fill="#000"/>
<rect x="75.5" y="481.9" width="1.5" height="1.5" fill="#000"/>
<rect x="77.0" y="481.2" width="1.5" height="1.5" fill="#000"/>
<rect x="80.2" y="479.6" width="1.5" height="1.5" fill="#000"/>
<rect x="85.5" y="481.9" width="1.5" height="1.5" fill="#000"/>
<rect x="86.8" y="483.2" width="1.5" height="1.5" fill="#000"/>
<rect x="84.0" y="484.2" width="1.5" height="1.5" fill="#000"/>
<rect x="90.9" y="484.2" width="1.5" height="1.5" fill="#000"/>
<rect x="77.0" y="484.2" width="1.5" height="1.5" fill="#000"/>
<rect x="88.6" y="488.0" width="1.5" height="1.5" fill="#000"/>
<rect x="90.2" y="488.8" width="1.5" height="1.5" fill="#000"/>
<rect x="78.6" y="488.0" width="1.5" height="1.5" fill="#000"/>
<rect x="79.4" y="489.6" width="1.5" height="1.5" fill="#000"/>
<rect x="80.9" y="488.8" width="1.5" height="1.5" fill="#000"/>
<rect x="73.2" y="491.2" width="1.5" height="1.5" fill="#000"/>
<rect x="75.5" y="490.4" width="1.5" height="1.5" fill="#000"/>
<rect x="67.8" y="494.2" width="1.5" height="1.5" fill="#000"/>
<rect x="69.4" y="495.0" width="1.5" height="1.5" fill="#000"/>
<rect x="70.9" y="494.2" width="1.5" height="1.5" fill="#000"/>
<rect x="74.8" y="494.2" width="1.5" height="1.5" fill="#000"/>
<rect x="76.3" y="495.0" width="1.5" height="1.5" fill="#000"/>
<rect x="78.6" y="495.8" width="1.5" height="1.5" fill="#000"/>
<rect x="80.2" y="495.0" width="1.5" height="1.5" fill="#000"/>
<rect x="86.3" y="494.2" width="1.5" height="1.5" fill="#000"/>
<rect x="93.2" y="491.9" width="1.5" height="1.5" fill="#000"/>
<rect x="93.2" y="493.5" width="1.5" height="1.5" fill="#000"/>
<rect x="68.6" y="497.3" width="1.5" height="1.5" fill="#000"/>
<rect x="70.9" y="498.1" width="1.5" height="1.5" fill="#000"/>
<rect x="74.8" y="498.1" width="1.5" height="1.5" fill="#000"/>
<rect x="77.8" y="497.3" width="1.5" height="1.5" fill="#000"/>
<rect x="88.6" y="497.3" width="1.5" height="1.5" fill="#000"/>
<rect x="74.0" y="502.0" width="1.5" height="1.5" fill="#000"/>
<rect x="88.6" y="502.0" width="1.5" height="1.5" fill="#000"/>
<rect x="67.0" y="503.5" width="1.5" height="1.5" fill="#000"/>
<rect x="92.5" y="499.6" width="1.5" height="1.5" fill="#000"/>
<rect x="76.3" y="506.5" width="1.5" height="1.5" fill="#000"/>
<rect x="78.6" y="506.5" width="1.5" height="1.5" fill="#000"/>
<rect x="80.2" y="506.5" width="1.5" height="1.5" fill="#000"/>
<rect x="67.8" y="505.8" width="1.5" height="1.5" fill="#000"/>
<rect x="93.2" y="466.0" width="1.5" height="1.5" fill="#000"/>
<rect x="93.2" y="480.0" width="1.5" height="1.5" fill="#000"/>
<polygon points="261.9,420.5 261.8,422.2 260.7,423.7 259.4,424.9 257.9,425.9 256.1,426.3 254.3,425.8 252.8,425.4 250.9,425.5 248.7,425.3 247.1,424.1 247.1,422.2 247.9,420.5 248.3,419.1 248.5,417.7 249.5,416.4 250.9,415.5 252.5,414.7 254.3,413.8 256.4,413.8 257.9,415.1 258.5,416.9 259.2,418.1 260.6,419.0" fill="#111"/>
<rect x="256.9" y="422.3" width="1.4" height="1.4" fill="#000"/>
<rect x="255.5" y="423.7" width="1.4" height="1.4" fill="#000"/>
<rect x="257.4" y="413.4" width="1.4" height="1.4" fill="#000"/>
<rect x="254.3" y="424.8" width="1.4" height="1.4" fill="#000"/>
<rect x="246.5" y="423.5" width="1.4" height="1.4" fill="#000"/>
<rect x="251.4" y="424.2" width="1.4" height="1.4" fill="#000"/>
<rect x="259.7" y="423.7" width="1.4" height="1.4" fill="#000"/>
<rect x="247.5" y="415.4" width="1.4" height="1.4" fill="#000"/>
<rect x="247.6" y="419.4" width="1.4" height="1.4" fill="#000"/>
<rect x="246.5" y="420.8" width="1.4" height="1.4" fill="#000"/>
<rect x="255.7" y="414.7" width="1.4" height="1.4" fill="#000"/>
<rect x="256.1" y="414.3" width="1.4" height="1.4" fill="#000"/>
<rect x="250.6" y="415.9" width="1.4" height="1.4" fill="#000"/>
<rect x="244.9" y="421.9" width="1.4" height="1.4" fill="#000"/>
<rect x="263.2" y="423.9" width="1.4" height="1.4" fill="#000"/>
<rect x="245.9" y="421.8" width="1.4" height="1.4" fill="#000"/>
<rect x="250.2" y="412.0" width="1.4" height="1.4" fill="#000"/>
<rect x="263.4" y="421.2" width="1.4" height="1.4" fill="#000"/>
<rect x="260.0" y="424.2" width="1.4" height="1.4" fill="#000"/>
<rect x="254.0" y="424.3" width="1.4" height="1.4" fill="#000"/>
<rect x="246.8" y="421.7" width="1.4" height="1.4" fill="#000"/>
<rect x="256.4" y="412.7" width="1.4" height="1.4" fill="#000"/>
<rect x="249.9" y="414.2" width="1.4" height="1.4" fill="#000"/>
<rect x="256.3" y="414.1" width="1.4" height="1.4" fill="#000"/>
<rect x="253.9" y="424.5" width="1.4" height="1.4" fill="#000"/>
<rect x="247.6" y="423.8" width="1.4" height="1.4" fill="#000"/>
<rect x="260.2" y="425.8" width="1.4" height="1.4" fill="#000"/>
<rect x="245.8" y="414.8" width="1.4" height="1.4" fill="#000"/>
<rect x="255.6" y="423.8" width="1.4" height="1.4" fill="#000"/>
<rect x="260.5" y="423.8" width="1.4" height="1.4" fill="#000"/>
<rect x="253.6" y="413.6" width="1.4" height="1.4" fill="#000"/>
<rect x="251.7" y="424.2" width="1.4" height="1.4" fill="#000"/>
<rect x="248.0" y="411.5" width="1.4" height="1.4" fill="#000"/>
<rect x="257.4" y="411.7" width="1.4" height="1.4" fill="#000"/>
<rect x="261.1" y="420.0" width="1.4" height="1.4" fill="#000"/>
<rect x="247.4" y="418.1" width="1.4" height="1.4" fill="#000"/>
<rect x="248.9" y="415.2" width="1.4" height="1.4" fill="#000"/>
<rect x="260.5" y="422.4" width="1.4" height="1.4" fill="#000"/>
<rect x="250.6" y="412.8" width="1.4" height="1.4" fill="#000"/>
<rect x="253.4" y="424.2" width="1.4" height="1.4" fill="#000"/>
<rect x="261.1" y="422.2" width="1.4" height="1.4" fill="#000"/>
<rect x="259.9" y="425.9" width="1.4" height="1.4" fill="#000"/>
<rect x="249.3" y="424.9" width="1.4" height="1.4" fill="#000"/>
<rect x="259.2" y="414.7" width="1.4" height="1.4" fill="#000"/>
<rect x="256.6" y="412.2" width="1.4" height="1.4" fill="#000"/>
<rect x="252.3" y="424.7" width="1.4" height="1.4" fill="#000"/>
<rect x="261.2" y="421.0" width="1.4" height="1.4" fill="#000"/>
<rect x="255.5" y="423.1" width="1.4" height="1.4" fill="#000"/>
<rect x="254.5" y="425.1" width="1.4" height="1.4" fill="#000"/>
<rect x="258.0" y="414.7" width="1.4" height="1.4" fill="#000"/>
<rect x="244.7" y="421.4" width="1.4" height="1.4" fill="#000"/>
<rect x="260.9" y="419.3" width="1.4" height="1.4" fill="#000"/>
<rect x="245.5" y="417.8" width="1.4" height="1.4" fill="#000"/>
<rect x="249.1" y="416.7" width="1.4" height="1.4" fill="#000"/>
<rect x="256.1" y="416.5" width="1.4" height="1.4" fill="#000"/>
<rect x="259.8" y="418.7" width="1.4" height="1.4" fill="#000"/>
<rect x="255.3" y="416.3" width="1.4" height="1.4" fill="#000"/>
<rect x="250.8" y="417.1" width="1.4" height="1.4" fill="#000"/>
<rect x="252.6" y="425.0" width="1.4" height="1.4" fill="#000"/>
<rect x="250.8" y="425.6" width="1.4" height="1.4" fill="#000"/>
<rect x="244.9" y="424.2" width="1.4" height="1.4" fill="#000"/>
<rect x="246.1" y="417.0" width="1.4" height="1.4" fill="#000"/>
<rect x="256.9" y="416.8" width="1.4" height="1.4" fill="#000"/>
<rect x="252.2" y="413.0" width="1.4" height="1.4" fill="#000"/>
<rect x="262.1" y="417.1" width="1.4" height="1.4" fill="#000"/>
<rect x="250.1" y="420.4" width="1.4" height="1.4" fill="#000"/>
<rect x="258.7" y="426.5" width="1.4" height="1.4" fill="#000"/>
<rect x="255.0" y="425.7" width="1.4" height="1.4" fill="#000"/>
<rect x="260.7" y="421.4" width="1.4" height="1.4" fill="#000"/>
<rect x="260.7" y="424.6" width="1.4" height="1.4" fill="#000"/>
<rect x="248.2" y="420.6" width="1.4" height="1.4" fill="#000"/>
<rect x="260.0" y="413.9" width="1.4" height="1.4" fill="#000"/>
<rect x="247.4" y="420.3" width="1.4" height="1.4" fill="#000"/>
<rect x="262.0" y="421.6" width="1.4" height="1.4" fill="#000"/>
<rect x="258.1" y="423.1" width="1.4" height="1.4" fill="#000"/>
<rect x="259.0" y="422.4" width="1.4" height="1.4" fill="#000"/>
<rect x="247.2" y="424.4" width="1.4" height="1.4" fill="#000"/>
<rect x="250.4" y="425.4" width="1.4" height="1.4" fill="#000"/>
<rect x="245.1" y="420.9" width="1.4" height="1.4" fill="#000"/>
<rect x="248.4" y="424.1" width="1.4" height="1.4" fill="#000"/>
<rect x="249.0" y="418.6" width="1.4" height="1.4" fill="#000"/>
<rect x="261.1" y="425.0" width="1.4" height="1.4" fill="#000"/>
<rect x="258.9" y="425.1" width="1.4" height="1.4" fill="#000"/>
<rect x="250.8" y="410.8" width="1.4" height="1.4" fill="#000"/>
<rect x="262.9" y="421.6" width="1.4" height="1.4" fill="#000"/>
<rect x="250.7" y="423.2" width="1.4" height="1.4" fill="#000"/>
<rect x="251.7" y="414.2" width="1.4" height="1.4" fill="#000"/>
<rect x="252.3" y="425.5" width="1.4" height="1.4" fill="#000"/>
<rect x="253.4" y="416.0" width="1.4" height="1.4" fill="#000"/>
<rect x="252.3" y="412.3" width="1.4" height="1.4" fill="#000"/>
<rect x="249.3" y="417.1" width="1.4" height="1.4" fill="#000"/>
<rect x="248.8" y="417.3" width="1.4" height="1.4" fill="#000"/>
<rect x="248.4" y="424.5" width="1.4" height="1.4" fill="#000"/>
<rect x="255.7" y="415.2" width="1.4" height="1.4" fill="#000"/>
<rect x="258.8" y="417.1" width="1.4" height="1.4" fill="#000"/>
<rect x="247.4" y="421.2" width="1.4" height="1.4" fill="#000"/>
<rect x="253.9" y="414.6" width="1.4" height="1.4" fill="#000"/>
<rect x="250.0" y="425.8" width="1.4" height="1.4" fill="#000"/>
<rect x="259.3" y="418.7" width="1.4" height="1.4" fill="#000"/>
<rect x="258.0" y="416.7" width="1.4" height="1.4" fill="#000"/>
<rect x="249.7" y="424.0" width="1.4" height="1.4" fill="#000"/>
<rect x="252.9" y="428.2" width="1.4" height="1.4" fill="#000"/>
<rect x="262.2" y="421.6" width="1.4" height="1.4" fill="#000"/>
<rect x="255.5" y="424.7" width="1.4" height="1.4" fill="#000"/>
<rect x="260.2" y="419.4" width="1.4" height="1.4" fill="#000"/>
<rect x="259.5" y="423.4" width="1.4" height="1.4" fill="#000"/>
<rect x="261.7" y="418.4" width="1.4" height="1.4" fill="#000"/>
<rect x="251.7" y="414.3" width="1.4" height="1.4" fill="#000"/>
<rect x="247.0" y="426.0" width="1.4" height="1.4" fill="#000"/>
<rect x="246.0" y="416.3" width="1.4" height="1.4" fill="#000"/>
<line x1="254.00" y1="427.00" x2="254.00" y2="436.00" stroke="#000" stroke-width="1.3" />
<line x1="251.00" y1="428.00" x2="248.00" y2="433.00" stroke="#000" stroke-width="1.3" />
<line x1="258.00" y1="428.00" x2="261.00" y2="433.00" stroke="#000" stroke-width="1.3" />
<line x1="262.00" y1="421.00" x2="266.00" y2="421.00" stroke="#000" stroke-width="1.3" />
<line x1="250.00" y1="413.00" x2="251.00" y2="409.00" stroke="#000" stroke-width="1.3" />
<line x1="257.00" y1="413.00" x2="259.00" y2="410.00" stroke="#000" stroke-width="1.3" />
<rect x="243.0" y="415.0" width="1.5" height="1.5" fill="#000"/>
<rect x="246.0" y="429.0" width="1.5" height="1.5" fill="#000"/>
<rect x="262.0" y="417.0" width="1.5" height="1.5" fill="#000"/>
<rect x="263.0" y="425.0" width="1.5" height="1.5" fill="#000"/>
<rect x="260.0" y="432.0" width="1.5" height="1.5" fill="#000"/>
<rect x="249.0" y="434.0" width="1.5" height="1.5" fill="#000"/>
<rect x="255.0" y="436.0" width="1.5" height="1.5" fill="#000"/>
<rect x="256.5" y="393.0" width="1.5" height="1.5" fill="#000"/>
<rect x="241.0" y="433.0" width="1.5" height="1.5" fill="#000"/>
<rect x="252.0" y="409.0" width="1.5" height="1.5" fill="#000"/>
<rect x="262.0" y="410.0" width="1.5" height="1.5" fill="#000"/>
<rect x="284.5" y="419.5" width="1.5" height="1.5" fill="#000"/>
<rect x="239.6" y="490.8" width="1.5" height="1.5" fill="#000"/>
<rect x="240.6" y="492.7" width="1.5" height="1.5" fill="#000"/>
<rect x="238.7" y="498.5" width="1.5" height="1.5" fill="#000"/>
<rect x="241.5" y="494.6" width="1.5" height="1.5" fill="#000"/>
<rect x="245.4" y="496.5" width="1.5" height="1.5" fill="#000"/>
<rect x="244.4" y="480.2" width="1.5" height="1.5" fill="#000"/>
<rect x="243.5" y="499.4" width="1.5" height="1.5" fill="#000"/>
<rect x="247.3" y="503.3" width="1.5" height="1.5" fill="#000"/>
<rect x="256.0" y="501.3" width="1.5" height="1.5" fill="#000"/>
<rect x="257.9" y="492.7" width="1.5" height="1.5" fill="#000"/>
<rect x="260.8" y="491.7" width="1.5" height="1.5" fill="#000"/>
<rect x="258.8" y="496.5" width="1.5" height="1.5" fill="#000"/>
<rect x="261.7" y="496.5" width="1.5" height="1.5" fill="#000"/>
<rect x="260.8" y="485.0" width="1.5" height="1.5" fill="#000"/>
<rect x="261.2" y="486.0" width="1.5" height="1.5" fill="#000"/>
<rect x="262.7" y="498.5" width="1.5" height="1.5" fill="#000"/>
<rect x="239.6" y="505.2" width="1.5" height="1.5" fill="#000"/>
<rect x="245.4" y="505.2" width="1.5" height="1.5" fill="#000"/>
<rect x="249.2" y="505.2" width="1.5" height="1.5" fill="#000"/>
<rect x="255.0" y="505.2" width="1.5" height="1.5" fill="#000"/>
<rect x="263.7" y="504.2" width="1.5" height="1.5" fill="#000"/>
<rect x="265.0" y="459.0" width="1.5" height="1.5" fill="#000"/>
<rect x="265.0" y="465.8" width="1.5" height="1.5" fill="#000"/>
<rect x="268.5" y="469.6" width="1.5" height="1.5" fill="#000"/>
<rect x="276.2" y="469.6" width="1.5" height="1.5" fill="#000"/>
<rect x="279.0" y="474.4" width="1.5" height="1.5" fill="#000"/>
<rect x="281.9" y="473.5" width="1.5" height="1.5" fill="#000"/>
<rect x="283.8" y="474.4" width="1.5" height="1.5" fill="#000"/>
<rect x="272.3" y="476.3" width="1.5" height="1.5" fill="#000"/>
<rect x="272.3" y="479.2" width="1.5" height="1.5" fill="#000"/>
<rect x="271.3" y="482.1" width="1.5" height="1.5" fill="#000"/>
<rect x="279.0" y="481.2" width="1.5" height="1.5" fill="#000"/>
<rect x="287.7" y="481.2" width="1.5" height="1.5" fill="#000"/>
<rect x="266.5" y="481.2" width="1.5" height="1.5" fill="#000"/>
<rect x="283.8" y="486.9" width="1.5" height="1.5" fill="#000"/>
<rect x="274.2" y="486.9" width="1.5" height="1.5" fill="#000"/>
<rect x="268.5" y="496.5" width="1.5" height="1.5" fill="#000"/>
<rect x="279.0" y="502.3" width="1.5" height="1.5" fill="#000"/>
<rect x="294.4" y="499.4" width="1.5" height="1.5" fill="#000"/>
</svg></body></html>
